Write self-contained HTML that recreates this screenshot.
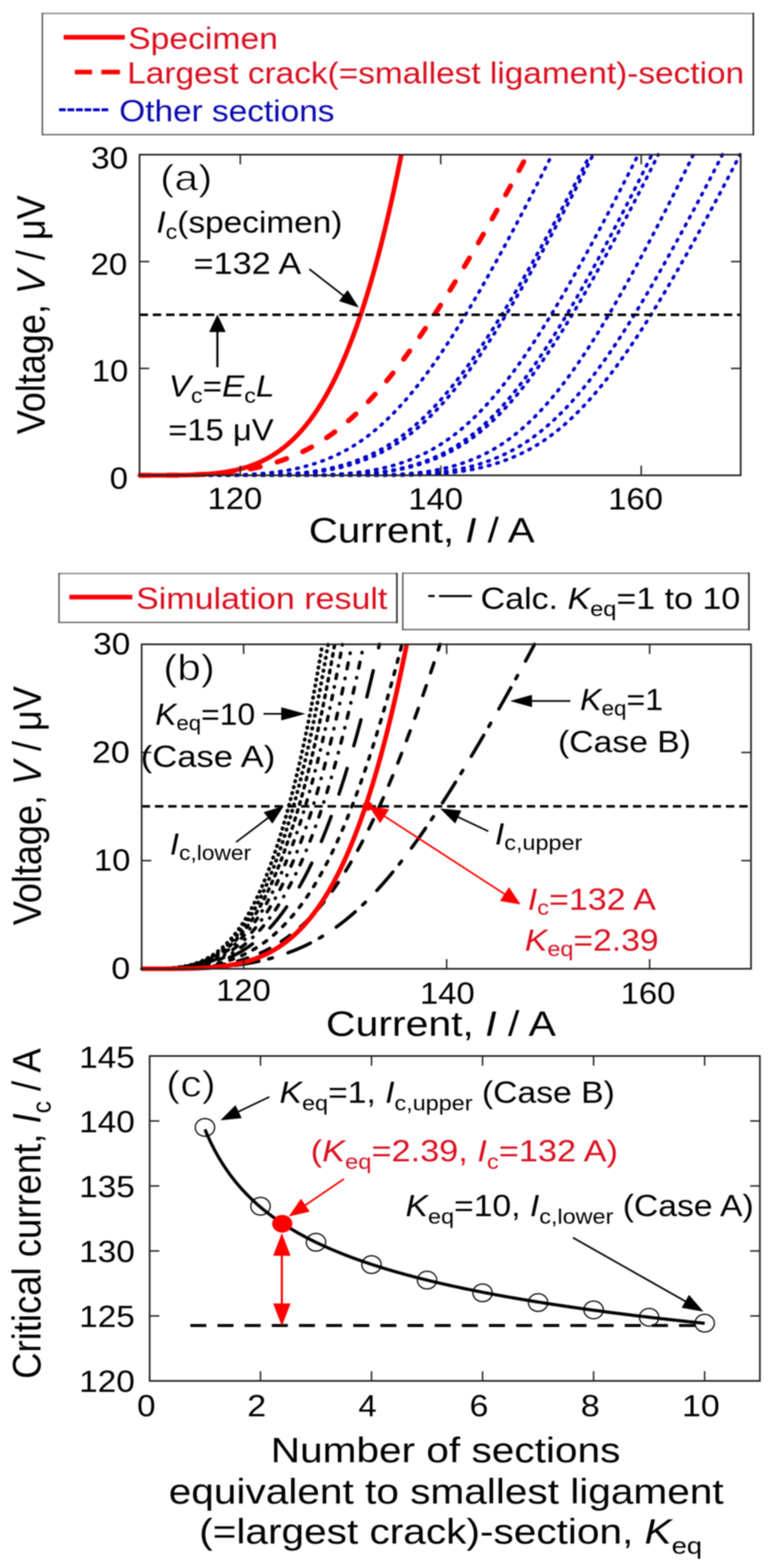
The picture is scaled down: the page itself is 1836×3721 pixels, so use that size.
<!DOCTYPE html>
<html><head><meta charset="utf-8"><title>Figure</title>
<style>html,body{margin:0;padding:0;background:#fff;}svg{display:block;filter:blur(1.5px);}</style>
</head><body>
<svg width="1836" height="3721" viewBox="0 0 1836 3721" font-family='"Liberation Sans", Arial, Helvetica, sans-serif'>
<rect width="1836" height="3721" fill="#fff"/>
<line x1="100.5" y1="32" x2="1787" y2="32" stroke="#7c7c7c" stroke-width="3.2" stroke-linecap="square"/>
<line x1="100.5" y1="319.5" x2="1787" y2="319.5" stroke="#5a5a5a" stroke-width="3.2" stroke-linecap="square"/>
<line x1="100.5" y1="32" x2="100.5" y2="319.5" stroke="#4a4a4a" stroke-width="3.2" stroke-linecap="square"/>
<line x1="1787" y1="32" x2="1787" y2="319.5" stroke="#262626" stroke-width="3.8" stroke-linecap="square"/>
<line x1="151" y1="88.5" x2="296" y2="88.5" stroke="#ff0000" stroke-width="11" stroke-linecap="butt"/>
<text transform="matrix(1.11 0 0 1 303.97 115.5)" font-size="72" fill="#da1020"><tspan>Specimen</tspan></text>
<line x1="177.5" y1="171" x2="218.5" y2="171" stroke="#ff0000" stroke-width="11" stroke-linecap="butt"/>
<line x1="240.5" y1="171" x2="284.5" y2="171" stroke="#ff0000" stroke-width="11" stroke-linecap="butt"/>
<text transform="matrix(1.1 0 0 1 301.79 197.5)" font-size="72" fill="#da1020"><tspan>Largest crack(=smallest ligament)-section</tspan></text>
<line x1="140" y1="260.5" x2="261" y2="260.5" stroke="#0000c8" stroke-width="7" stroke-linecap="butt" stroke-dasharray="15.8 4.4"/>
<text transform="matrix(1.1 0 0 1 282.83 288)" font-size="72" fill="#0a0ab0"><tspan>Other sections</tspan></text>
<path d="M332.25 1128 L333.84 1128 L335.42 1128 L337.01 1128 L338.6 1128 L340.18 1128 L341.77 1128 L343.36 1128 L344.94 1128 L346.53 1128 L348.12 1128 L349.7 1128 L351.29 1128 L352.88 1128 L354.46 1128 L356.05 1128 L357.64 1128 L359.22 1128 L360.81 1128 L362.4 1128 L363.99 1128 L365.57 1128 L367.16 1128 L368.75 1128 L370.33 1128 L371.92 1128 L373.51 1128 L375.09 1128 L376.68 1128 L378.27 1128 L379.85 1128 L381.44 1128 L383.03 1128 L384.61 1128 L386.2 1128 L387.79 1128 L389.37 1128 L390.96 1128 L392.55 1128 L394.13 1128 L395.72 1128 L397.31 1128 L398.89 1128 L400.48 1128 L402.07 1128 L403.65 1128 L405.24 1128 L406.83 1128 L408.41 1128 L410 1128 L411.59 1128 L413.17 1128 L414.76 1128 L416.35 1128 L417.94 1128 L419.52 1128 L421.11 1128 L422.7 1128 L424.28 1128 L425.87 1128 L427.46 1128 L429.04 1128 L430.63 1128 L432.22 1128 L433.8 1128 L435.39 1128 L436.98 1128 L438.56 1128 L440.15 1128 L441.74 1128 L443.32 1128 L444.91 1128 L446.5 1128 L448.08 1128 L449.67 1128 L451.26 1128 L452.84 1128 L454.43 1128 L456.02 1128 L457.6 1128 L459.19 1128 L460.78 1128 L462.36 1128 L463.95 1128 L465.54 1128 L467.12 1128 L468.71 1128 L470.3 1128 L471.89 1128 L473.47 1128 L475.06 1128 L476.65 1128 L478.23 1128 L479.82 1127.99 L481.41 1127.99 L482.99 1127.99 L484.58 1127.99 L486.17 1127.99 L487.75 1127.98 L489.34 1127.98 L490.93 1127.98 L492.51 1127.98 L494.1 1127.97 L495.69 1127.97 L497.27 1127.96 L498.86 1127.96 L500.45 1127.95 L502.03 1127.95 L503.62 1127.94 L505.21 1127.93 L506.79 1127.92 L508.38 1127.92 L509.97 1127.91 L511.55 1127.9 L513.14 1127.89 L514.73 1127.88 L516.31 1127.86 L517.9 1127.85 L519.49 1127.84 L521.07 1127.82 L522.66 1127.81 L524.25 1127.79 L525.84 1127.78 L527.42 1127.76 L529.01 1127.74 L530.6 1127.72 L532.18 1127.7 L533.77 1127.68 L535.36 1127.66 L536.94 1127.63 L538.53 1127.61 L540.12 1127.58 L541.7 1127.55 L543.29 1127.53 L544.88 1127.5 L546.46 1127.46 L548.05 1127.43 L549.64 1127.4 L551.22 1127.36 L552.81 1127.33 L554.4 1127.29 L555.98 1127.25 L557.57 1127.21 L559.16 1127.16 L560.74 1127.12 L562.33 1127.07 L563.92 1127.03 L565.5 1126.98 L567.09 1126.93 L568.68 1126.87 L570.26 1126.82 L571.85 1126.76 L573.44 1126.7 L575.02 1126.64 L576.61 1126.58 L578.2 1126.52 L579.79 1126.45 L581.37 1126.38 L582.96 1126.31 L584.55 1126.24 L586.13 1126.16 L587.72 1126.09 L589.31 1126.01 L590.89 1125.93 L592.48 1125.84 L594.07 1125.76 L595.65 1125.67 L597.24 1125.58 L598.83 1125.48 L600.41 1125.39 L602 1125.29 L603.59 1125.19 L605.17 1125.09 L606.76 1124.98 L608.35 1124.87 L609.93 1124.76 L611.52 1124.64 L613.11 1124.53 L614.69 1124.41 L616.28 1124.28 L617.87 1124.16 L619.45 1124.03 L621.04 1123.9 L622.63 1123.76 L624.21 1123.62 L625.8 1123.48 L627.39 1123.34 L628.97 1123.19 L630.56 1123.04 L632.15 1122.88 L633.73 1122.73 L635.32 1122.56 L636.91 1122.4 L638.5 1122.23 L640.08 1122.06 L641.67 1121.89 L643.26 1121.71 L644.84 1121.52 L646.43 1121.34 L648.02 1121.15 L649.6 1120.96 L651.19 1120.76 L652.78 1120.56 L654.36 1120.35 L655.95 1120.14 L657.54 1119.93 L659.12 1119.71 L660.71 1119.49 L662.3 1119.27 L663.88 1119.04 L665.47 1118.8 L667.06 1118.57 L668.64 1118.32 L670.23 1118.08 L671.82 1117.83 L673.4 1117.57 L674.99 1117.31 L676.58 1117.05 L678.16 1116.78 L679.75 1116.5 L681.34 1116.23 L682.92 1115.94 L684.51 1115.66 L686.1 1115.36 L687.68 1115.07 L689.27 1114.76 L690.86 1114.46 L692.45 1114.14 L694.03 1113.83 L695.62 1113.5 L697.21 1113.18 L698.79 1112.84 L700.38 1112.51 L701.97 1112.16 L703.55 1111.82 L705.14 1111.46 L706.73 1111.1 L708.31 1110.74 L709.9 1110.37 L711.49 1109.99 L713.07 1109.61 L714.66 1109.23 L716.25 1108.83 L717.83 1108.43 L719.42 1108.03 L721.01 1107.62 L722.59 1107.2 L724.18 1106.78 L725.77 1106.36 L727.35 1105.92 L728.94 1105.48 L730.53 1105.04 L732.11 1104.58 L733.7 1104.13 L735.29 1103.66 L736.87 1103.19 L738.46 1102.71 L740.05 1102.23 L741.63 1101.74 L743.22 1101.24 L744.81 1100.74 L746.4 1100.23 L747.98 1099.71 L749.57 1099.19 L751.16 1098.66 L752.74 1098.12 L754.33 1097.58 L755.92 1097.03 L757.5 1096.47 L759.09 1095.9 L760.68 1095.33 L762.26 1094.75 L763.85 1094.17 L765.44 1093.57 L767.02 1092.97 L768.61 1092.36 L770.2 1091.75 L771.78 1091.12 L773.37 1090.49 L774.96 1089.86 L776.54 1089.23 L778.13 1088.59 L779.72 1087.95 L781.3 1087.3 L782.89 1086.64 L784.48 1085.97 L786.06 1085.3 L787.65 1084.62 L789.24 1083.92 L790.82 1083.22 L792.41 1082.52 L794 1081.8 L795.58 1081.07 L797.17 1080.34 L798.76 1079.6 L800.35 1078.85 L801.93 1078.09 L803.52 1077.32 L805.11 1076.54 L806.69 1075.75 L808.28 1074.96 L809.87 1074.15 L811.45 1073.34 L813.04 1072.52 L814.63 1071.68 L816.21 1070.84 L817.8 1069.99 L819.39 1069.13 L820.97 1068.26 L822.56 1067.39 L824.15 1066.5 L825.73 1065.6 L827.32 1064.69 L828.91 1063.78 L830.49 1062.85 L832.08 1061.91 L833.67 1060.97 L835.25 1060.01 L836.84 1059.05 L838.43 1058.07 L840.01 1057.09 L841.6 1056.09 L843.19 1055.09 L844.77 1054.07 L846.36 1053.05 L847.95 1052.01 L849.53 1050.96 L851.12 1049.91 L852.71 1048.84 L854.3 1047.77 L855.88 1046.68 L857.47 1045.58 L859.06 1044.48 L860.64 1043.36 L862.23 1042.23 L863.82 1041.09 L865.4 1039.94 L866.99 1038.78 L868.58 1037.61 L870.16 1036.43 L871.75 1035.24 L873.34 1034.04 L874.92 1032.82 L876.51 1031.6 L878.1 1030.37 L879.68 1029.12 L881.27 1027.87 L882.86 1026.6 L884.44 1025.32 L886.03 1024.03 L887.62 1022.74 L889.2 1021.43 L890.79 1020.1 L892.38 1018.77 L893.96 1017.43 L895.55 1016.08 L897.14 1014.71 L898.72 1013.34 L900.31 1011.95 L901.9 1010.55 L903.48 1009.14 L905.07 1007.72 L906.66 1006.29 L908.24 1004.85 L909.83 1003.4 L911.42 1001.93 L913.01 1000.46 L914.59 998.97 L916.18 997.48 L917.77 995.97 L919.35 994.45 L920.94 992.92 L922.53 991.38 L924.11 989.82 L925.7 988.26 L927.29 986.69 L928.87 985.1 L930.46 983.5 L932.05 981.89 L933.63 980.27 L935.22 978.64 L936.81 977 L938.39 975.35 L939.98 973.69 L941.57 972.01 L943.15 970.33 L944.74 968.63 L946.33 966.92 L947.91 965.2 L949.5 963.47 L951.09 961.73 L952.67 959.98 L954.26 958.22 L955.85 956.45 L957.43 954.66 L959.02 952.87 L960.61 951.06 L962.19 949.24 L963.78 947.41 L965.37 945.58 L966.96 943.73 L968.54 941.87 L970.13 939.99 L971.72 938.11 L973.3 936.22 L974.89 934.32 L976.48 932.4 L978.06 930.48 L979.65 928.54 L981.24 926.6 L982.82 924.64 L984.41 922.68 L986 920.7 L987.58 918.71 L989.17 916.71 L990.76 914.71 L992.34 912.69 L993.93 910.66 L995.52 908.62 L997.1 906.57 L998.69 904.51 L1000.28 902.44 L1001.86 900.36 L1003.45 898.27 L1005.04 896.17 L1006.62 894.06 L1008.21 891.94 L1009.8 889.81 L1011.38 887.67 L1012.97 885.52 L1014.56 883.36 L1016.14 881.2 L1017.73 879.02 L1019.32 876.83 L1020.91 874.63 L1022.49 872.42 L1024.08 870.21 L1025.67 867.98 L1027.25 865.75 L1028.84 863.5 L1030.43 861.25 L1032.01 858.98 L1033.6 856.71 L1035.19 854.43 L1036.77 852.14 L1038.36 849.84 L1039.95 847.53 L1041.53 845.21 L1043.12 842.89 L1044.71 840.55 L1046.29 838.21 L1047.88 835.85 L1049.47 833.49 L1051.05 831.12 L1052.64 828.74 L1054.23 826.36 L1055.81 823.96 L1057.4 821.56 L1058.99 819.14 L1060.57 816.72 L1062.16 814.29 L1063.75 811.86 L1065.33 809.41 L1066.92 806.96 L1068.51 804.5 L1070.09 802.03 L1071.68 799.55 L1073.27 797.06 L1074.86 794.57 L1076.44 792.07 L1078.03 789.56 L1079.62 787.05 L1081.2 784.52 L1082.79 781.99 L1084.38 779.46 L1085.96 776.91 L1087.55 774.36 L1089.14 771.8 L1090.72 769.23 L1092.31 766.66 L1093.9 764.08 L1095.48 761.49 L1097.07 758.89 L1098.66 756.29 L1100.24 753.68 L1101.83 751.07 L1103.42 748.44 L1105 745.81 L1106.59 743.18 L1108.18 740.54 L1109.76 737.89 L1111.35 735.23 L1112.94 732.57 L1114.52 729.9 L1116.11 727.23 L1117.7 724.55 L1119.28 721.86 L1120.87 719.17 L1122.46 716.47 L1124.04 713.77 L1125.63 711.06 L1127.22 708.34 L1128.81 705.62 L1130.39 702.89 L1131.98 700.16 L1133.57 697.42 L1135.15 694.67 L1136.74 691.92 L1138.33 689.17 L1139.91 686.41 L1141.5 683.64 L1143.09 680.87 L1144.67 678.09 L1146.26 675.31 L1147.85 672.52 L1149.43 669.73 L1151.02 666.93 L1152.61 664.13 L1154.19 661.32 L1155.78 658.51 L1157.37 655.69 L1158.95 652.87 L1160.54 650.04 L1162.13 647.21 L1163.71 644.37 L1165.3 641.53 L1166.89 638.68 L1168.47 635.83 L1170.06 632.98 L1171.65 630.12 L1173.23 627.25 L1174.82 624.39 L1176.41 621.51 L1177.99 618.64 L1179.58 615.75 L1181.17 612.87 L1182.76 609.98 L1184.34 607.08 L1185.93 604.18 L1187.52 601.28 L1189.1 598.37 L1190.69 595.46 L1192.28 592.55 L1193.86 589.63 L1195.45 586.71 L1197.04 583.78 L1198.62 580.85 L1200.21 577.91 L1201.8 574.98 L1203.38 572.03 L1204.97 569.09 L1206.56 566.14 L1208.14 563.18 L1209.73 560.22 L1211.32 557.26 L1212.9 554.3 L1214.49 551.33 L1216.08 548.36 L1217.66 545.38 L1219.25 542.4 L1220.84 539.41 L1222.42 536.43 L1224.01 533.44 L1225.6 530.44 L1227.18 527.44 L1228.77 524.44 L1230.36 521.44 L1231.94 518.43 L1233.53 515.41 L1235.12 512.4 L1236.7 509.38 L1238.29 506.36 L1239.88 503.33 L1241.47 500.3 L1243.05 497.26 L1244.64 494.23 L1246.23 491.18 L1247.81 488.14 L1249.4 485.09 L1250.99 482.04 L1252.57 478.98 L1254.16 475.92 L1255.75 472.86 L1257.33 469.8 L1258.92 466.72 L1260.51 463.65 L1262.09 460.57 L1263.68 457.49 L1265.27 454.41 L1266.85 451.32 L1268.44 448.23 L1270.03 445.13 L1271.61 442.03 L1273.2 438.93 L1274.79 435.82 L1276.37 432.71 L1277.96 429.59 L1279.55 426.47 L1281.13 423.35 L1282.72 420.22 L1284.31 417.09 L1285.89 413.96 L1287.48 410.82 L1289.07 407.67 L1290.65 404.52 L1292.24 401.37 L1293.83 398.22 L1295.42 395.05 L1297 391.89 L1298.59 388.72 L1300.18 385.55 L1301.76 382.37 L1303.35 379.19 L1304.94 376 L1306.52 372.81 L1308.11 369.61 L1309.4 367" fill="none" stroke="#0000c8" stroke-width="8" stroke-linecap="round" stroke-linejoin="round" stroke-dasharray="4 16.7"/>
<path d="M332.25 1128 L333.84 1128 L335.42 1128 L337.01 1128 L338.6 1128 L340.18 1128 L341.77 1128 L343.36 1128 L344.94 1128 L346.53 1128 L348.12 1128 L349.7 1128 L351.29 1128 L352.88 1128 L354.46 1128 L356.05 1128 L357.64 1128 L359.22 1128 L360.81 1128 L362.4 1128 L363.99 1128 L365.57 1128 L367.16 1128 L368.75 1128 L370.33 1128 L371.92 1128 L373.51 1128 L375.09 1128 L376.68 1128 L378.27 1128 L379.85 1128 L381.44 1128 L383.03 1128 L384.61 1128 L386.2 1128 L387.79 1128 L389.37 1128 L390.96 1128 L392.55 1128 L394.13 1128 L395.72 1128 L397.31 1128 L398.89 1128 L400.48 1128 L402.07 1128 L403.65 1128 L405.24 1128 L406.83 1128 L408.41 1128 L410 1128 L411.59 1128 L413.17 1128 L414.76 1128 L416.35 1128 L417.94 1128 L419.52 1128 L421.11 1128 L422.7 1128 L424.28 1128 L425.87 1128 L427.46 1128 L429.04 1128 L430.63 1128 L432.22 1128 L433.8 1128 L435.39 1128 L436.98 1128 L438.56 1128 L440.15 1128 L441.74 1128 L443.32 1128 L444.91 1128 L446.5 1128 L448.08 1128 L449.67 1128 L451.26 1128 L452.84 1128 L454.43 1128 L456.02 1128 L457.6 1128 L459.19 1128 L460.78 1128 L462.36 1128 L463.95 1128 L465.54 1128 L467.12 1128 L468.71 1128 L470.3 1128 L471.89 1128 L473.47 1128 L475.06 1128 L476.65 1128 L478.23 1128 L479.82 1128 L481.41 1128 L482.99 1128 L484.58 1128 L486.17 1128 L487.75 1128 L489.34 1128 L490.93 1128 L492.51 1128 L494.1 1128 L495.69 1128 L497.27 1128 L498.86 1128 L500.45 1128 L502.03 1128 L503.62 1128 L505.21 1128 L506.79 1128 L508.38 1128 L509.97 1128 L511.55 1128 L513.14 1128 L514.73 1128 L516.31 1128 L517.9 1128 L519.49 1128 L521.07 1128 L522.66 1128 L524.25 1128 L525.84 1128 L527.42 1128 L529.01 1128 L530.6 1128 L532.18 1128 L533.77 1128 L535.36 1128 L536.94 1128 L538.53 1128 L540.12 1128 L541.7 1128 L543.29 1128 L544.88 1128 L546.46 1128 L548.05 1128 L549.64 1128 L551.22 1127.99 L552.81 1127.99 L554.4 1127.99 L555.98 1127.99 L557.57 1127.99 L559.16 1127.99 L560.74 1127.98 L562.33 1127.98 L563.92 1127.98 L565.5 1127.97 L567.09 1127.97 L568.68 1127.97 L570.26 1127.96 L571.85 1127.96 L573.44 1127.95 L575.02 1127.94 L576.61 1127.94 L578.2 1127.93 L579.79 1127.92 L581.37 1127.91 L582.96 1127.91 L584.55 1127.9 L586.13 1127.89 L587.72 1127.88 L589.31 1127.86 L590.89 1127.85 L592.48 1127.84 L594.07 1127.82 L595.65 1127.81 L597.24 1127.79 L598.83 1127.78 L600.41 1127.76 L602 1127.74 L603.59 1127.72 L605.17 1127.7 L606.76 1127.68 L608.35 1127.66 L609.93 1127.64 L611.52 1127.61 L613.11 1127.59 L614.69 1127.56 L616.28 1127.53 L617.87 1127.51 L619.45 1127.48 L621.04 1127.44 L622.63 1127.41 L624.21 1127.38 L625.8 1127.34 L627.39 1127.31 L628.97 1127.27 L630.56 1127.23 L632.15 1127.19 L633.73 1127.14 L635.32 1127.1 L636.91 1127.05 L638.5 1127.01 L640.08 1126.96 L641.67 1126.91 L643.26 1126.86 L644.84 1126.8 L646.43 1126.75 L648.02 1126.69 L649.6 1126.63 L651.19 1126.57 L652.78 1126.5 L654.36 1126.44 L655.95 1126.37 L657.54 1126.3 L659.12 1126.23 L660.71 1126.16 L662.3 1126.08 L663.88 1126 L665.47 1125.93 L667.06 1125.84 L668.64 1125.76 L670.23 1125.67 L671.82 1125.58 L673.4 1125.49 L674.99 1125.4 L676.58 1125.3 L678.16 1125.2 L679.75 1125.1 L681.34 1125 L682.92 1124.89 L684.51 1124.78 L686.1 1124.67 L687.68 1124.56 L689.27 1124.44 L690.86 1124.32 L692.45 1124.2 L694.03 1124.08 L695.62 1123.95 L697.21 1123.82 L698.79 1123.68 L700.38 1123.55 L701.97 1123.41 L703.55 1123.26 L705.14 1123.12 L706.73 1122.97 L708.31 1122.81 L709.9 1122.66 L711.49 1122.5 L713.07 1122.34 L714.66 1122.17 L716.25 1122 L717.83 1121.83 L719.42 1121.65 L721.01 1121.48 L722.59 1121.29 L724.18 1121.11 L725.77 1120.92 L727.35 1120.72 L728.94 1120.52 L730.53 1120.32 L732.11 1120.12 L733.7 1119.91 L735.29 1119.7 L736.87 1119.48 L738.46 1119.26 L740.05 1119.03 L741.63 1118.81 L743.22 1118.57 L744.81 1118.34 L746.4 1118.1 L747.98 1117.85 L749.57 1117.6 L751.16 1117.35 L752.74 1117.09 L754.33 1116.83 L755.92 1116.56 L757.5 1116.29 L759.09 1116.01 L760.68 1115.73 L762.26 1115.45 L763.85 1115.16 L765.44 1114.87 L767.02 1114.57 L768.61 1114.26 L770.2 1113.95 L771.78 1113.64 L773.37 1113.32 L774.96 1113 L776.54 1112.67 L778.13 1112.34 L779.72 1112 L781.3 1111.66 L782.89 1111.31 L784.48 1110.96 L786.06 1110.6 L787.65 1110.23 L789.24 1109.86 L790.82 1109.49 L792.41 1109.11 L794 1108.72 L795.58 1108.33 L797.17 1107.93 L798.76 1107.53 L800.35 1107.12 L801.93 1106.71 L803.52 1106.29 L805.11 1105.87 L806.69 1105.43 L808.28 1105 L809.87 1104.55 L811.45 1104.11 L813.04 1103.65 L814.63 1103.19 L816.21 1102.72 L817.8 1102.25 L819.39 1101.77 L820.97 1101.29 L822.56 1100.79 L824.15 1100.3 L825.73 1099.79 L827.32 1099.28 L828.91 1098.76 L830.49 1098.24 L832.08 1097.71 L833.67 1097.17 L835.25 1096.63 L836.84 1096.07 L838.43 1095.52 L840.01 1094.95 L841.6 1094.38 L843.19 1093.8 L844.77 1093.22 L846.36 1092.63 L847.95 1092.03 L849.53 1091.42 L851.12 1090.81 L852.71 1090.19 L854.3 1089.57 L855.88 1088.95 L857.47 1088.33 L859.06 1087.69 L860.64 1087.05 L862.23 1086.41 L863.82 1085.75 L865.4 1085.09 L866.99 1084.42 L868.58 1083.74 L870.16 1083.05 L871.75 1082.36 L873.34 1081.65 L874.92 1080.94 L876.51 1080.22 L878.1 1079.49 L879.68 1078.76 L881.27 1078.01 L882.86 1077.26 L884.44 1076.5 L886.03 1075.73 L887.62 1074.95 L889.2 1074.16 L890.79 1073.37 L892.38 1072.56 L893.96 1071.75 L895.55 1070.93 L897.14 1070.1 L898.72 1069.26 L900.31 1068.41 L901.9 1067.55 L903.48 1066.68 L905.07 1065.81 L906.66 1064.92 L908.24 1064.03 L909.83 1063.12 L911.42 1062.21 L913.01 1061.29 L914.59 1060.36 L916.18 1059.41 L917.77 1058.46 L919.35 1057.5 L920.94 1056.53 L922.53 1055.55 L924.11 1054.57 L925.7 1053.57 L927.29 1052.56 L928.87 1051.54 L930.46 1050.51 L932.05 1049.48 L933.63 1048.43 L935.22 1047.37 L936.81 1046.31 L938.39 1045.23 L939.98 1044.14 L941.57 1043.05 L943.15 1041.94 L944.74 1040.82 L946.33 1039.7 L947.91 1038.56 L949.5 1037.41 L951.09 1036.26 L952.67 1035.09 L954.26 1033.91 L955.85 1032.72 L957.43 1031.53 L959.02 1030.32 L960.61 1029.1 L962.19 1027.87 L963.78 1026.63 L965.37 1025.38 L966.96 1024.12 L968.54 1022.85 L970.13 1021.57 L971.72 1020.28 L973.3 1018.98 L974.89 1017.67 L976.48 1016.34 L978.06 1015.01 L979.65 1013.67 L981.24 1012.31 L982.82 1010.95 L984.41 1009.57 L986 1008.19 L987.58 1006.79 L989.17 1005.38 L990.76 1003.97 L992.34 1002.54 L993.93 1001.1 L995.52 999.65 L997.1 998.19 L998.69 996.72 L1000.28 995.24 L1001.86 993.75 L1003.45 992.25 L1005.04 990.73 L1006.62 989.21 L1008.21 987.67 L1009.8 986.13 L1011.38 984.57 L1012.97 983.01 L1014.56 981.43 L1016.14 979.84 L1017.73 978.25 L1019.32 976.64 L1020.91 975.02 L1022.49 973.39 L1024.08 971.75 L1025.67 970.1 L1027.25 968.43 L1028.84 966.76 L1030.43 965.08 L1032.01 963.39 L1033.6 961.68 L1035.19 959.97 L1036.77 958.24 L1038.36 956.51 L1039.95 954.76 L1041.53 953.01 L1043.12 951.24 L1044.71 949.46 L1046.29 947.68 L1047.88 945.88 L1049.47 944.07 L1051.05 942.25 L1052.64 940.43 L1054.23 938.59 L1055.81 936.74 L1057.4 934.88 L1058.99 933.01 L1060.57 931.13 L1062.16 929.24 L1063.75 927.34 L1065.33 925.43 L1066.92 923.51 L1068.51 921.58 L1070.09 919.64 L1071.68 917.69 L1073.27 915.73 L1074.86 913.76 L1076.44 911.78 L1078.03 909.79 L1079.62 907.79 L1081.2 905.78 L1082.79 903.76 L1084.38 901.73 L1085.96 899.7 L1087.55 897.65 L1089.14 895.59 L1090.72 893.52 L1092.31 891.45 L1093.9 889.36 L1095.48 887.27 L1097.07 885.16 L1098.66 883.05 L1100.24 880.92 L1101.83 878.79 L1103.42 876.65 L1105 874.5 L1106.59 872.34 L1108.18 870.17 L1109.76 867.99 L1111.35 865.8 L1112.94 863.61 L1114.52 861.4 L1116.11 859.19 L1117.7 856.97 L1119.28 854.73 L1120.87 852.49 L1122.46 850.25 L1124.04 847.99 L1125.63 845.72 L1127.22 843.45 L1128.81 841.16 L1130.39 838.87 L1131.98 836.57 L1133.57 834.26 L1135.15 831.95 L1136.74 829.62 L1138.33 827.29 L1139.91 824.95 L1141.5 822.6 L1143.09 820.24 L1144.67 817.88 L1146.26 815.51 L1147.85 813.13 L1149.43 810.74 L1151.02 808.34 L1152.61 805.94 L1154.19 803.53 L1155.78 801.11 L1157.37 798.68 L1158.95 796.25 L1160.54 793.8 L1162.13 791.36 L1163.71 788.9 L1165.3 786.44 L1166.89 783.97 L1168.47 781.49 L1170.06 779 L1171.65 776.51 L1173.23 774.01 L1174.82 771.51 L1176.41 768.99 L1177.99 766.48 L1179.58 763.95 L1181.17 761.42 L1182.76 758.88 L1184.34 756.33 L1185.93 753.78 L1187.52 751.22 L1189.1 748.65 L1190.69 746.08 L1192.28 743.5 L1193.86 740.92 L1195.45 738.33 L1197.04 735.73 L1198.62 733.13 L1200.21 730.52 L1201.8 727.9 L1203.38 725.28 L1204.97 722.66 L1206.56 720.02 L1208.14 717.39 L1209.73 714.74 L1211.32 712.09 L1212.9 709.44 L1214.49 706.78 L1216.08 704.11 L1217.66 701.44 L1219.25 698.76 L1220.84 696.08 L1222.42 693.39 L1224.01 690.69 L1225.6 688 L1227.18 685.29 L1228.77 682.58 L1230.36 679.87 L1231.94 677.15 L1233.53 674.43 L1235.12 671.7 L1236.7 668.96 L1238.29 666.22 L1239.88 663.48 L1241.47 660.73 L1243.05 657.98 L1244.64 655.22 L1246.23 652.46 L1247.81 649.69 L1249.4 646.92 L1250.99 644.14 L1252.57 641.36 L1254.16 638.58 L1255.75 635.79 L1257.33 632.99 L1258.92 630.2 L1260.51 627.39 L1262.09 624.59 L1263.68 621.78 L1265.27 618.96 L1266.85 616.14 L1268.44 613.32 L1270.03 610.49 L1271.61 607.66 L1273.2 604.82 L1274.79 601.99 L1276.37 599.14 L1277.96 596.29 L1279.55 593.44 L1281.13 590.59 L1282.72 587.73 L1284.31 584.87 L1285.89 582 L1287.48 579.13 L1289.07 576.26 L1290.65 573.38 L1292.24 570.5 L1293.83 567.61 L1295.42 564.72 L1297 561.83 L1298.59 558.94 L1300.18 556.04 L1301.76 553.13 L1303.35 550.23 L1304.94 547.32 L1306.52 544.4 L1308.11 541.49 L1309.7 538.57 L1311.28 535.64 L1312.87 532.71 L1314.46 529.78 L1316.04 526.85 L1317.63 523.91 L1319.22 520.97 L1320.8 518.02 L1322.39 515.08 L1323.98 512.12 L1325.56 509.17 L1327.15 506.21 L1328.74 503.25 L1330.32 500.28 L1331.91 497.31 L1333.5 494.34 L1335.08 491.37 L1336.67 488.39 L1338.26 485.4 L1339.84 482.42 L1341.43 479.43 L1343.02 476.44 L1344.6 473.44 L1346.19 470.44 L1347.78 467.44 L1349.37 464.43 L1350.95 461.42 L1352.54 458.41 L1354.13 455.39 L1355.71 452.37 L1357.3 449.34 L1358.89 446.32 L1360.47 443.28 L1362.06 440.25 L1363.65 437.21 L1365.23 434.17 L1366.82 431.12 L1368.41 428.07 L1369.99 425.02 L1371.58 421.96 L1373.17 418.9 L1374.75 415.83 L1376.34 412.76 L1377.93 409.69 L1379.51 406.61 L1381.1 403.53 L1382.69 400.44 L1384.27 397.35 L1385.86 394.26 L1387.45 391.16 L1389.03 388.06 L1390.62 384.95 L1392.21 381.84 L1393.79 378.73 L1395.38 375.61 L1396.97 372.48 L1398.55 369.35 L1399.75 367" fill="none" stroke="#0000c8" stroke-width="8" stroke-linecap="round" stroke-linejoin="round" stroke-dasharray="4 16.7"/>
<path d="M332.25 1128 L333.84 1128 L335.42 1128 L337.01 1128 L338.6 1128 L340.18 1128 L341.77 1128 L343.36 1128 L344.94 1128 L346.53 1128 L348.12 1128 L349.7 1128 L351.29 1128 L352.88 1128 L354.46 1128 L356.05 1128 L357.64 1128 L359.22 1128 L360.81 1128 L362.4 1128 L363.99 1128 L365.57 1128 L367.16 1128 L368.75 1128 L370.33 1128 L371.92 1128 L373.51 1128 L375.09 1128 L376.68 1128 L378.27 1128 L379.85 1128 L381.44 1128 L383.03 1128 L384.61 1128 L386.2 1128 L387.79 1128 L389.37 1128 L390.96 1128 L392.55 1128 L394.13 1128 L395.72 1128 L397.31 1128 L398.89 1128 L400.48 1128 L402.07 1128 L403.65 1128 L405.24 1128 L406.83 1128 L408.41 1128 L410 1128 L411.59 1128 L413.17 1128 L414.76 1128 L416.35 1128 L417.94 1128 L419.52 1128 L421.11 1128 L422.7 1128 L424.28 1128 L425.87 1128 L427.46 1128 L429.04 1128 L430.63 1128 L432.22 1128 L433.8 1128 L435.39 1128 L436.98 1128 L438.56 1128 L440.15 1128 L441.74 1128 L443.32 1128 L444.91 1128 L446.5 1128 L448.08 1128 L449.67 1128 L451.26 1128 L452.84 1128 L454.43 1128 L456.02 1128 L457.6 1128 L459.19 1128 L460.78 1128 L462.36 1128 L463.95 1128 L465.54 1128 L467.12 1128 L468.71 1128 L470.3 1128 L471.89 1128 L473.47 1128 L475.06 1128 L476.65 1128 L478.23 1128 L479.82 1128 L481.41 1128 L482.99 1128 L484.58 1128 L486.17 1128 L487.75 1128 L489.34 1128 L490.93 1128 L492.51 1128 L494.1 1128 L495.69 1128 L497.27 1128 L498.86 1128 L500.45 1128 L502.03 1128 L503.62 1128 L505.21 1128 L506.79 1128 L508.38 1128 L509.97 1128 L511.55 1128 L513.14 1128 L514.73 1128 L516.31 1128 L517.9 1128 L519.49 1128 L521.07 1128 L522.66 1128 L524.25 1128 L525.84 1128 L527.42 1128 L529.01 1128 L530.6 1128 L532.18 1128 L533.77 1128 L535.36 1128 L536.94 1128 L538.53 1128 L540.12 1128 L541.7 1128 L543.29 1128 L544.88 1128 L546.46 1128 L548.05 1128 L549.64 1128 L551.22 1128 L552.81 1128 L554.4 1128 L555.98 1128 L557.57 1128 L559.16 1128 L560.74 1128 L562.33 1128 L563.92 1128 L565.5 1128 L567.09 1128 L568.68 1128 L570.26 1128 L571.85 1127.99 L573.44 1127.99 L575.02 1127.99 L576.61 1127.99 L578.2 1127.99 L579.79 1127.98 L581.37 1127.98 L582.96 1127.98 L584.55 1127.97 L586.13 1127.97 L587.72 1127.97 L589.31 1127.96 L590.89 1127.96 L592.48 1127.95 L594.07 1127.95 L595.65 1127.94 L597.24 1127.93 L598.83 1127.92 L600.41 1127.92 L602 1127.91 L603.59 1127.9 L605.17 1127.89 L606.76 1127.88 L608.35 1127.86 L609.93 1127.85 L611.52 1127.84 L613.11 1127.82 L614.69 1127.81 L616.28 1127.79 L617.87 1127.78 L619.45 1127.76 L621.04 1127.74 L622.63 1127.72 L624.21 1127.7 L625.8 1127.68 L627.39 1127.66 L628.97 1127.63 L630.56 1127.61 L632.15 1127.58 L633.73 1127.56 L635.32 1127.53 L636.91 1127.5 L638.5 1127.47 L640.08 1127.44 L641.67 1127.4 L643.26 1127.37 L644.84 1127.33 L646.43 1127.29 L648.02 1127.25 L649.6 1127.21 L651.19 1127.17 L652.78 1127.13 L654.36 1127.08 L655.95 1127.03 L657.54 1126.99 L659.12 1126.94 L660.71 1126.88 L662.3 1126.83 L663.88 1126.77 L665.47 1126.72 L667.06 1126.66 L668.64 1126.59 L670.23 1126.53 L671.82 1126.47 L673.4 1126.4 L674.99 1126.33 L676.58 1126.26 L678.16 1126.18 L679.75 1126.11 L681.34 1126.03 L682.92 1125.95 L684.51 1125.87 L686.1 1125.78 L687.68 1125.7 L689.27 1125.61 L690.86 1125.51 L692.45 1125.42 L694.03 1125.32 L695.62 1125.22 L697.21 1125.12 L698.79 1125.02 L700.38 1124.91 L701.97 1124.8 L703.55 1124.69 L705.14 1124.57 L706.73 1124.45 L708.31 1124.33 L709.9 1124.21 L711.49 1124.08 L713.07 1123.95 L714.66 1123.82 L716.25 1123.68 L717.83 1123.54 L719.42 1123.4 L721.01 1123.26 L722.59 1123.11 L724.18 1122.96 L725.77 1122.8 L727.35 1122.64 L728.94 1122.48 L730.53 1122.32 L732.11 1122.15 L733.7 1121.97 L735.29 1121.8 L736.87 1121.62 L738.46 1121.44 L740.05 1121.25 L741.63 1121.06 L743.22 1120.87 L744.81 1120.67 L746.4 1120.47 L747.98 1120.26 L749.57 1120.05 L751.16 1119.84 L752.74 1119.62 L754.33 1119.4 L755.92 1119.18 L757.5 1118.95 L759.09 1118.71 L760.68 1118.47 L762.26 1118.23 L763.85 1117.99 L765.44 1117.74 L767.02 1117.48 L768.61 1117.22 L770.2 1116.96 L771.78 1116.69 L773.37 1116.42 L774.96 1116.14 L776.54 1115.85 L778.13 1115.57 L779.72 1115.28 L781.3 1114.98 L782.89 1114.68 L784.48 1114.37 L786.06 1114.06 L787.65 1113.74 L789.24 1113.42 L790.82 1113.1 L792.41 1112.76 L794 1112.43 L795.58 1112.09 L797.17 1111.74 L798.76 1111.39 L800.35 1111.03 L801.93 1110.67 L803.52 1110.3 L805.11 1109.92 L806.69 1109.54 L808.28 1109.16 L809.87 1108.77 L811.45 1108.37 L813.04 1107.97 L814.63 1107.56 L816.21 1107.15 L817.8 1106.73 L819.39 1106.3 L820.97 1105.87 L822.56 1105.43 L824.15 1104.99 L825.73 1104.54 L827.32 1104.08 L828.91 1103.62 L830.49 1103.15 L832.08 1102.68 L833.67 1102.2 L835.25 1101.71 L836.84 1101.22 L838.43 1100.72 L840.01 1100.21 L841.6 1099.7 L843.19 1099.18 L844.77 1098.65 L846.36 1098.12 L847.95 1097.58 L849.53 1097.03 L851.12 1096.48 L852.71 1095.92 L854.3 1095.35 L855.88 1094.77 L857.47 1094.19 L859.06 1093.6 L860.64 1093.01 L862.23 1092.4 L863.82 1091.79 L865.4 1091.17 L866.99 1090.55 L868.58 1089.91 L870.16 1089.29 L871.75 1088.66 L873.34 1088.02 L874.92 1087.38 L876.51 1086.72 L878.1 1086.06 L879.68 1085.39 L881.27 1084.72 L882.86 1084.03 L884.44 1083.34 L886.03 1082.64 L887.62 1081.93 L889.2 1081.21 L890.79 1080.48 L892.38 1079.74 L893.96 1079 L895.55 1078.25 L897.14 1077.48 L898.72 1076.71 L900.31 1075.93 L901.9 1075.15 L903.48 1074.35 L905.07 1073.54 L906.66 1072.73 L908.24 1071.91 L909.83 1071.07 L911.42 1070.23 L913.01 1069.38 L914.59 1068.52 L916.18 1067.65 L917.77 1066.77 L919.35 1065.88 L920.94 1064.98 L922.53 1064.08 L924.11 1063.16 L925.7 1062.23 L927.29 1061.3 L928.87 1060.35 L930.46 1059.4 L932.05 1058.43 L933.63 1057.46 L935.22 1056.47 L936.81 1055.48 L938.39 1054.47 L939.98 1053.46 L941.57 1052.43 L943.15 1051.4 L944.74 1050.36 L946.33 1049.3 L947.91 1048.24 L949.5 1047.16 L951.09 1046.08 L952.67 1044.98 L954.26 1043.88 L955.85 1042.76 L957.43 1041.64 L959.02 1040.5 L960.61 1039.35 L962.19 1038.2 L963.78 1037.03 L965.37 1035.85 L966.96 1034.66 L968.54 1033.46 L970.13 1032.26 L971.72 1031.04 L973.3 1029.8 L974.89 1028.56 L976.48 1027.31 L978.06 1026.05 L979.65 1024.78 L981.24 1023.49 L982.82 1022.2 L984.41 1020.89 L986 1019.58 L987.58 1018.25 L989.17 1016.91 L990.76 1015.56 L992.34 1014.2 L993.93 1012.83 L995.52 1011.45 L997.1 1010.06 L998.69 1008.66 L1000.28 1007.24 L1001.86 1005.82 L1003.45 1004.39 L1005.04 1002.94 L1006.62 1001.48 L1008.21 1000.01 L1009.8 998.53 L1011.38 997.04 L1012.97 995.54 L1014.56 994.03 L1016.14 992.51 L1017.73 990.97 L1019.32 989.43 L1020.91 987.87 L1022.49 986.31 L1024.08 984.73 L1025.67 983.14 L1027.25 981.54 L1028.84 979.93 L1030.43 978.31 L1032.01 976.68 L1033.6 975.03 L1035.19 973.38 L1036.77 971.71 L1038.36 970.04 L1039.95 968.35 L1041.53 966.65 L1043.12 964.95 L1044.71 963.23 L1046.29 961.5 L1047.88 959.76 L1049.47 958 L1051.05 956.24 L1052.64 954.47 L1054.23 952.68 L1055.81 950.89 L1057.4 949.08 L1058.99 947.27 L1060.57 945.44 L1062.16 943.6 L1063.75 941.75 L1065.33 939.9 L1066.92 938.03 L1068.51 936.15 L1070.09 934.26 L1071.68 932.36 L1073.27 930.44 L1074.86 928.52 L1076.44 926.59 L1078.03 924.65 L1079.62 922.69 L1081.2 920.73 L1082.79 918.76 L1084.38 916.77 L1085.96 914.78 L1087.55 912.78 L1089.14 910.76 L1090.72 908.74 L1092.31 906.7 L1093.9 904.66 L1095.48 902.6 L1097.07 900.54 L1098.66 898.46 L1100.24 896.38 L1101.83 894.29 L1103.42 892.18 L1105 890.07 L1106.59 887.94 L1108.18 885.81 L1109.76 883.67 L1111.35 881.52 L1112.94 879.35 L1114.52 877.18 L1116.11 875 L1117.7 872.81 L1119.28 870.61 L1120.87 868.4 L1122.46 866.18 L1124.04 863.96 L1125.63 861.72 L1127.22 859.47 L1128.81 857.22 L1130.39 854.96 L1131.98 852.68 L1133.57 850.4 L1135.15 848.11 L1136.74 845.81 L1138.33 843.5 L1139.91 841.19 L1141.5 838.86 L1143.09 836.52 L1144.67 834.18 L1146.26 831.83 L1147.85 829.47 L1149.43 827.1 L1151.02 824.73 L1152.61 822.34 L1154.19 819.95 L1155.78 817.55 L1157.37 815.14 L1158.95 812.72 L1160.54 810.29 L1162.13 807.86 L1163.71 805.42 L1165.3 802.97 L1166.89 800.51 L1168.47 798.05 L1170.06 795.58 L1171.65 793.1 L1173.23 790.61 L1174.82 788.11 L1176.41 785.61 L1177.99 783.1 L1179.58 780.58 L1181.17 778.06 L1182.76 775.53 L1184.34 772.99 L1185.93 770.44 L1187.52 767.89 L1189.1 765.33 L1190.69 762.76 L1192.28 760.19 L1193.86 757.61 L1195.45 755.02 L1197.04 752.43 L1198.62 749.82 L1200.21 747.22 L1201.8 744.6 L1203.38 741.98 L1204.97 739.36 L1206.56 736.72 L1208.14 734.08 L1209.73 731.44 L1211.32 728.79 L1212.9 726.13 L1214.49 723.46 L1216.08 720.79 L1217.66 718.12 L1219.25 715.43 L1220.84 712.75 L1222.42 710.05 L1224.01 707.35 L1225.6 704.65 L1227.18 701.94 L1228.77 699.22 L1230.36 696.5 L1231.94 693.77 L1233.53 691.04 L1235.12 688.3 L1236.7 685.56 L1238.29 682.81 L1239.88 680.05 L1241.47 677.29 L1243.05 674.53 L1244.64 671.76 L1246.23 668.98 L1247.81 666.2 L1249.4 663.42 L1250.99 660.63 L1252.57 657.84 L1254.16 655.04 L1255.75 652.23 L1257.33 649.42 L1258.92 646.61 L1260.51 643.79 L1262.09 640.97 L1263.68 638.14 L1265.27 635.31 L1266.85 632.47 L1268.44 629.63 L1270.03 626.79 L1271.61 623.94 L1273.2 621.08 L1274.79 618.23 L1276.37 615.36 L1277.96 612.5 L1279.55 609.63 L1281.13 606.75 L1282.72 603.87 L1284.31 600.99 L1285.89 598.1 L1287.48 595.21 L1289.07 592.31 L1290.65 589.42 L1292.24 586.51 L1293.83 583.6 L1295.42 580.69 L1297 577.78 L1298.59 574.86 L1300.18 571.94 L1301.76 569.01 L1303.35 566.08 L1304.94 563.15 L1306.52 560.21 L1308.11 557.27 L1309.7 554.32 L1311.28 551.38 L1312.87 548.42 L1314.46 545.47 L1316.04 542.51 L1317.63 539.55 L1319.22 536.58 L1320.8 533.61 L1322.39 530.63 L1323.98 527.66 L1325.56 524.68 L1327.15 521.69 L1328.74 518.7 L1330.32 515.71 L1331.91 512.72 L1333.5 509.72 L1335.08 506.72 L1336.67 503.71 L1338.26 500.7 L1339.84 497.69 L1341.43 494.67 L1343.02 491.65 L1344.6 488.63 L1346.19 485.6 L1347.78 482.57 L1349.37 479.54 L1350.95 476.5 L1352.54 473.46 L1354.13 470.42 L1355.71 467.37 L1357.3 464.32 L1358.89 461.26 L1360.47 458.2 L1362.06 455.14 L1363.65 452.07 L1365.23 449 L1366.82 445.93 L1368.41 442.85 L1369.99 439.77 L1371.58 436.68 L1373.17 433.59 L1374.75 430.5 L1376.34 427.41 L1377.93 424.3 L1379.51 421.2 L1381.1 418.09 L1382.69 414.98 L1384.27 411.86 L1385.86 408.74 L1387.45 405.62 L1389.03 402.49 L1390.62 399.36 L1392.21 396.22 L1393.79 393.08 L1395.38 389.93 L1396.97 386.78 L1398.55 383.63 L1400.14 380.47 L1401.73 377.3 L1403.32 374.13 L1404.9 370.96 L1406.49 367.78 L1406.88 367" fill="none" stroke="#0000c8" stroke-width="8" stroke-linecap="round" stroke-linejoin="round" stroke-dasharray="4 16.7"/>
<path d="M332.25 1128 L333.84 1128 L335.42 1128 L337.01 1128 L338.6 1128 L340.18 1128 L341.77 1128 L343.36 1128 L344.94 1128 L346.53 1128 L348.12 1128 L349.7 1128 L351.29 1128 L352.88 1128 L354.46 1128 L356.05 1128 L357.64 1128 L359.22 1128 L360.81 1128 L362.4 1128 L363.99 1128 L365.57 1128 L367.16 1128 L368.75 1128 L370.33 1128 L371.92 1128 L373.51 1128 L375.09 1128 L376.68 1128 L378.27 1128 L379.85 1128 L381.44 1128 L383.03 1128 L384.61 1128 L386.2 1128 L387.79 1128 L389.37 1128 L390.96 1128 L392.55 1128 L394.13 1128 L395.72 1128 L397.31 1128 L398.89 1128 L400.48 1128 L402.07 1128 L403.65 1128 L405.24 1128 L406.83 1128 L408.41 1128 L410 1128 L411.59 1128 L413.17 1128 L414.76 1128 L416.35 1128 L417.94 1128 L419.52 1128 L421.11 1128 L422.7 1128 L424.28 1128 L425.87 1128 L427.46 1128 L429.04 1128 L430.63 1128 L432.22 1128 L433.8 1128 L435.39 1128 L436.98 1128 L438.56 1128 L440.15 1128 L441.74 1128 L443.32 1128 L444.91 1128 L446.5 1128 L448.08 1128 L449.67 1128 L451.26 1128 L452.84 1128 L454.43 1128 L456.02 1128 L457.6 1128 L459.19 1128 L460.78 1128 L462.36 1128 L463.95 1128 L465.54 1128 L467.12 1128 L468.71 1128 L470.3 1128 L471.89 1128 L473.47 1128 L475.06 1128 L476.65 1128 L478.23 1128 L479.82 1128 L481.41 1128 L482.99 1128 L484.58 1128 L486.17 1128 L487.75 1128 L489.34 1128 L490.93 1128 L492.51 1128 L494.1 1128 L495.69 1128 L497.27 1128 L498.86 1128 L500.45 1128 L502.03 1128 L503.62 1128 L505.21 1128 L506.79 1128 L508.38 1128 L509.97 1128 L511.55 1128 L513.14 1128 L514.73 1128 L516.31 1128 L517.9 1128 L519.49 1128 L521.07 1128 L522.66 1128 L524.25 1128 L525.84 1128 L527.42 1128 L529.01 1128 L530.6 1128 L532.18 1128 L533.77 1128 L535.36 1128 L536.94 1128 L538.53 1128 L540.12 1128 L541.7 1128 L543.29 1128 L544.88 1128 L546.46 1128 L548.05 1128 L549.64 1128 L551.22 1128 L552.81 1128 L554.4 1128 L555.98 1128 L557.57 1128 L559.16 1128 L560.74 1128 L562.33 1128 L563.92 1128 L565.5 1128 L567.09 1128 L568.68 1128 L570.26 1128 L571.85 1128 L573.44 1128 L575.02 1128 L576.61 1128 L578.2 1128 L579.79 1128 L581.37 1128 L582.96 1128 L584.55 1128 L586.13 1128 L587.72 1128 L589.31 1128 L590.89 1128 L592.48 1128 L594.07 1128 L595.65 1128 L597.24 1128 L598.83 1128 L600.41 1128 L602 1128 L603.59 1128 L605.17 1128 L606.76 1128 L608.35 1128 L609.93 1128 L611.52 1128 L613.11 1128 L614.69 1128 L616.28 1128 L617.87 1128 L619.45 1128 L621.04 1128 L622.63 1128 L624.21 1128 L625.8 1128 L627.39 1128 L628.97 1128 L630.56 1128 L632.15 1128 L633.73 1128 L635.32 1128 L636.91 1128 L638.5 1128 L640.08 1128 L641.67 1128 L643.26 1128 L644.84 1128 L646.43 1128 L648.02 1128 L649.6 1128 L651.19 1128 L652.78 1128 L654.36 1128 L655.95 1128 L657.54 1128 L659.12 1128 L660.71 1128 L662.3 1128 L663.88 1128 L665.47 1128 L667.06 1128 L668.64 1128 L670.23 1128 L671.82 1128 L673.4 1128 L674.99 1128 L676.58 1128 L678.16 1127.99 L679.75 1127.99 L681.34 1127.99 L682.92 1127.99 L684.51 1127.99 L686.1 1127.99 L687.68 1127.98 L689.27 1127.98 L690.86 1127.98 L692.45 1127.97 L694.03 1127.97 L695.62 1127.96 L697.21 1127.96 L698.79 1127.95 L700.38 1127.95 L701.97 1127.94 L703.55 1127.93 L705.14 1127.93 L706.73 1127.92 L708.31 1127.91 L709.9 1127.9 L711.49 1127.89 L713.07 1127.88 L714.66 1127.87 L716.25 1127.86 L717.83 1127.84 L719.42 1127.83 L721.01 1127.82 L722.59 1127.8 L724.18 1127.78 L725.77 1127.77 L727.35 1127.75 L728.94 1127.73 L730.53 1127.71 L732.11 1127.69 L733.7 1127.67 L735.29 1127.64 L736.87 1127.62 L738.46 1127.59 L740.05 1127.57 L741.63 1127.54 L743.22 1127.51 L744.81 1127.48 L746.4 1127.45 L747.98 1127.42 L749.57 1127.38 L751.16 1127.35 L752.74 1127.31 L754.33 1127.27 L755.92 1127.23 L757.5 1127.19 L759.09 1127.15 L760.68 1127.1 L762.26 1127.05 L763.85 1127.01 L765.44 1126.96 L767.02 1126.91 L768.61 1126.85 L770.2 1126.8 L771.78 1126.74 L773.37 1126.68 L774.96 1126.62 L776.54 1126.56 L778.13 1126.49 L779.72 1126.43 L781.3 1126.36 L782.89 1126.29 L784.48 1126.22 L786.06 1126.14 L787.65 1126.06 L789.24 1125.98 L790.82 1125.9 L792.41 1125.82 L794 1125.73 L795.58 1125.64 L797.17 1125.55 L798.76 1125.46 L800.35 1125.36 L801.93 1125.27 L803.52 1125.17 L805.11 1125.06 L806.69 1124.96 L808.28 1124.85 L809.87 1124.74 L811.45 1124.62 L813.04 1124.5 L814.63 1124.38 L816.21 1124.26 L817.8 1124.14 L819.39 1124.01 L820.97 1123.88 L822.56 1123.74 L824.15 1123.6 L825.73 1123.46 L827.32 1123.32 L828.91 1123.17 L830.49 1123.02 L832.08 1122.87 L833.67 1122.71 L835.25 1122.55 L836.84 1122.39 L838.43 1122.22 L840.01 1122.05 L841.6 1121.87 L843.19 1121.7 L844.77 1121.52 L846.36 1121.33 L847.95 1121.14 L849.53 1120.95 L851.12 1120.75 L852.71 1120.55 L854.3 1120.35 L855.88 1120.14 L857.47 1119.93 L859.06 1119.72 L860.64 1119.5 L862.23 1119.27 L863.82 1119.04 L865.4 1118.81 L866.99 1118.58 L868.58 1118.34 L870.16 1118.09 L871.75 1117.84 L873.34 1117.59 L874.92 1117.33 L876.51 1117.07 L878.1 1116.8 L879.68 1116.53 L881.27 1116.26 L882.86 1115.98 L884.44 1115.69 L886.03 1115.4 L887.62 1115.11 L889.2 1114.81 L890.79 1114.5 L892.38 1114.19 L893.96 1113.88 L895.55 1113.56 L897.14 1113.24 L898.72 1112.91 L900.31 1112.57 L901.9 1112.23 L903.48 1111.89 L905.07 1111.54 L906.66 1111.18 L908.24 1110.82 L909.83 1110.45 L911.42 1110.08 L913.01 1109.71 L914.59 1109.32 L916.18 1108.93 L917.77 1108.54 L919.35 1108.14 L920.94 1107.74 L922.53 1107.32 L924.11 1106.91 L925.7 1106.48 L927.29 1106.06 L928.87 1105.62 L930.46 1105.18 L932.05 1104.73 L933.63 1104.28 L935.22 1103.82 L936.81 1103.35 L938.39 1102.88 L939.98 1102.4 L941.57 1101.92 L943.15 1101.43 L944.74 1100.93 L946.33 1100.43 L947.91 1099.92 L949.5 1099.4 L951.09 1098.88 L952.67 1098.35 L954.26 1097.81 L955.85 1097.26 L957.43 1096.71 L959.02 1096.16 L960.61 1095.59 L962.19 1095.02 L963.78 1094.44 L965.37 1093.85 L966.96 1093.26 L968.54 1092.66 L970.13 1092.05 L971.72 1091.44 L973.3 1090.81 L974.89 1090.18 L976.48 1089.55 L978.06 1088.93 L979.65 1088.29 L981.24 1087.65 L982.82 1087 L984.41 1086.35 L986 1085.68 L987.58 1085.01 L989.17 1084.32 L990.76 1083.63 L992.34 1082.94 L993.93 1082.23 L995.52 1081.51 L997.1 1080.79 L998.69 1080.06 L1000.28 1079.32 L1001.86 1078.57 L1003.45 1077.81 L1005.04 1077.04 L1006.62 1076.27 L1008.21 1075.48 L1009.8 1074.69 L1011.38 1073.89 L1012.97 1073.08 L1014.56 1072.26 L1016.14 1071.43 L1017.73 1070.59 L1019.32 1069.74 L1020.91 1068.89 L1022.49 1068.02 L1024.08 1067.14 L1025.67 1066.26 L1027.25 1065.37 L1028.84 1064.46 L1030.43 1063.55 L1032.01 1062.63 L1033.6 1061.7 L1035.19 1060.75 L1036.77 1059.8 L1038.36 1058.84 L1039.95 1057.87 L1041.53 1056.89 L1043.12 1055.9 L1044.71 1054.9 L1046.29 1053.89 L1047.88 1052.87 L1049.47 1051.84 L1051.05 1050.8 L1052.64 1049.75 L1054.23 1048.69 L1055.81 1047.62 L1057.4 1046.54 L1058.99 1045.45 L1060.57 1044.35 L1062.16 1043.24 L1063.75 1042.12 L1065.33 1040.98 L1066.92 1039.84 L1068.51 1038.69 L1070.09 1037.53 L1071.68 1036.35 L1073.27 1035.17 L1074.86 1033.98 L1076.44 1032.77 L1078.03 1031.56 L1079.62 1030.33 L1081.2 1029.09 L1082.79 1027.85 L1084.38 1026.59 L1085.96 1025.32 L1087.55 1024.04 L1089.14 1022.75 L1090.72 1021.45 L1092.31 1020.14 L1093.9 1018.81 L1095.48 1017.48 L1097.07 1016.14 L1098.66 1014.78 L1100.24 1013.42 L1101.83 1012.04 L1103.42 1010.65 L1105 1009.26 L1106.59 1007.85 L1108.18 1006.43 L1109.76 1005 L1111.35 1003.55 L1112.94 1002.1 L1114.52 1000.64 L1116.11 999.16 L1117.7 997.68 L1119.28 996.18 L1120.87 994.68 L1122.46 993.16 L1124.04 991.63 L1125.63 990.09 L1127.22 988.54 L1128.81 986.97 L1130.39 985.4 L1131.98 983.82 L1133.57 982.22 L1135.15 980.62 L1136.74 979 L1138.33 977.37 L1139.91 975.73 L1141.5 974.08 L1143.09 972.42 L1144.67 970.75 L1146.26 969.07 L1147.85 967.38 L1149.43 965.67 L1151.02 963.96 L1152.61 962.23 L1154.19 960.5 L1155.78 958.75 L1157.37 956.99 L1158.95 955.22 L1160.54 953.44 L1162.13 951.65 L1163.71 949.85 L1165.3 948.04 L1166.89 946.22 L1168.47 944.38 L1170.06 942.54 L1171.65 940.69 L1173.23 938.82 L1174.82 936.95 L1176.41 935.06 L1177.99 933.16 L1179.58 931.26 L1181.17 929.34 L1182.76 927.41 L1184.34 925.47 L1185.93 923.53 L1187.52 921.57 L1189.1 919.6 L1190.69 917.62 L1192.28 915.63 L1193.86 913.63 L1195.45 911.62 L1197.04 909.6 L1198.62 907.57 L1200.21 905.53 L1201.8 903.48 L1203.38 901.42 L1204.97 899.35 L1206.56 897.27 L1208.14 895.18 L1209.73 893.08 L1211.32 890.97 L1212.9 888.85 L1214.49 886.72 L1216.08 884.58 L1217.66 882.43 L1219.25 880.27 L1220.84 878.11 L1222.42 875.93 L1224.01 873.74 L1225.6 871.55 L1227.18 869.34 L1228.77 867.13 L1230.36 864.9 L1231.94 862.67 L1233.53 860.43 L1235.12 858.18 L1236.7 855.92 L1238.29 853.65 L1239.88 851.37 L1241.47 849.08 L1243.05 846.79 L1244.64 844.48 L1246.23 842.17 L1247.81 839.85 L1249.4 837.52 L1250.99 835.18 L1252.57 832.83 L1254.16 830.47 L1255.75 828.11 L1257.33 825.74 L1258.92 823.36 L1260.51 820.97 L1262.09 818.57 L1263.68 816.16 L1265.27 813.75 L1266.85 811.33 L1268.44 808.9 L1270.03 806.46 L1271.61 804.01 L1273.2 801.56 L1274.79 799.1 L1276.37 796.63 L1277.96 794.15 L1279.55 791.67 L1281.13 789.17 L1282.72 786.68 L1284.31 784.17 L1285.89 781.65 L1287.48 779.13 L1289.07 776.6 L1290.65 774.07 L1292.24 771.52 L1293.83 768.97 L1295.42 766.42 L1297 763.85 L1298.59 761.28 L1300.18 758.7 L1301.76 756.12 L1303.35 753.53 L1304.94 750.93 L1306.52 748.33 L1308.11 745.71 L1309.7 743.1 L1311.28 740.47 L1312.87 737.84 L1314.46 735.21 L1316.04 732.56 L1317.63 729.91 L1319.22 727.26 L1320.8 724.6 L1322.39 721.93 L1323.98 719.25 L1325.56 716.58 L1327.15 713.89 L1328.74 711.2 L1330.32 708.5 L1331.91 705.8 L1333.5 703.09 L1335.08 700.38 L1336.67 697.66 L1338.26 694.93 L1339.84 692.2 L1341.43 689.46 L1343.02 686.72 L1344.6 683.98 L1346.19 681.22 L1347.78 678.47 L1349.37 675.7 L1350.95 672.94 L1352.54 670.16 L1354.13 667.39 L1355.71 664.6 L1357.3 661.82 L1358.89 659.02 L1360.47 656.23 L1362.06 653.42 L1363.65 650.62 L1365.23 647.81 L1366.82 644.99 L1368.41 642.17 L1369.99 639.34 L1371.58 636.51 L1373.17 633.68 L1374.75 630.84 L1376.34 628 L1377.93 625.15 L1379.51 622.3 L1381.1 619.44 L1382.69 616.58 L1384.27 613.72 L1385.86 610.85 L1387.45 607.97 L1389.03 605.1 L1390.62 602.21 L1392.21 599.33 L1393.79 596.44 L1395.38 593.55 L1396.97 590.65 L1398.55 587.75 L1400.14 584.84 L1401.73 581.93 L1403.32 579.02 L1404.9 576.1 L1406.49 573.18 L1408.08 570.26 L1409.66 567.33 L1411.25 564.4 L1412.84 561.46 L1414.42 558.52 L1416.01 555.58 L1417.6 552.63 L1419.18 549.68 L1420.77 546.72 L1422.36 543.77 L1423.94 540.81 L1425.53 537.84 L1427.12 534.87 L1428.7 531.9 L1430.29 528.92 L1431.88 525.94 L1433.46 522.96 L1435.05 519.97 L1436.64 516.98 L1438.22 513.99 L1439.81 510.99 L1441.4 507.99 L1442.98 504.99 L1444.57 501.98 L1446.16 498.97 L1447.74 495.96 L1449.33 492.94 L1450.92 489.92 L1452.5 486.89 L1454.09 483.86 L1455.68 480.83 L1457.27 477.79 L1458.85 474.75 L1460.44 471.71 L1462.03 468.66 L1463.61 465.61 L1465.2 462.56 L1466.79 459.5 L1468.37 456.44 L1469.96 453.38 L1471.55 450.31 L1473.13 447.23 L1474.72 444.16 L1476.31 441.08 L1477.89 438 L1479.48 434.91 L1481.07 431.82 L1482.65 428.72 L1484.24 425.62 L1485.83 422.52 L1487.41 419.41 L1489 416.3 L1490.59 413.19 L1492.17 410.07 L1493.76 406.95 L1495.35 403.82 L1496.93 400.69 L1498.52 397.55 L1500.11 394.41 L1501.69 391.27 L1503.28 388.12 L1504.87 384.97 L1506.45 381.81 L1508.04 378.65 L1509.63 375.48 L1511.21 372.31 L1512.8 369.14 L1513.87 367" fill="none" stroke="#0000c8" stroke-width="8" stroke-linecap="round" stroke-linejoin="round" stroke-dasharray="4 16.7"/>
<path d="M332.25 1128 L333.84 1128 L335.42 1128 L337.01 1128 L338.6 1128 L340.18 1128 L341.77 1128 L343.36 1128 L344.94 1128 L346.53 1128 L348.12 1128 L349.7 1128 L351.29 1128 L352.88 1128 L354.46 1128 L356.05 1128 L357.64 1128 L359.22 1128 L360.81 1128 L362.4 1128 L363.99 1128 L365.57 1128 L367.16 1128 L368.75 1128 L370.33 1128 L371.92 1128 L373.51 1128 L375.09 1128 L376.68 1128 L378.27 1128 L379.85 1128 L381.44 1128 L383.03 1128 L384.61 1128 L386.2 1128 L387.79 1128 L389.37 1128 L390.96 1128 L392.55 1128 L394.13 1128 L395.72 1128 L397.31 1128 L398.89 1128 L400.48 1128 L402.07 1128 L403.65 1128 L405.24 1128 L406.83 1128 L408.41 1128 L410 1128 L411.59 1128 L413.17 1128 L414.76 1128 L416.35 1128 L417.94 1128 L419.52 1128 L421.11 1128 L422.7 1128 L424.28 1128 L425.87 1128 L427.46 1128 L429.04 1128 L430.63 1128 L432.22 1128 L433.8 1128 L435.39 1128 L436.98 1128 L438.56 1128 L440.15 1128 L441.74 1128 L443.32 1128 L444.91 1128 L446.5 1128 L448.08 1128 L449.67 1128 L451.26 1128 L452.84 1128 L454.43 1128 L456.02 1128 L457.6 1128 L459.19 1128 L460.78 1128 L462.36 1128 L463.95 1128 L465.54 1128 L467.12 1128 L468.71 1128 L470.3 1128 L471.89 1128 L473.47 1128 L475.06 1128 L476.65 1128 L478.23 1128 L479.82 1128 L481.41 1128 L482.99 1128 L484.58 1128 L486.17 1128 L487.75 1128 L489.34 1128 L490.93 1128 L492.51 1128 L494.1 1128 L495.69 1128 L497.27 1128 L498.86 1128 L500.45 1128 L502.03 1128 L503.62 1128 L505.21 1128 L506.79 1128 L508.38 1128 L509.97 1128 L511.55 1128 L513.14 1128 L514.73 1128 L516.31 1128 L517.9 1128 L519.49 1128 L521.07 1128 L522.66 1128 L524.25 1128 L525.84 1128 L527.42 1128 L529.01 1128 L530.6 1128 L532.18 1128 L533.77 1128 L535.36 1128 L536.94 1128 L538.53 1128 L540.12 1128 L541.7 1128 L543.29 1128 L544.88 1128 L546.46 1128 L548.05 1128 L549.64 1128 L551.22 1128 L552.81 1128 L554.4 1128 L555.98 1128 L557.57 1128 L559.16 1128 L560.74 1128 L562.33 1128 L563.92 1128 L565.5 1128 L567.09 1128 L568.68 1128 L570.26 1128 L571.85 1128 L573.44 1128 L575.02 1128 L576.61 1128 L578.2 1128 L579.79 1128 L581.37 1128 L582.96 1128 L584.55 1128 L586.13 1128 L587.72 1128 L589.31 1128 L590.89 1128 L592.48 1128 L594.07 1128 L595.65 1128 L597.24 1128 L598.83 1128 L600.41 1128 L602 1128 L603.59 1128 L605.17 1128 L606.76 1128 L608.35 1128 L609.93 1128 L611.52 1128 L613.11 1128 L614.69 1128 L616.28 1128 L617.87 1128 L619.45 1128 L621.04 1128 L622.63 1128 L624.21 1128 L625.8 1128 L627.39 1128 L628.97 1128 L630.56 1128 L632.15 1128 L633.73 1128 L635.32 1128 L636.91 1128 L638.5 1128 L640.08 1128 L641.67 1128 L643.26 1128 L644.84 1128 L646.43 1128 L648.02 1128 L649.6 1128 L651.19 1128 L652.78 1128 L654.36 1128 L655.95 1128 L657.54 1128 L659.12 1128 L660.71 1128 L662.3 1128 L663.88 1128 L665.47 1128 L667.06 1128 L668.64 1128 L670.23 1128 L671.82 1128 L673.4 1128 L674.99 1128 L676.58 1128 L678.16 1128 L679.75 1128 L681.34 1128 L682.92 1128 L684.51 1128 L686.1 1128 L687.68 1128 L689.27 1128 L690.86 1128 L692.45 1128 L694.03 1128 L695.62 1128 L697.21 1128 L698.79 1128 L700.38 1128 L701.97 1128 L703.55 1128 L705.14 1128 L706.73 1128 L708.31 1128 L709.9 1128 L711.49 1128 L713.07 1128 L714.66 1128 L716.25 1128 L717.83 1128 L719.42 1128 L721.01 1128 L722.59 1128 L724.18 1128 L725.77 1128 L727.35 1128 L728.94 1127.99 L730.53 1127.99 L732.11 1127.99 L733.7 1127.99 L735.29 1127.99 L736.87 1127.98 L738.46 1127.98 L740.05 1127.98 L741.63 1127.98 L743.22 1127.97 L744.81 1127.97 L746.4 1127.96 L747.98 1127.96 L749.57 1127.95 L751.16 1127.95 L752.74 1127.94 L754.33 1127.93 L755.92 1127.92 L757.5 1127.91 L759.09 1127.91 L760.68 1127.9 L762.26 1127.88 L763.85 1127.87 L765.44 1127.86 L767.02 1127.85 L768.61 1127.83 L770.2 1127.82 L771.78 1127.8 L773.37 1127.79 L774.96 1127.77 L776.54 1127.75 L778.13 1127.73 L779.72 1127.71 L781.3 1127.69 L782.89 1127.67 L784.48 1127.65 L786.06 1127.62 L787.65 1127.6 L789.24 1127.57 L790.82 1127.54 L792.41 1127.51 L794 1127.48 L795.58 1127.45 L797.17 1127.41 L798.76 1127.38 L800.35 1127.34 L801.93 1127.3 L803.52 1127.26 L805.11 1127.22 L806.69 1127.18 L808.28 1127.14 L809.87 1127.09 L811.45 1127.04 L813.04 1126.99 L814.63 1126.94 L816.21 1126.89 L817.8 1126.83 L819.39 1126.77 L820.97 1126.72 L822.56 1126.66 L824.15 1126.59 L825.73 1126.53 L827.32 1126.46 L828.91 1126.39 L830.49 1126.32 L832.08 1126.25 L833.67 1126.17 L835.25 1126.09 L836.84 1126.01 L838.43 1125.93 L840.01 1125.85 L841.6 1125.76 L843.19 1125.67 L844.77 1125.58 L846.36 1125.48 L847.95 1125.38 L849.53 1125.28 L851.12 1125.18 L852.71 1125.08 L854.3 1124.97 L855.88 1124.86 L857.47 1124.74 L859.06 1124.63 L860.64 1124.51 L862.23 1124.38 L863.82 1124.26 L865.4 1124.13 L866.99 1124 L868.58 1123.86 L870.16 1123.73 L871.75 1123.58 L873.34 1123.44 L874.92 1123.29 L876.51 1123.14 L878.1 1122.99 L879.68 1122.83 L881.27 1122.67 L882.86 1122.5 L884.44 1122.33 L886.03 1122.16 L887.62 1121.99 L889.2 1121.81 L890.79 1121.62 L892.38 1121.44 L893.96 1121.25 L895.55 1121.05 L897.14 1120.85 L898.72 1120.65 L900.31 1120.45 L901.9 1120.23 L903.48 1120.02 L905.07 1119.8 L906.66 1119.58 L908.24 1119.35 L909.83 1119.12 L911.42 1118.88 L913.01 1118.64 L914.59 1118.4 L916.18 1118.15 L917.77 1117.9 L919.35 1117.64 L920.94 1117.38 L922.53 1117.11 L924.11 1116.84 L925.7 1116.56 L927.29 1116.28 L928.87 1115.99 L930.46 1115.7 L932.05 1115.41 L933.63 1115.1 L935.22 1114.8 L936.81 1114.49 L938.39 1114.17 L939.98 1113.85 L941.57 1113.52 L943.15 1113.19 L944.74 1112.85 L946.33 1112.51 L947.91 1112.16 L949.5 1111.81 L951.09 1111.45 L952.67 1111.08 L954.26 1110.71 L955.85 1110.34 L957.43 1109.96 L959.02 1109.57 L960.61 1109.17 L962.19 1108.78 L963.78 1108.37 L965.37 1107.96 L966.96 1107.54 L968.54 1107.12 L970.13 1106.69 L971.72 1106.25 L973.3 1105.81 L974.89 1105.36 L976.48 1104.91 L978.06 1104.45 L979.65 1103.98 L981.24 1103.51 L982.82 1103.03 L984.41 1102.54 L986 1102.05 L987.58 1101.55 L989.17 1101.04 L990.76 1100.53 L992.34 1100 L993.93 1099.48 L995.52 1098.94 L997.1 1098.4 L998.69 1097.85 L1000.28 1097.3 L1001.86 1096.73 L1003.45 1096.16 L1005.04 1095.59 L1006.62 1095 L1008.21 1094.41 L1009.8 1093.81 L1011.38 1093.2 L1012.97 1092.59 L1014.56 1091.96 L1016.14 1091.34 L1017.73 1090.7 L1019.32 1090.05 L1020.91 1089.41 L1022.49 1088.77 L1024.08 1088.12 L1025.67 1087.46 L1027.25 1086.79 L1028.84 1086.12 L1030.43 1085.43 L1032.01 1084.74 L1033.6 1084.04 L1035.19 1083.33 L1036.77 1082.61 L1038.36 1081.89 L1039.95 1081.15 L1041.53 1080.41 L1043.12 1079.66 L1044.71 1078.89 L1046.29 1078.12 L1047.88 1077.34 L1049.47 1076.55 L1051.05 1075.75 L1052.64 1074.95 L1054.23 1074.13 L1055.81 1073.3 L1057.4 1072.47 L1058.99 1071.62 L1060.57 1070.77 L1062.16 1069.9 L1063.75 1069.03 L1065.33 1068.14 L1066.92 1067.25 L1068.51 1066.35 L1070.09 1065.44 L1071.68 1064.51 L1073.27 1063.58 L1074.86 1062.64 L1076.44 1061.68 L1078.03 1060.72 L1079.62 1059.75 L1081.2 1058.77 L1082.79 1057.77 L1084.38 1056.77 L1085.96 1055.76 L1087.55 1054.73 L1089.14 1053.7 L1090.72 1052.65 L1092.31 1051.6 L1093.9 1050.53 L1095.48 1049.45 L1097.07 1048.37 L1098.66 1047.27 L1100.24 1046.16 L1101.83 1045.04 L1103.42 1043.91 L1105 1042.77 L1106.59 1041.62 L1108.18 1040.46 L1109.76 1039.29 L1111.35 1038.11 L1112.94 1036.91 L1114.52 1035.71 L1116.11 1034.49 L1117.7 1033.26 L1119.28 1032.02 L1120.87 1030.77 L1122.46 1029.51 L1124.04 1028.24 L1125.63 1026.96 L1127.22 1025.67 L1128.81 1024.36 L1130.39 1023.04 L1131.98 1021.72 L1133.57 1020.38 L1135.15 1019.03 L1136.74 1017.67 L1138.33 1016.29 L1139.91 1014.91 L1141.5 1013.52 L1143.09 1012.11 L1144.67 1010.69 L1146.26 1009.26 L1147.85 1007.82 L1149.43 1006.37 L1151.02 1004.91 L1152.61 1003.43 L1154.19 1001.95 L1155.78 1000.45 L1157.37 998.94 L1158.95 997.42 L1160.54 995.89 L1162.13 994.34 L1163.71 992.79 L1165.3 991.22 L1166.89 989.65 L1168.47 988.06 L1170.06 986.46 L1171.65 984.84 L1173.23 983.22 L1174.82 981.59 L1176.41 979.94 L1177.99 978.28 L1179.58 976.61 L1181.17 974.93 L1182.76 973.24 L1184.34 971.54 L1185.93 969.82 L1187.52 968.1 L1189.1 966.36 L1190.69 964.61 L1192.28 962.85 L1193.86 961.08 L1195.45 959.3 L1197.04 957.5 L1198.62 955.7 L1200.21 953.88 L1201.8 952.05 L1203.38 950.21 L1204.97 948.36 L1206.56 946.5 L1208.14 944.63 L1209.73 942.75 L1211.32 940.85 L1212.9 938.95 L1214.49 937.03 L1216.08 935.1 L1217.66 933.16 L1219.25 931.21 L1220.84 929.25 L1222.42 927.28 L1224.01 925.3 L1225.6 923.31 L1227.18 921.3 L1228.77 919.29 L1230.36 917.26 L1231.94 915.23 L1233.53 913.18 L1235.12 911.12 L1236.7 909.06 L1238.29 906.98 L1239.88 904.89 L1241.47 902.79 L1243.05 900.68 L1244.64 898.56 L1246.23 896.43 L1247.81 894.29 L1249.4 892.14 L1250.99 889.97 L1252.57 887.8 L1254.16 885.62 L1255.75 883.43 L1257.33 881.23 L1258.92 879.02 L1260.51 876.8 L1262.09 874.56 L1263.68 872.32 L1265.27 870.07 L1266.85 867.81 L1268.44 865.54 L1270.03 863.26 L1271.61 860.97 L1273.2 858.67 L1274.79 856.36 L1276.37 854.04 L1277.96 851.72 L1279.55 849.38 L1281.13 847.03 L1282.72 844.68 L1284.31 842.32 L1285.89 839.94 L1287.48 837.56 L1289.07 835.17 L1290.65 832.77 L1292.24 830.36 L1293.83 827.94 L1295.42 825.51 L1297 823.08 L1298.59 820.63 L1300.18 818.18 L1301.76 815.72 L1303.35 813.25 L1304.94 810.77 L1306.52 808.29 L1308.11 805.79 L1309.7 803.29 L1311.28 800.78 L1312.87 798.26 L1314.46 795.73 L1316.04 793.2 L1317.63 790.65 L1319.22 788.1 L1320.8 785.54 L1322.39 782.98 L1323.98 780.4 L1325.56 777.82 L1327.15 775.23 L1328.74 772.64 L1330.32 770.03 L1331.91 767.42 L1333.5 764.8 L1335.08 762.18 L1336.67 759.54 L1338.26 756.9 L1339.84 754.26 L1341.43 751.6 L1343.02 748.94 L1344.6 746.27 L1346.19 743.6 L1347.78 740.92 L1349.37 738.23 L1350.95 735.53 L1352.54 732.83 L1354.13 730.13 L1355.71 727.41 L1357.3 724.69 L1358.89 721.96 L1360.47 719.23 L1362.06 716.49 L1363.65 713.74 L1365.23 710.99 L1366.82 708.24 L1368.41 705.47 L1369.99 702.7 L1371.58 699.93 L1373.17 697.14 L1374.75 694.36 L1376.34 691.56 L1377.93 688.77 L1379.51 685.96 L1381.1 683.15 L1382.69 680.34 L1384.27 677.52 L1385.86 674.69 L1387.45 671.86 L1389.03 669.02 L1390.62 666.18 L1392.21 663.33 L1393.79 660.48 L1395.38 657.62 L1396.97 654.76 L1398.55 651.89 L1400.14 649.02 L1401.73 646.15 L1403.32 643.26 L1404.9 640.38 L1406.49 637.49 L1408.08 634.59 L1409.66 631.69 L1411.25 628.78 L1412.84 625.87 L1414.42 622.96 L1416.01 620.04 L1417.6 617.11 L1419.18 614.19 L1420.77 611.25 L1422.36 608.32 L1423.94 605.38 L1425.53 602.43 L1427.12 599.48 L1428.7 596.53 L1430.29 593.57 L1431.88 590.61 L1433.46 587.64 L1435.05 584.67 L1436.64 581.7 L1438.22 578.72 L1439.81 575.73 L1441.4 572.75 L1442.98 569.76 L1444.57 566.76 L1446.16 563.76 L1447.74 560.76 L1449.33 557.76 L1450.92 554.75 L1452.5 551.73 L1454.09 548.71 L1455.68 545.69 L1457.27 542.67 L1458.85 539.64 L1460.44 536.61 L1462.03 533.57 L1463.61 530.53 L1465.2 527.48 L1466.79 524.44 L1468.37 521.39 L1469.96 518.33 L1471.55 515.27 L1473.13 512.21 L1474.72 509.14 L1476.31 506.07 L1477.89 503 L1479.48 499.92 L1481.07 496.84 L1482.65 493.76 L1484.24 490.67 L1485.83 487.58 L1487.41 484.48 L1489 481.38 L1490.59 478.28 L1492.17 475.17 L1493.76 472.06 L1495.35 468.95 L1496.93 465.83 L1498.52 462.71 L1500.11 459.58 L1501.69 456.45 L1503.28 453.32 L1504.87 450.18 L1506.45 447.04 L1508.04 443.9 L1509.63 440.75 L1511.21 437.59 L1512.8 434.44 L1514.39 431.28 L1515.98 428.11 L1517.56 424.94 L1519.15 421.77 L1520.74 418.59 L1522.32 415.41 L1523.91 412.22 L1525.5 409.03 L1527.08 405.84 L1528.67 402.64 L1530.26 399.44 L1531.84 396.23 L1533.43 393.02 L1535.02 389.8 L1536.6 386.58 L1538.19 383.36 L1539.78 380.13 L1541.36 376.89 L1542.95 373.65 L1544.54 370.41 L1546.12 367.16 L1546.2 367" fill="none" stroke="#0000c8" stroke-width="8" stroke-linecap="round" stroke-linejoin="round" stroke-dasharray="4 16.7"/>
<path d="M332.25 1128 L333.84 1128 L335.42 1128 L337.01 1128 L338.6 1128 L340.18 1128 L341.77 1128 L343.36 1128 L344.94 1128 L346.53 1128 L348.12 1128 L349.7 1128 L351.29 1128 L352.88 1128 L354.46 1128 L356.05 1128 L357.64 1128 L359.22 1128 L360.81 1128 L362.4 1128 L363.99 1128 L365.57 1128 L367.16 1128 L368.75 1128 L370.33 1128 L371.92 1128 L373.51 1128 L375.09 1128 L376.68 1128 L378.27 1128 L379.85 1128 L381.44 1128 L383.03 1128 L384.61 1128 L386.2 1128 L387.79 1128 L389.37 1128 L390.96 1128 L392.55 1128 L394.13 1128 L395.72 1128 L397.31 1128 L398.89 1128 L400.48 1128 L402.07 1128 L403.65 1128 L405.24 1128 L406.83 1128 L408.41 1128 L410 1128 L411.59 1128 L413.17 1128 L414.76 1128 L416.35 1128 L417.94 1128 L419.52 1128 L421.11 1128 L422.7 1128 L424.28 1128 L425.87 1128 L427.46 1128 L429.04 1128 L430.63 1128 L432.22 1128 L433.8 1128 L435.39 1128 L436.98 1128 L438.56 1128 L440.15 1128 L441.74 1128 L443.32 1128 L444.91 1128 L446.5 1128 L448.08 1128 L449.67 1128 L451.26 1128 L452.84 1128 L454.43 1128 L456.02 1128 L457.6 1128 L459.19 1128 L460.78 1128 L462.36 1128 L463.95 1128 L465.54 1128 L467.12 1128 L468.71 1128 L470.3 1128 L471.89 1128 L473.47 1128 L475.06 1128 L476.65 1128 L478.23 1128 L479.82 1128 L481.41 1128 L482.99 1128 L484.58 1128 L486.17 1128 L487.75 1128 L489.34 1128 L490.93 1128 L492.51 1128 L494.1 1128 L495.69 1128 L497.27 1128 L498.86 1128 L500.45 1128 L502.03 1128 L503.62 1128 L505.21 1128 L506.79 1128 L508.38 1128 L509.97 1128 L511.55 1128 L513.14 1128 L514.73 1128 L516.31 1128 L517.9 1128 L519.49 1128 L521.07 1128 L522.66 1128 L524.25 1128 L525.84 1128 L527.42 1128 L529.01 1128 L530.6 1128 L532.18 1128 L533.77 1128 L535.36 1128 L536.94 1128 L538.53 1128 L540.12 1128 L541.7 1128 L543.29 1128 L544.88 1128 L546.46 1128 L548.05 1128 L549.64 1128 L551.22 1128 L552.81 1128 L554.4 1128 L555.98 1128 L557.57 1128 L559.16 1128 L560.74 1128 L562.33 1128 L563.92 1128 L565.5 1128 L567.09 1128 L568.68 1128 L570.26 1128 L571.85 1128 L573.44 1128 L575.02 1128 L576.61 1128 L578.2 1128 L579.79 1128 L581.37 1128 L582.96 1128 L584.55 1128 L586.13 1128 L587.72 1128 L589.31 1128 L590.89 1128 L592.48 1128 L594.07 1128 L595.65 1128 L597.24 1128 L598.83 1128 L600.41 1128 L602 1128 L603.59 1128 L605.17 1128 L606.76 1128 L608.35 1128 L609.93 1128 L611.52 1128 L613.11 1128 L614.69 1128 L616.28 1128 L617.87 1128 L619.45 1128 L621.04 1128 L622.63 1128 L624.21 1128 L625.8 1128 L627.39 1128 L628.97 1128 L630.56 1128 L632.15 1128 L633.73 1128 L635.32 1128 L636.91 1128 L638.5 1128 L640.08 1128 L641.67 1128 L643.26 1128 L644.84 1128 L646.43 1128 L648.02 1128 L649.6 1128 L651.19 1128 L652.78 1128 L654.36 1128 L655.95 1128 L657.54 1128 L659.12 1128 L660.71 1128 L662.3 1128 L663.88 1128 L665.47 1128 L667.06 1128 L668.64 1128 L670.23 1128 L671.82 1128 L673.4 1128 L674.99 1128 L676.58 1128 L678.16 1128 L679.75 1128 L681.34 1128 L682.92 1128 L684.51 1128 L686.1 1128 L687.68 1128 L689.27 1128 L690.86 1128 L692.45 1128 L694.03 1128 L695.62 1128 L697.21 1128 L698.79 1128 L700.38 1128 L701.97 1128 L703.55 1128 L705.14 1128 L706.73 1128 L708.31 1128 L709.9 1128 L711.49 1128 L713.07 1128 L714.66 1128 L716.25 1128 L717.83 1128 L719.42 1128 L721.01 1128 L722.59 1128 L724.18 1128 L725.77 1128 L727.35 1128 L728.94 1128 L730.53 1128 L732.11 1128 L733.7 1128 L735.29 1127.99 L736.87 1127.99 L738.46 1127.99 L740.05 1127.99 L741.63 1127.99 L743.22 1127.99 L744.81 1127.98 L746.4 1127.98 L747.98 1127.98 L749.57 1127.97 L751.16 1127.97 L752.74 1127.96 L754.33 1127.96 L755.92 1127.95 L757.5 1127.95 L759.09 1127.94 L760.68 1127.93 L762.26 1127.93 L763.85 1127.92 L765.44 1127.91 L767.02 1127.9 L768.61 1127.89 L770.2 1127.88 L771.78 1127.87 L773.37 1127.85 L774.96 1127.84 L776.54 1127.83 L778.13 1127.81 L779.72 1127.8 L781.3 1127.78 L782.89 1127.76 L784.48 1127.74 L786.06 1127.72 L787.65 1127.7 L789.24 1127.68 L790.82 1127.66 L792.41 1127.63 L794 1127.61 L795.58 1127.58 L797.17 1127.56 L798.76 1127.53 L800.35 1127.5 L801.93 1127.47 L803.52 1127.43 L805.11 1127.4 L806.69 1127.36 L808.28 1127.33 L809.87 1127.29 L811.45 1127.25 L813.04 1127.21 L814.63 1127.16 L816.21 1127.12 L817.8 1127.07 L819.39 1127.03 L820.97 1126.98 L822.56 1126.93 L824.15 1126.87 L825.73 1126.82 L827.32 1126.76 L828.91 1126.7 L830.49 1126.64 L832.08 1126.58 L833.67 1126.51 L835.25 1126.45 L836.84 1126.38 L838.43 1126.31 L840.01 1126.23 L841.6 1126.16 L843.19 1126.08 L844.77 1126 L846.36 1125.92 L847.95 1125.84 L849.53 1125.75 L851.12 1125.66 L852.71 1125.57 L854.3 1125.47 L855.88 1125.38 L857.47 1125.28 L859.06 1125.18 L860.64 1125.07 L862.23 1124.97 L863.82 1124.86 L865.4 1124.74 L866.99 1124.63 L868.58 1124.51 L870.16 1124.39 L871.75 1124.26 L873.34 1124.14 L874.92 1124.01 L876.51 1123.87 L878.1 1123.74 L879.68 1123.6 L881.27 1123.45 L882.86 1123.31 L884.44 1123.16 L886.03 1123.01 L887.62 1122.85 L889.2 1122.69 L890.79 1122.53 L892.38 1122.36 L893.96 1122.19 L895.55 1122.02 L897.14 1121.85 L898.72 1121.66 L900.31 1121.48 L901.9 1121.29 L903.48 1121.1 L905.07 1120.91 L906.66 1120.71 L908.24 1120.5 L909.83 1120.3 L911.42 1120.09 L913.01 1119.87 L914.59 1119.65 L916.18 1119.43 L917.77 1119.2 L919.35 1118.97 L920.94 1118.73 L922.53 1118.49 L924.11 1118.25 L925.7 1118 L927.29 1117.75 L928.87 1117.49 L930.46 1117.22 L932.05 1116.96 L933.63 1116.69 L935.22 1116.41 L936.81 1116.13 L938.39 1115.84 L939.98 1115.55 L941.57 1115.26 L943.15 1114.96 L944.74 1114.65 L946.33 1114.34 L947.91 1114.02 L949.5 1113.7 L951.09 1113.38 L952.67 1113.05 L954.26 1112.71 L955.85 1112.37 L957.43 1112.02 L959.02 1111.67 L960.61 1111.31 L962.19 1110.95 L963.78 1110.58 L965.37 1110.21 L966.96 1109.83 L968.54 1109.44 L970.13 1109.05 L971.72 1108.65 L973.3 1108.25 L974.89 1107.84 L976.48 1107.43 L978.06 1107.01 L979.65 1106.58 L981.24 1106.15 L982.82 1105.71 L984.41 1105.27 L986 1104.81 L987.58 1104.36 L989.17 1103.89 L990.76 1103.42 L992.34 1102.95 L993.93 1102.46 L995.52 1101.98 L997.1 1101.48 L998.69 1100.98 L1000.28 1100.47 L1001.86 1099.95 L1003.45 1099.43 L1005.04 1098.9 L1006.62 1098.36 L1008.21 1097.82 L1009.8 1097.27 L1011.38 1096.71 L1012.97 1096.15 L1014.56 1095.58 L1016.14 1095 L1017.73 1094.41 L1019.32 1093.82 L1020.91 1093.22 L1022.49 1092.61 L1024.08 1091.99 L1025.67 1091.37 L1027.25 1090.74 L1028.84 1090.1 L1030.43 1089.47 L1032.01 1088.83 L1033.6 1088.19 L1035.19 1087.54 L1036.77 1086.88 L1038.36 1086.21 L1039.95 1085.54 L1041.53 1084.85 L1043.12 1084.16 L1044.71 1083.46 L1046.29 1082.75 L1047.88 1082.04 L1049.47 1081.31 L1051.05 1080.58 L1052.64 1079.83 L1054.23 1079.08 L1055.81 1078.32 L1057.4 1077.55 L1058.99 1076.77 L1060.57 1075.98 L1062.16 1075.19 L1063.75 1074.38 L1065.33 1073.57 L1066.92 1072.74 L1068.51 1071.91 L1070.09 1071.07 L1071.68 1070.21 L1073.27 1069.35 L1074.86 1068.48 L1076.44 1067.6 L1078.03 1066.71 L1079.62 1065.81 L1081.2 1064.9 L1082.79 1063.98 L1084.38 1063.06 L1085.96 1062.12 L1087.55 1061.17 L1089.14 1060.21 L1090.72 1059.24 L1092.31 1058.27 L1093.9 1057.28 L1095.48 1056.28 L1097.07 1055.27 L1098.66 1054.25 L1100.24 1053.23 L1101.83 1052.19 L1103.42 1051.14 L1105 1050.08 L1106.59 1049.01 L1108.18 1047.93 L1109.76 1046.84 L1111.35 1045.74 L1112.94 1044.63 L1114.52 1043.51 L1116.11 1042.38 L1117.7 1041.23 L1119.28 1040.08 L1120.87 1038.92 L1122.46 1037.74 L1124.04 1036.56 L1125.63 1035.36 L1127.22 1034.15 L1128.81 1032.94 L1130.39 1031.71 L1131.98 1030.47 L1133.57 1029.22 L1135.15 1027.96 L1136.74 1026.69 L1138.33 1025.4 L1139.91 1024.11 L1141.5 1022.81 L1143.09 1021.49 L1144.67 1020.16 L1146.26 1018.83 L1147.85 1017.48 L1149.43 1016.12 L1151.02 1014.75 L1152.61 1013.37 L1154.19 1011.97 L1155.78 1010.57 L1157.37 1009.15 L1158.95 1007.73 L1160.54 1006.29 L1162.13 1004.84 L1163.71 1003.38 L1165.3 1001.91 L1166.89 1000.43 L1168.47 998.94 L1170.06 997.43 L1171.65 995.92 L1173.23 994.39 L1174.82 992.85 L1176.41 991.3 L1177.99 989.74 L1179.58 988.17 L1181.17 986.59 L1182.76 984.99 L1184.34 983.39 L1185.93 981.77 L1187.52 980.14 L1189.1 978.5 L1190.69 976.85 L1192.28 975.19 L1193.86 973.52 L1195.45 971.84 L1197.04 970.14 L1198.62 968.44 L1200.21 966.72 L1201.8 964.99 L1203.38 963.25 L1204.97 961.5 L1206.56 959.74 L1208.14 957.97 L1209.73 956.19 L1211.32 954.39 L1212.9 952.59 L1214.49 950.77 L1216.08 948.94 L1217.66 947.1 L1219.25 945.26 L1220.84 943.39 L1222.42 941.52 L1224.01 939.64 L1225.6 937.75 L1227.18 935.85 L1228.77 933.93 L1230.36 932.01 L1231.94 930.07 L1233.53 928.13 L1235.12 926.17 L1236.7 924.2 L1238.29 922.22 L1239.88 920.23 L1241.47 918.24 L1243.05 916.23 L1244.64 914.21 L1246.23 912.18 L1247.81 910.13 L1249.4 908.08 L1250.99 906.02 L1252.57 903.95 L1254.16 901.87 L1255.75 899.78 L1257.33 897.67 L1258.92 895.56 L1260.51 893.44 L1262.09 891.31 L1263.68 889.16 L1265.27 887.01 L1266.85 884.85 L1268.44 882.68 L1270.03 880.49 L1271.61 878.3 L1273.2 876.1 L1274.79 873.89 L1276.37 871.67 L1277.96 869.44 L1279.55 867.2 L1281.13 864.95 L1282.72 862.69 L1284.31 860.42 L1285.89 858.15 L1287.48 855.86 L1289.07 853.56 L1290.65 851.26 L1292.24 848.95 L1293.83 846.62 L1295.42 844.29 L1297 841.95 L1298.59 839.6 L1300.18 837.24 L1301.76 834.87 L1303.35 832.5 L1304.94 830.11 L1306.52 827.72 L1308.11 825.32 L1309.7 822.91 L1311.28 820.49 L1312.87 818.06 L1314.46 815.62 L1316.04 813.18 L1317.63 810.73 L1319.22 808.27 L1320.8 805.8 L1322.39 803.32 L1323.98 800.84 L1325.56 798.34 L1327.15 795.84 L1328.74 793.34 L1330.32 790.82 L1331.91 788.3 L1333.5 785.77 L1335.08 783.23 L1336.67 780.68 L1338.26 778.13 L1339.84 775.57 L1341.43 773 L1343.02 770.42 L1344.6 767.84 L1346.19 765.25 L1347.78 762.65 L1349.37 760.05 L1350.95 757.44 L1352.54 754.82 L1354.13 752.19 L1355.71 749.56 L1357.3 746.92 L1358.89 744.28 L1360.47 741.63 L1362.06 738.97 L1363.65 736.3 L1365.23 733.63 L1366.82 730.95 L1368.41 728.27 L1369.99 725.58 L1371.58 722.88 L1373.17 720.18 L1374.75 717.47 L1376.34 714.76 L1377.93 712.04 L1379.51 709.31 L1381.1 706.58 L1382.69 703.84 L1384.27 701.1 L1385.86 698.35 L1387.45 695.59 L1389.03 692.83 L1390.62 690.06 L1392.21 687.29 L1393.79 684.51 L1395.38 681.73 L1396.97 678.94 L1398.55 676.15 L1400.14 673.35 L1401.73 670.54 L1403.32 667.73 L1404.9 664.92 L1406.49 662.1 L1408.08 659.28 L1409.66 656.45 L1411.25 653.61 L1412.84 650.77 L1414.42 647.93 L1416.01 645.08 L1417.6 642.23 L1419.18 639.37 L1420.77 636.51 L1422.36 633.64 L1423.94 630.77 L1425.53 627.89 L1427.12 625.01 L1428.7 622.12 L1430.29 619.23 L1431.88 616.34 L1433.46 613.44 L1435.05 610.54 L1436.64 607.63 L1438.22 604.72 L1439.81 601.8 L1441.4 598.88 L1442.98 595.96 L1444.57 593.03 L1446.16 590.1 L1447.74 587.16 L1449.33 584.22 L1450.92 581.28 L1452.5 578.33 L1454.09 575.38 L1455.68 572.42 L1457.27 569.47 L1458.85 566.5 L1460.44 563.53 L1462.03 560.56 L1463.61 557.59 L1465.2 554.61 L1466.79 551.63 L1468.37 548.64 L1469.96 545.65 L1471.55 542.66 L1473.13 539.66 L1474.72 536.66 L1476.31 533.65 L1477.89 530.65 L1479.48 527.63 L1481.07 524.62 L1482.65 521.6 L1484.24 518.58 L1485.83 515.55 L1487.41 512.52 L1489 509.49 L1490.59 506.45 L1492.17 503.41 L1493.76 500.36 L1495.35 497.32 L1496.93 494.26 L1498.52 491.21 L1500.11 488.15 L1501.69 485.09 L1503.28 482.02 L1504.87 478.95 L1506.45 475.88 L1508.04 472.8 L1509.63 469.72 L1511.21 466.63 L1512.8 463.55 L1514.39 460.45 L1515.98 457.36 L1517.56 454.26 L1519.15 451.16 L1520.74 448.05 L1522.32 444.94 L1523.91 441.82 L1525.5 438.7 L1527.08 435.58 L1528.67 432.46 L1530.26 429.33 L1531.84 426.19 L1533.43 423.05 L1535.02 419.91 L1536.6 416.76 L1538.19 413.61 L1539.78 410.46 L1541.36 407.3 L1542.95 404.14 L1544.54 400.97 L1546.12 397.8 L1547.71 394.62 L1549.3 391.44 L1550.88 388.26 L1552.47 385.07 L1554.06 381.87 L1555.64 378.68 L1557.23 375.47 L1558.82 372.27 L1560.4 369.05 L1561.42 367" fill="none" stroke="#0000c8" stroke-width="8" stroke-linecap="round" stroke-linejoin="round" stroke-dasharray="4 16.7"/>
<path d="M332.25 1128 L333.84 1128 L335.42 1128 L337.01 1128 L338.6 1128 L340.18 1128 L341.77 1128 L343.36 1128 L344.94 1128 L346.53 1128 L348.12 1128 L349.7 1128 L351.29 1128 L352.88 1128 L354.46 1128 L356.05 1128 L357.64 1128 L359.22 1128 L360.81 1128 L362.4 1128 L363.99 1128 L365.57 1128 L367.16 1128 L368.75 1128 L370.33 1128 L371.92 1128 L373.51 1128 L375.09 1128 L376.68 1128 L378.27 1128 L379.85 1128 L381.44 1128 L383.03 1128 L384.61 1128 L386.2 1128 L387.79 1128 L389.37 1128 L390.96 1128 L392.55 1128 L394.13 1128 L395.72 1128 L397.31 1128 L398.89 1128 L400.48 1128 L402.07 1128 L403.65 1128 L405.24 1128 L406.83 1128 L408.41 1128 L410 1128 L411.59 1128 L413.17 1128 L414.76 1128 L416.35 1128 L417.94 1128 L419.52 1128 L421.11 1128 L422.7 1128 L424.28 1128 L425.87 1128 L427.46 1128 L429.04 1128 L430.63 1128 L432.22 1128 L433.8 1128 L435.39 1128 L436.98 1128 L438.56 1128 L440.15 1128 L441.74 1128 L443.32 1128 L444.91 1128 L446.5 1128 L448.08 1128 L449.67 1128 L451.26 1128 L452.84 1128 L454.43 1128 L456.02 1128 L457.6 1128 L459.19 1128 L460.78 1128 L462.36 1128 L463.95 1128 L465.54 1128 L467.12 1128 L468.71 1128 L470.3 1128 L471.89 1128 L473.47 1128 L475.06 1128 L476.65 1128 L478.23 1128 L479.82 1128 L481.41 1128 L482.99 1128 L484.58 1128 L486.17 1128 L487.75 1128 L489.34 1128 L490.93 1128 L492.51 1128 L494.1 1128 L495.69 1128 L497.27 1128 L498.86 1128 L500.45 1128 L502.03 1128 L503.62 1128 L505.21 1128 L506.79 1128 L508.38 1128 L509.97 1128 L511.55 1128 L513.14 1128 L514.73 1128 L516.31 1128 L517.9 1128 L519.49 1128 L521.07 1128 L522.66 1128 L524.25 1128 L525.84 1128 L527.42 1128 L529.01 1128 L530.6 1128 L532.18 1128 L533.77 1128 L535.36 1128 L536.94 1128 L538.53 1128 L540.12 1128 L541.7 1128 L543.29 1128 L544.88 1128 L546.46 1128 L548.05 1128 L549.64 1128 L551.22 1128 L552.81 1128 L554.4 1128 L555.98 1128 L557.57 1128 L559.16 1128 L560.74 1128 L562.33 1128 L563.92 1128 L565.5 1128 L567.09 1128 L568.68 1128 L570.26 1128 L571.85 1128 L573.44 1128 L575.02 1128 L576.61 1128 L578.2 1128 L579.79 1128 L581.37 1128 L582.96 1128 L584.55 1128 L586.13 1128 L587.72 1128 L589.31 1128 L590.89 1128 L592.48 1128 L594.07 1128 L595.65 1128 L597.24 1128 L598.83 1128 L600.41 1128 L602 1128 L603.59 1128 L605.17 1128 L606.76 1128 L608.35 1128 L609.93 1128 L611.52 1128 L613.11 1128 L614.69 1128 L616.28 1128 L617.87 1128 L619.45 1128 L621.04 1128 L622.63 1128 L624.21 1128 L625.8 1128 L627.39 1128 L628.97 1128 L630.56 1128 L632.15 1128 L633.73 1128 L635.32 1128 L636.91 1128 L638.5 1128 L640.08 1128 L641.67 1128 L643.26 1128 L644.84 1128 L646.43 1128 L648.02 1128 L649.6 1128 L651.19 1128 L652.78 1128 L654.36 1128 L655.95 1128 L657.54 1128 L659.12 1128 L660.71 1128 L662.3 1128 L663.88 1128 L665.47 1128 L667.06 1128 L668.64 1128 L670.23 1128 L671.82 1128 L673.4 1128 L674.99 1128 L676.58 1128 L678.16 1128 L679.75 1128 L681.34 1128 L682.92 1128 L684.51 1128 L686.1 1128 L687.68 1128 L689.27 1128 L690.86 1128 L692.45 1128 L694.03 1128 L695.62 1128 L697.21 1128 L698.79 1128 L700.38 1128 L701.97 1128 L703.55 1128 L705.14 1128 L706.73 1128 L708.31 1128 L709.9 1128 L711.49 1128 L713.07 1128 L714.66 1128 L716.25 1128 L717.83 1128 L719.42 1128 L721.01 1128 L722.59 1128 L724.18 1128 L725.77 1128 L727.35 1128 L728.94 1128 L730.53 1128 L732.11 1128 L733.7 1128 L735.29 1128 L736.87 1128 L738.46 1128 L740.05 1128 L741.63 1128 L743.22 1128 L744.81 1128 L746.4 1128 L747.98 1128 L749.57 1128 L751.16 1128 L752.74 1128 L754.33 1128 L755.92 1128 L757.5 1128 L759.09 1128 L760.68 1128 L762.26 1128 L763.85 1128 L765.44 1128 L767.02 1128 L768.61 1128 L770.2 1128 L771.78 1128 L773.37 1128 L774.96 1128 L776.54 1128 L778.13 1128 L779.72 1128 L781.3 1128 L782.89 1128 L784.48 1128 L786.06 1128 L787.65 1128 L789.24 1128 L790.82 1128 L792.41 1128 L794 1128 L795.58 1128 L797.17 1128 L798.76 1128 L800.35 1128 L801.93 1128 L803.52 1128 L805.11 1128 L806.69 1128 L808.28 1128 L809.87 1128 L811.45 1128 L813.04 1128 L814.63 1128 L816.21 1128 L817.8 1128 L819.39 1128 L820.97 1128 L822.56 1128 L824.15 1128 L825.73 1128 L827.32 1128 L828.91 1128 L830.49 1128 L832.08 1128 L833.67 1127.99 L835.25 1127.99 L836.84 1127.99 L838.43 1127.99 L840.01 1127.99 L841.6 1127.98 L843.19 1127.98 L844.77 1127.98 L846.36 1127.97 L847.95 1127.97 L849.53 1127.97 L851.12 1127.96 L852.71 1127.95 L854.3 1127.95 L855.88 1127.94 L857.47 1127.94 L859.06 1127.93 L860.64 1127.92 L862.23 1127.91 L863.82 1127.9 L865.4 1127.89 L866.99 1127.88 L868.58 1127.87 L870.16 1127.86 L871.75 1127.84 L873.34 1127.83 L874.92 1127.81 L876.51 1127.8 L878.1 1127.78 L879.68 1127.76 L881.27 1127.74 L882.86 1127.72 L884.44 1127.7 L886.03 1127.68 L887.62 1127.66 L889.2 1127.63 L890.79 1127.61 L892.38 1127.58 L893.96 1127.55 L895.55 1127.52 L897.14 1127.49 L898.72 1127.46 L900.31 1127.43 L901.9 1127.39 L903.48 1127.35 L905.07 1127.32 L906.66 1127.28 L908.24 1127.24 L909.83 1127.19 L911.42 1127.15 L913.01 1127.1 L914.59 1127.06 L916.18 1127.01 L917.77 1126.95 L919.35 1126.9 L920.94 1126.85 L922.53 1126.79 L924.11 1126.73 L925.7 1126.67 L927.29 1126.61 L928.87 1126.54 L930.46 1126.48 L932.05 1126.41 L933.63 1126.34 L935.22 1126.26 L936.81 1126.19 L938.39 1126.11 L939.98 1126.03 L941.57 1125.95 L943.15 1125.86 L944.74 1125.77 L946.33 1125.68 L947.91 1125.59 L949.5 1125.5 L951.09 1125.4 L952.67 1125.3 L954.26 1125.19 L955.85 1125.09 L957.43 1124.98 L959.02 1124.87 L960.61 1124.75 L962.19 1124.64 L963.78 1124.52 L965.37 1124.39 L966.96 1124.27 L968.54 1124.14 L970.13 1124 L971.72 1123.87 L973.3 1123.73 L974.89 1123.59 L976.48 1123.44 L978.06 1123.29 L979.65 1123.14 L981.24 1122.99 L982.82 1122.83 L984.41 1122.67 L986 1122.5 L987.58 1122.33 L989.17 1122.16 L990.76 1121.98 L992.34 1121.8 L993.93 1121.61 L995.52 1121.43 L997.1 1121.23 L998.69 1121.04 L1000.28 1120.84 L1001.86 1120.63 L1003.45 1120.42 L1005.04 1120.21 L1006.62 1120 L1008.21 1119.77 L1009.8 1119.55 L1011.38 1119.32 L1012.97 1119.09 L1014.56 1118.85 L1016.14 1118.61 L1017.73 1118.36 L1019.32 1118.11 L1020.91 1117.85 L1022.49 1117.59 L1024.08 1117.33 L1025.67 1117.06 L1027.25 1116.78 L1028.84 1116.5 L1030.43 1116.22 L1032.01 1115.93 L1033.6 1115.63 L1035.19 1115.33 L1036.77 1115.03 L1038.36 1114.72 L1039.95 1114.4 L1041.53 1114.08 L1043.12 1113.76 L1044.71 1113.43 L1046.29 1113.09 L1047.88 1112.75 L1049.47 1112.4 L1051.05 1112.05 L1052.64 1111.69 L1054.23 1111.33 L1055.81 1110.96 L1057.4 1110.59 L1058.99 1110.21 L1060.57 1109.82 L1062.16 1109.43 L1063.75 1109.03 L1065.33 1108.62 L1066.92 1108.21 L1068.51 1107.8 L1070.09 1107.37 L1071.68 1106.95 L1073.27 1106.51 L1074.86 1106.07 L1076.44 1105.62 L1078.03 1105.17 L1079.62 1104.71 L1081.2 1104.24 L1082.79 1103.77 L1084.38 1103.29 L1085.96 1102.8 L1087.55 1102.31 L1089.14 1101.81 L1090.72 1101.3 L1092.31 1100.78 L1093.9 1100.26 L1095.48 1099.74 L1097.07 1099.2 L1098.66 1098.66 L1100.24 1098.11 L1101.83 1097.55 L1103.42 1096.99 L1105 1096.42 L1106.59 1095.84 L1108.18 1095.25 L1109.76 1094.66 L1111.35 1094.06 L1112.94 1093.45 L1114.52 1092.84 L1116.11 1092.21 L1117.7 1091.58 L1119.28 1090.94 L1120.87 1090.29 L1122.46 1089.64 L1124.04 1089 L1125.63 1088.35 L1127.22 1087.69 L1128.81 1087.02 L1130.39 1086.34 L1131.98 1085.66 L1133.57 1084.96 L1135.15 1084.26 L1136.74 1083.55 L1138.33 1082.83 L1139.91 1082.1 L1141.5 1081.36 L1143.09 1080.61 L1144.67 1079.86 L1146.26 1079.09 L1147.85 1078.32 L1149.43 1077.54 L1151.02 1076.74 L1152.61 1075.94 L1154.19 1075.13 L1155.78 1074.31 L1157.37 1073.48 L1158.95 1072.64 L1160.54 1071.79 L1162.13 1070.93 L1163.71 1070.06 L1165.3 1069.18 L1166.89 1068.29 L1168.47 1067.4 L1170.06 1066.49 L1171.65 1065.57 L1173.23 1064.64 L1174.82 1063.7 L1176.41 1062.76 L1177.99 1061.8 L1179.58 1060.83 L1181.17 1059.85 L1182.76 1058.86 L1184.34 1057.86 L1185.93 1056.85 L1187.52 1055.83 L1189.1 1054.8 L1190.69 1053.76 L1192.28 1052.71 L1193.86 1051.65 L1195.45 1050.58 L1197.04 1049.49 L1198.62 1048.4 L1200.21 1047.29 L1201.8 1046.18 L1203.38 1045.05 L1204.97 1043.91 L1206.56 1042.76 L1208.14 1041.6 L1209.73 1040.43 L1211.32 1039.25 L1212.9 1038.06 L1214.49 1036.86 L1216.08 1035.64 L1217.66 1034.42 L1219.25 1033.18 L1220.84 1031.93 L1222.42 1030.67 L1224.01 1029.4 L1225.6 1028.12 L1227.18 1026.83 L1228.77 1025.53 L1230.36 1024.21 L1231.94 1022.88 L1233.53 1021.54 L1235.12 1020.19 L1236.7 1018.83 L1238.29 1017.46 L1239.88 1016.08 L1241.47 1014.68 L1243.05 1013.27 L1244.64 1011.86 L1246.23 1010.43 L1247.81 1008.99 L1249.4 1007.53 L1250.99 1006.07 L1252.57 1004.59 L1254.16 1003.1 L1255.75 1001.6 L1257.33 1000.09 L1258.92 998.57 L1260.51 997.04 L1262.09 995.49 L1263.68 993.93 L1265.27 992.37 L1266.85 990.79 L1268.44 989.19 L1270.03 987.59 L1271.61 985.97 L1273.2 984.35 L1274.79 982.71 L1276.37 981.06 L1277.96 979.4 L1279.55 977.72 L1281.13 976.04 L1282.72 974.34 L1284.31 972.63 L1285.89 970.92 L1287.48 969.18 L1289.07 967.44 L1290.65 965.69 L1292.24 963.92 L1293.83 962.15 L1295.42 960.36 L1297 958.56 L1298.59 956.75 L1300.18 954.92 L1301.76 953.09 L1303.35 951.24 L1304.94 949.39 L1306.52 947.52 L1308.11 945.64 L1309.7 943.75 L1311.28 941.84 L1312.87 939.93 L1314.46 938.01 L1316.04 936.07 L1317.63 934.12 L1319.22 932.17 L1320.8 930.2 L1322.39 928.22 L1323.98 926.23 L1325.56 924.22 L1327.15 922.21 L1328.74 920.19 L1330.32 918.15 L1331.91 916.11 L1333.5 914.05 L1335.08 911.98 L1336.67 909.9 L1338.26 907.81 L1339.84 905.71 L1341.43 903.6 L1343.02 901.48 L1344.6 899.35 L1346.19 897.21 L1347.78 895.06 L1349.37 892.9 L1350.95 890.72 L1352.54 888.54 L1354.13 886.35 L1355.71 884.14 L1357.3 881.93 L1358.89 879.7 L1360.47 877.47 L1362.06 875.22 L1363.65 872.97 L1365.23 870.71 L1366.82 868.43 L1368.41 866.15 L1369.99 863.85 L1371.58 861.55 L1373.17 859.24 L1374.75 856.91 L1376.34 854.58 L1377.93 852.24 L1379.51 849.89 L1381.1 847.53 L1382.69 845.16 L1384.27 842.78 L1385.86 840.39 L1387.45 837.99 L1389.03 835.59 L1390.62 833.17 L1392.21 830.75 L1393.79 828.31 L1395.38 825.87 L1396.97 823.42 L1398.55 820.96 L1400.14 818.49 L1401.73 816.01 L1403.32 813.53 L1404.9 811.03 L1406.49 808.53 L1408.08 806.02 L1409.66 803.5 L1411.25 800.97 L1412.84 798.43 L1414.42 795.89 L1416.01 793.33 L1417.6 790.77 L1419.18 788.21 L1420.77 785.63 L1422.36 783.04 L1423.94 780.45 L1425.53 777.85 L1427.12 775.25 L1428.7 772.63 L1430.29 770.01 L1431.88 767.38 L1433.46 764.74 L1435.05 762.1 L1436.64 759.44 L1438.22 756.78 L1439.81 754.12 L1441.4 751.44 L1442.98 748.76 L1444.57 746.08 L1446.16 743.38 L1447.74 740.68 L1449.33 737.97 L1450.92 735.26 L1452.5 732.54 L1454.09 729.81 L1455.68 727.08 L1457.27 724.33 L1458.85 721.59 L1460.44 718.83 L1462.03 716.07 L1463.61 713.31 L1465.2 710.54 L1466.79 707.76 L1468.37 704.97 L1469.96 702.18 L1471.55 699.39 L1473.13 696.58 L1474.72 693.77 L1476.31 690.96 L1477.89 688.14 L1479.48 685.32 L1481.07 682.49 L1482.65 679.65 L1484.24 676.81 L1485.83 673.96 L1487.41 671.11 L1489 668.25 L1490.59 665.38 L1492.17 662.52 L1493.76 659.64 L1495.35 656.76 L1496.93 653.88 L1498.52 650.99 L1500.11 648.1 L1501.69 645.2 L1503.28 642.29 L1504.87 639.38 L1506.45 636.47 L1508.04 633.55 L1509.63 630.63 L1511.21 627.7 L1512.8 624.77 L1514.39 621.83 L1515.98 618.89 L1517.56 615.94 L1519.15 612.99 L1520.74 610.04 L1522.32 607.08 L1523.91 604.11 L1525.5 601.15 L1527.08 598.17 L1528.67 595.2 L1530.26 592.22 L1531.84 589.23 L1533.43 586.24 L1535.02 583.25 L1536.6 580.25 L1538.19 577.25 L1539.78 574.24 L1541.36 571.23 L1542.95 568.22 L1544.54 565.2 L1546.12 562.18 L1547.71 559.15 L1549.3 556.12 L1550.88 553.09 L1552.47 550.05 L1554.06 547.01 L1555.64 543.97 L1557.23 540.92 L1558.82 537.86 L1560.4 534.81 L1561.99 531.75 L1563.58 528.68 L1565.16 525.62 L1566.75 522.54 L1568.34 519.47 L1569.93 516.39 L1571.51 513.31 L1573.1 510.22 L1574.69 507.13 L1576.27 504.04 L1577.86 500.94 L1579.45 497.84 L1581.03 494.73 L1582.62 491.62 L1584.21 488.51 L1585.79 485.39 L1587.38 482.27 L1588.97 479.15 L1590.55 476.02 L1592.14 472.89 L1593.73 469.75 L1595.31 466.61 L1596.9 463.47 L1598.49 460.32 L1600.07 457.17 L1601.66 454.02 L1603.25 450.86 L1604.83 447.7 L1606.42 444.53 L1608.01 441.36 L1609.59 438.19 L1611.18 435.01 L1612.77 431.82 L1614.35 428.64 L1615.94 425.45 L1617.53 422.25 L1619.11 419.05 L1620.7 415.85 L1622.29 412.64 L1623.88 409.43 L1625.46 406.21 L1627.05 402.99 L1628.64 399.77 L1630.22 396.54 L1631.81 393.3 L1633.4 390.07 L1634.98 386.82 L1636.57 383.57 L1638.16 380.32 L1639.74 377.06 L1641.33 373.8 L1642.92 370.53 L1644.5 367.26 L1644.63 367" fill="none" stroke="#0000c8" stroke-width="8" stroke-linecap="round" stroke-linejoin="round" stroke-dasharray="4 16.7"/>
<path d="M332.25 1128 L333.84 1128 L335.42 1128 L337.01 1128 L338.6 1128 L340.18 1128 L341.77 1128 L343.36 1128 L344.94 1128 L346.53 1128 L348.12 1128 L349.7 1128 L351.29 1128 L352.88 1128 L354.46 1128 L356.05 1128 L357.64 1128 L359.22 1128 L360.81 1128 L362.4 1128 L363.99 1128 L365.57 1128 L367.16 1128 L368.75 1128 L370.33 1128 L371.92 1128 L373.51 1128 L375.09 1128 L376.68 1128 L378.27 1128 L379.85 1128 L381.44 1128 L383.03 1128 L384.61 1128 L386.2 1128 L387.79 1128 L389.37 1128 L390.96 1128 L392.55 1128 L394.13 1128 L395.72 1128 L397.31 1128 L398.89 1128 L400.48 1128 L402.07 1128 L403.65 1128 L405.24 1128 L406.83 1128 L408.41 1128 L410 1128 L411.59 1128 L413.17 1128 L414.76 1128 L416.35 1128 L417.94 1128 L419.52 1128 L421.11 1128 L422.7 1128 L424.28 1128 L425.87 1128 L427.46 1128 L429.04 1128 L430.63 1128 L432.22 1128 L433.8 1128 L435.39 1128 L436.98 1128 L438.56 1128 L440.15 1128 L441.74 1128 L443.32 1128 L444.91 1128 L446.5 1128 L448.08 1128 L449.67 1128 L451.26 1128 L452.84 1128 L454.43 1128 L456.02 1128 L457.6 1128 L459.19 1128 L460.78 1128 L462.36 1128 L463.95 1128 L465.54 1128 L467.12 1128 L468.71 1128 L470.3 1128 L471.89 1128 L473.47 1128 L475.06 1128 L476.65 1128 L478.23 1128 L479.82 1128 L481.41 1128 L482.99 1128 L484.58 1128 L486.17 1128 L487.75 1128 L489.34 1128 L490.93 1128 L492.51 1128 L494.1 1128 L495.69 1128 L497.27 1128 L498.86 1128 L500.45 1128 L502.03 1128 L503.62 1128 L505.21 1128 L506.79 1128 L508.38 1128 L509.97 1128 L511.55 1128 L513.14 1128 L514.73 1128 L516.31 1128 L517.9 1128 L519.49 1128 L521.07 1128 L522.66 1128 L524.25 1128 L525.84 1128 L527.42 1128 L529.01 1128 L530.6 1128 L532.18 1128 L533.77 1128 L535.36 1128 L536.94 1128 L538.53 1128 L540.12 1128 L541.7 1128 L543.29 1128 L544.88 1128 L546.46 1128 L548.05 1128 L549.64 1128 L551.22 1128 L552.81 1128 L554.4 1128 L555.98 1128 L557.57 1128 L559.16 1128 L560.74 1128 L562.33 1128 L563.92 1128 L565.5 1128 L567.09 1128 L568.68 1128 L570.26 1128 L571.85 1128 L573.44 1128 L575.02 1128 L576.61 1128 L578.2 1128 L579.79 1128 L581.37 1128 L582.96 1128 L584.55 1128 L586.13 1128 L587.72 1128 L589.31 1128 L590.89 1128 L592.48 1128 L594.07 1128 L595.65 1128 L597.24 1128 L598.83 1128 L600.41 1128 L602 1128 L603.59 1128 L605.17 1128 L606.76 1128 L608.35 1128 L609.93 1128 L611.52 1128 L613.11 1128 L614.69 1128 L616.28 1128 L617.87 1128 L619.45 1128 L621.04 1128 L622.63 1128 L624.21 1128 L625.8 1128 L627.39 1128 L628.97 1128 L630.56 1128 L632.15 1128 L633.73 1128 L635.32 1128 L636.91 1128 L638.5 1128 L640.08 1128 L641.67 1128 L643.26 1128 L644.84 1128 L646.43 1128 L648.02 1128 L649.6 1128 L651.19 1128 L652.78 1128 L654.36 1128 L655.95 1128 L657.54 1128 L659.12 1128 L660.71 1128 L662.3 1128 L663.88 1128 L665.47 1128 L667.06 1128 L668.64 1128 L670.23 1128 L671.82 1128 L673.4 1128 L674.99 1128 L676.58 1128 L678.16 1128 L679.75 1128 L681.34 1128 L682.92 1128 L684.51 1128 L686.1 1128 L687.68 1128 L689.27 1128 L690.86 1128 L692.45 1128 L694.03 1128 L695.62 1128 L697.21 1128 L698.79 1128 L700.38 1128 L701.97 1128 L703.55 1128 L705.14 1128 L706.73 1128 L708.31 1128 L709.9 1128 L711.49 1128 L713.07 1128 L714.66 1128 L716.25 1128 L717.83 1128 L719.42 1128 L721.01 1128 L722.59 1128 L724.18 1128 L725.77 1128 L727.35 1128 L728.94 1128 L730.53 1128 L732.11 1128 L733.7 1128 L735.29 1128 L736.87 1128 L738.46 1128 L740.05 1128 L741.63 1128 L743.22 1128 L744.81 1128 L746.4 1128 L747.98 1128 L749.57 1128 L751.16 1128 L752.74 1128 L754.33 1128 L755.92 1128 L757.5 1128 L759.09 1128 L760.68 1128 L762.26 1128 L763.85 1128 L765.44 1128 L767.02 1128 L768.61 1128 L770.2 1128 L771.78 1128 L773.37 1128 L774.96 1128 L776.54 1128 L778.13 1128 L779.72 1128 L781.3 1128 L782.89 1128 L784.48 1128 L786.06 1128 L787.65 1128 L789.24 1128 L790.82 1128 L792.41 1128 L794 1128 L795.58 1128 L797.17 1128 L798.76 1128 L800.35 1128 L801.93 1128 L803.52 1128 L805.11 1128 L806.69 1128 L808.28 1128 L809.87 1128 L811.45 1128 L813.04 1128 L814.63 1128 L816.21 1128 L817.8 1128 L819.39 1128 L820.97 1128 L822.56 1128 L824.15 1128 L825.73 1128 L827.32 1128 L828.91 1128 L830.49 1128 L832.08 1128 L833.67 1128 L835.25 1128 L836.84 1128 L838.43 1128 L840.01 1128 L841.6 1128 L843.19 1128 L844.77 1128 L846.36 1128 L847.95 1128 L849.53 1128 L851.12 1128 L852.71 1128 L854.3 1128 L855.88 1128 L857.47 1128 L859.06 1128 L860.64 1128 L862.23 1128 L863.82 1128 L865.4 1128 L866.99 1128 L868.58 1127.99 L870.16 1127.99 L871.75 1127.99 L873.34 1127.99 L874.92 1127.99 L876.51 1127.99 L878.1 1127.98 L879.68 1127.98 L881.27 1127.98 L882.86 1127.97 L884.44 1127.97 L886.03 1127.96 L887.62 1127.96 L889.2 1127.95 L890.79 1127.95 L892.38 1127.94 L893.96 1127.93 L895.55 1127.93 L897.14 1127.92 L898.72 1127.91 L900.31 1127.9 L901.9 1127.89 L903.48 1127.88 L905.07 1127.87 L906.66 1127.86 L908.24 1127.85 L909.83 1127.83 L911.42 1127.82 L913.01 1127.8 L914.59 1127.79 L916.18 1127.77 L917.77 1127.75 L919.35 1127.73 L920.94 1127.71 L922.53 1127.69 L924.11 1127.67 L925.7 1127.65 L927.29 1127.63 L928.87 1127.6 L930.46 1127.57 L932.05 1127.55 L933.63 1127.52 L935.22 1127.49 L936.81 1127.46 L938.39 1127.43 L939.98 1127.39 L941.57 1127.36 L943.15 1127.32 L944.74 1127.28 L946.33 1127.25 L947.91 1127.2 L949.5 1127.16 L951.09 1127.12 L952.67 1127.07 L954.26 1127.03 L955.85 1126.98 L957.43 1126.93 L959.02 1126.88 L960.61 1126.82 L962.19 1126.77 L963.78 1126.71 L965.37 1126.65 L966.96 1126.59 L968.54 1126.53 L970.13 1126.46 L971.72 1126.4 L973.3 1126.33 L974.89 1126.26 L976.48 1126.18 L978.06 1126.11 L979.65 1126.03 L981.24 1125.95 L982.82 1125.87 L984.41 1125.79 L986 1125.7 L987.58 1125.61 L989.17 1125.52 L990.76 1125.43 L992.34 1125.33 L993.93 1125.24 L995.52 1125.14 L997.1 1125.03 L998.69 1124.93 L1000.28 1124.82 L1001.86 1124.71 L1003.45 1124.59 L1005.04 1124.48 L1006.62 1124.36 L1008.21 1124.24 L1009.8 1124.11 L1011.38 1123.98 L1012.97 1123.85 L1014.56 1123.72 L1016.14 1123.58 L1017.73 1123.44 L1019.32 1123.3 L1020.91 1123.16 L1022.49 1123.01 L1024.08 1122.85 L1025.67 1122.7 L1027.25 1122.54 L1028.84 1122.38 L1030.43 1122.21 L1032.01 1122.04 L1033.6 1121.87 L1035.19 1121.7 L1036.77 1121.52 L1038.36 1121.33 L1039.95 1121.15 L1041.53 1120.96 L1043.12 1120.77 L1044.71 1120.57 L1046.29 1120.37 L1047.88 1120.16 L1049.47 1119.95 L1051.05 1119.74 L1052.64 1119.52 L1054.23 1119.3 L1055.81 1119.08 L1057.4 1118.85 L1058.99 1118.62 L1060.57 1118.38 L1062.16 1118.14 L1063.75 1117.89 L1065.33 1117.64 L1066.92 1117.39 L1068.51 1117.13 L1070.09 1116.87 L1071.68 1116.6 L1073.27 1116.33 L1074.86 1116.06 L1076.44 1115.78 L1078.03 1115.49 L1079.62 1115.2 L1081.2 1114.91 L1082.79 1114.61 L1084.38 1114.3 L1085.96 1113.99 L1087.55 1113.68 L1089.14 1113.36 L1090.72 1113.04 L1092.31 1112.71 L1093.9 1112.38 L1095.48 1112.04 L1097.07 1111.69 L1098.66 1111.34 L1100.24 1110.99 L1101.83 1110.63 L1103.42 1110.27 L1105 1109.9 L1106.59 1109.52 L1108.18 1109.14 L1109.76 1108.75 L1111.35 1108.36 L1112.94 1107.96 L1114.52 1107.56 L1116.11 1107.15 L1117.7 1106.74 L1119.28 1106.32 L1120.87 1105.89 L1122.46 1105.46 L1124.04 1105.02 L1125.63 1104.57 L1127.22 1104.12 L1128.81 1103.67 L1130.39 1103.21 L1131.98 1102.74 L1133.57 1102.26 L1135.15 1101.78 L1136.74 1101.29 L1138.33 1100.8 L1139.91 1100.3 L1141.5 1099.8 L1143.09 1099.28 L1144.67 1098.76 L1146.26 1098.24 L1147.85 1097.7 L1149.43 1097.17 L1151.02 1096.62 L1152.61 1096.07 L1154.19 1095.51 L1155.78 1094.94 L1157.37 1094.37 L1158.95 1093.79 L1160.54 1093.2 L1162.13 1092.61 L1163.71 1092 L1165.3 1091.4 L1166.89 1090.78 L1168.47 1090.16 L1170.06 1089.53 L1171.65 1088.91 L1173.23 1088.29 L1174.82 1087.65 L1176.41 1087.01 L1177.99 1086.36 L1179.58 1085.7 L1181.17 1085.04 L1182.76 1084.36 L1184.34 1083.68 L1185.93 1082.99 L1187.52 1082.29 L1189.1 1081.59 L1190.69 1080.87 L1192.28 1080.15 L1193.86 1079.42 L1195.45 1078.68 L1197.04 1077.93 L1198.62 1077.18 L1200.21 1076.41 L1201.8 1075.64 L1203.38 1074.85 L1204.97 1074.06 L1206.56 1073.26 L1208.14 1072.45 L1209.73 1071.64 L1211.32 1070.81 L1212.9 1069.98 L1214.49 1069.13 L1216.08 1068.28 L1217.66 1067.42 L1219.25 1066.54 L1220.84 1065.66 L1222.42 1064.77 L1224.01 1063.87 L1225.6 1062.97 L1227.18 1062.05 L1228.77 1061.12 L1230.36 1060.18 L1231.94 1059.24 L1233.53 1058.28 L1235.12 1057.32 L1236.7 1056.34 L1238.29 1055.36 L1239.88 1054.36 L1241.47 1053.36 L1243.05 1052.35 L1244.64 1051.32 L1246.23 1050.29 L1247.81 1049.25 L1249.4 1048.2 L1250.99 1047.13 L1252.57 1046.06 L1254.16 1044.98 L1255.75 1043.89 L1257.33 1042.78 L1258.92 1041.67 L1260.51 1040.55 L1262.09 1039.41 L1263.68 1038.27 L1265.27 1037.12 L1266.85 1035.95 L1268.44 1034.78 L1270.03 1033.6 L1271.61 1032.4 L1273.2 1031.2 L1274.79 1029.98 L1276.37 1028.76 L1277.96 1027.52 L1279.55 1026.27 L1281.13 1025.02 L1282.72 1023.75 L1284.31 1022.47 L1285.89 1021.18 L1287.48 1019.88 L1289.07 1018.58 L1290.65 1017.26 L1292.24 1015.93 L1293.83 1014.58 L1295.42 1013.23 L1297 1011.87 L1298.59 1010.5 L1300.18 1009.11 L1301.76 1007.72 L1303.35 1006.32 L1304.94 1004.9 L1306.52 1003.47 L1308.11 1002.04 L1309.7 1000.59 L1311.28 999.13 L1312.87 997.66 L1314.46 996.18 L1316.04 994.69 L1317.63 993.19 L1319.22 991.68 L1320.8 990.16 L1322.39 988.63 L1323.98 987.08 L1325.56 985.53 L1327.15 983.96 L1328.74 982.39 L1330.32 980.8 L1331.91 979.21 L1333.5 977.6 L1335.08 975.98 L1336.67 974.35 L1338.26 972.71 L1339.84 971.06 L1341.43 969.4 L1343.02 967.73 L1344.6 966.05 L1346.19 964.35 L1347.78 962.65 L1349.37 960.93 L1350.95 959.21 L1352.54 957.47 L1354.13 955.73 L1355.71 953.97 L1357.3 952.21 L1358.89 950.43 L1360.47 948.64 L1362.06 946.84 L1363.65 945.03 L1365.23 943.22 L1366.82 941.39 L1368.41 939.55 L1369.99 937.7 L1371.58 935.84 L1373.17 933.97 L1374.75 932.09 L1376.34 930.19 L1377.93 928.29 L1379.51 926.38 L1381.1 924.46 L1382.69 922.53 L1384.27 920.59 L1385.86 918.63 L1387.45 916.67 L1389.03 914.7 L1390.62 912.72 L1392.21 910.73 L1393.79 908.73 L1395.38 906.71 L1396.97 904.69 L1398.55 902.66 L1400.14 900.62 L1401.73 898.57 L1403.32 896.51 L1404.9 894.44 L1406.49 892.36 L1408.08 890.27 L1409.66 888.18 L1411.25 886.07 L1412.84 883.95 L1414.42 881.82 L1416.01 879.69 L1417.6 877.54 L1419.18 875.39 L1420.77 873.22 L1422.36 871.05 L1423.94 868.87 L1425.53 866.68 L1427.12 864.48 L1428.7 862.27 L1430.29 860.05 L1431.88 857.82 L1433.46 855.59 L1435.05 853.34 L1436.64 851.09 L1438.22 848.83 L1439.81 846.56 L1441.4 844.28 L1442.98 841.99 L1444.57 839.69 L1446.16 837.39 L1447.74 835.08 L1449.33 832.75 L1450.92 830.43 L1452.5 828.09 L1454.09 825.74 L1455.68 823.39 L1457.27 821.02 L1458.85 818.65 L1460.44 816.28 L1462.03 813.89 L1463.61 811.5 L1465.2 809.09 L1466.79 806.68 L1468.37 804.27 L1469.96 801.84 L1471.55 799.41 L1473.13 796.97 L1474.72 794.52 L1476.31 792.07 L1477.89 789.6 L1479.48 787.13 L1481.07 784.66 L1482.65 782.17 L1484.24 779.68 L1485.83 777.18 L1487.41 774.68 L1489 772.17 L1490.59 769.65 L1492.17 767.12 L1493.76 764.59 L1495.35 762.05 L1496.93 759.5 L1498.52 756.95 L1500.11 754.39 L1501.69 751.82 L1503.28 749.25 L1504.87 746.67 L1506.45 744.08 L1508.04 741.49 L1509.63 738.89 L1511.21 736.29 L1512.8 733.68 L1514.39 731.06 L1515.98 728.44 L1517.56 725.81 L1519.15 723.18 L1520.74 720.54 L1522.32 717.89 L1523.91 715.24 L1525.5 712.58 L1527.08 709.92 L1528.67 707.25 L1530.26 704.57 L1531.84 701.89 L1533.43 699.21 L1535.02 696.52 L1536.6 693.82 L1538.19 691.12 L1539.78 688.41 L1541.36 685.7 L1542.95 682.98 L1544.54 680.26 L1546.12 677.53 L1547.71 674.8 L1549.3 672.06 L1550.88 669.32 L1552.47 666.57 L1554.06 663.82 L1555.64 661.06 L1557.23 658.3 L1558.82 655.53 L1560.4 652.76 L1561.99 649.98 L1563.58 647.2 L1565.16 644.42 L1566.75 641.63 L1568.34 638.83 L1569.93 636.04 L1571.51 633.23 L1573.1 630.43 L1574.69 627.61 L1576.27 624.8 L1577.86 621.98 L1579.45 619.15 L1581.03 616.32 L1582.62 613.49 L1584.21 610.66 L1585.79 607.81 L1587.38 604.97 L1588.97 602.12 L1590.55 599.27 L1592.14 596.41 L1593.73 593.55 L1595.31 590.69 L1596.9 587.82 L1598.49 584.94 L1600.07 582.07 L1601.66 579.19 L1603.25 576.31 L1604.83 573.42 L1606.42 570.53 L1608.01 567.63 L1609.59 564.73 L1611.18 561.83 L1612.77 558.93 L1614.35 556.02 L1615.94 553.1 L1617.53 550.19 L1619.11 547.27 L1620.7 544.34 L1622.29 541.42 L1623.88 538.49 L1625.46 535.55 L1627.05 532.61 L1628.64 529.67 L1630.22 526.73 L1631.81 523.78 L1633.4 520.83 L1634.98 517.87 L1636.57 514.91 L1638.16 511.95 L1639.74 508.99 L1641.33 506.02 L1642.92 503.05 L1644.5 500.07 L1646.09 497.09 L1647.68 494.11 L1649.26 491.12 L1650.85 488.13 L1652.44 485.14 L1654.02 482.14 L1655.61 479.14 L1657.2 476.14 L1658.78 473.13 L1660.37 470.12 L1661.96 467.11 L1663.54 464.09 L1665.13 461.07 L1666.72 458.05 L1668.3 455.02 L1669.89 451.99 L1671.48 448.95 L1673.06 445.91 L1674.65 442.87 L1676.24 439.82 L1677.83 436.77 L1679.41 433.72 L1681 430.66 L1682.59 427.6 L1684.17 424.54 L1685.76 421.47 L1687.35 418.39 L1688.93 415.32 L1690.52 412.24 L1692.11 409.15 L1693.69 406.06 L1695.28 402.97 L1696.87 399.87 L1698.45 396.77 L1700.04 393.67 L1701.63 390.56 L1703.21 387.44 L1704.8 384.33 L1706.39 381.2 L1707.97 378.08 L1709.56 374.95 L1711.15 371.81 L1712.73 368.67 L1713.58 367" fill="none" stroke="#0000c8" stroke-width="8" stroke-linecap="round" stroke-linejoin="round" stroke-dasharray="4 16.7"/>
<path d="M332.25 1128 L333.84 1128 L335.42 1128 L337.01 1128 L338.6 1128 L340.18 1128 L341.77 1128 L343.36 1128 L344.94 1128 L346.53 1128 L348.12 1128 L349.7 1128 L351.29 1128 L352.88 1128 L354.46 1128 L356.05 1128 L357.64 1128 L359.22 1128 L360.81 1128 L362.4 1128 L363.99 1128 L365.57 1128 L367.16 1128 L368.75 1128 L370.33 1128 L371.92 1128 L373.51 1128 L375.09 1128 L376.68 1128 L378.27 1128 L379.85 1128 L381.44 1128 L383.03 1128 L384.61 1128 L386.2 1128 L387.79 1128 L389.37 1128 L390.96 1128 L392.55 1128 L394.13 1128 L395.72 1128 L397.31 1128 L398.89 1128 L400.48 1128 L402.07 1128 L403.65 1128 L405.24 1128 L406.83 1128 L408.41 1128 L410 1128 L411.59 1128 L413.17 1128 L414.76 1128 L416.35 1128 L417.94 1128 L419.52 1128 L421.11 1128 L422.7 1128 L424.28 1128 L425.87 1128 L427.46 1128 L429.04 1128 L430.63 1128 L432.22 1128 L433.8 1128 L435.39 1128 L436.98 1128 L438.56 1128 L440.15 1128 L441.74 1128 L443.32 1128 L444.91 1128 L446.5 1128 L448.08 1128 L449.67 1128 L451.26 1128 L452.84 1128 L454.43 1128 L456.02 1128 L457.6 1128 L459.19 1128 L460.78 1128 L462.36 1128 L463.95 1128 L465.54 1128 L467.12 1128 L468.71 1128 L470.3 1128 L471.89 1128 L473.47 1128 L475.06 1128 L476.65 1128 L478.23 1128 L479.82 1128 L481.41 1128 L482.99 1128 L484.58 1128 L486.17 1128 L487.75 1128 L489.34 1128 L490.93 1128 L492.51 1128 L494.1 1128 L495.69 1128 L497.27 1128 L498.86 1128 L500.45 1128 L502.03 1128 L503.62 1128 L505.21 1128 L506.79 1128 L508.38 1128 L509.97 1128 L511.55 1128 L513.14 1128 L514.73 1128 L516.31 1128 L517.9 1128 L519.49 1128 L521.07 1128 L522.66 1128 L524.25 1128 L525.84 1128 L527.42 1128 L529.01 1128 L530.6 1128 L532.18 1128 L533.77 1128 L535.36 1128 L536.94 1128 L538.53 1128 L540.12 1128 L541.7 1128 L543.29 1128 L544.88 1128 L546.46 1128 L548.05 1128 L549.64 1128 L551.22 1128 L552.81 1128 L554.4 1128 L555.98 1128 L557.57 1128 L559.16 1128 L560.74 1128 L562.33 1128 L563.92 1128 L565.5 1128 L567.09 1128 L568.68 1128 L570.26 1128 L571.85 1128 L573.44 1128 L575.02 1128 L576.61 1128 L578.2 1128 L579.79 1128 L581.37 1128 L582.96 1128 L584.55 1128 L586.13 1128 L587.72 1128 L589.31 1128 L590.89 1128 L592.48 1128 L594.07 1128 L595.65 1128 L597.24 1128 L598.83 1128 L600.41 1128 L602 1128 L603.59 1128 L605.17 1128 L606.76 1128 L608.35 1128 L609.93 1128 L611.52 1128 L613.11 1128 L614.69 1128 L616.28 1128 L617.87 1128 L619.45 1128 L621.04 1128 L622.63 1128 L624.21 1128 L625.8 1128 L627.39 1128 L628.97 1128 L630.56 1128 L632.15 1128 L633.73 1128 L635.32 1128 L636.91 1128 L638.5 1128 L640.08 1128 L641.67 1128 L643.26 1128 L644.84 1128 L646.43 1128 L648.02 1128 L649.6 1128 L651.19 1128 L652.78 1128 L654.36 1128 L655.95 1128 L657.54 1128 L659.12 1128 L660.71 1128 L662.3 1128 L663.88 1128 L665.47 1128 L667.06 1128 L668.64 1128 L670.23 1128 L671.82 1128 L673.4 1128 L674.99 1128 L676.58 1128 L678.16 1128 L679.75 1128 L681.34 1128 L682.92 1128 L684.51 1128 L686.1 1128 L687.68 1128 L689.27 1128 L690.86 1128 L692.45 1128 L694.03 1128 L695.62 1128 L697.21 1128 L698.79 1128 L700.38 1128 L701.97 1128 L703.55 1128 L705.14 1128 L706.73 1128 L708.31 1128 L709.9 1128 L711.49 1128 L713.07 1128 L714.66 1128 L716.25 1128 L717.83 1128 L719.42 1128 L721.01 1128 L722.59 1128 L724.18 1128 L725.77 1128 L727.35 1128 L728.94 1128 L730.53 1128 L732.11 1128 L733.7 1128 L735.29 1128 L736.87 1128 L738.46 1128 L740.05 1128 L741.63 1128 L743.22 1128 L744.81 1128 L746.4 1128 L747.98 1128 L749.57 1128 L751.16 1128 L752.74 1128 L754.33 1128 L755.92 1128 L757.5 1128 L759.09 1128 L760.68 1128 L762.26 1128 L763.85 1128 L765.44 1128 L767.02 1128 L768.61 1128 L770.2 1128 L771.78 1128 L773.37 1128 L774.96 1128 L776.54 1128 L778.13 1128 L779.72 1128 L781.3 1128 L782.89 1128 L784.48 1128 L786.06 1128 L787.65 1128 L789.24 1128 L790.82 1128 L792.41 1128 L794 1128 L795.58 1128 L797.17 1128 L798.76 1128 L800.35 1128 L801.93 1128 L803.52 1128 L805.11 1128 L806.69 1128 L808.28 1128 L809.87 1128 L811.45 1128 L813.04 1128 L814.63 1128 L816.21 1128 L817.8 1128 L819.39 1128 L820.97 1128 L822.56 1128 L824.15 1128 L825.73 1128 L827.32 1128 L828.91 1128 L830.49 1128 L832.08 1128 L833.67 1128 L835.25 1128 L836.84 1128 L838.43 1128 L840.01 1128 L841.6 1128 L843.19 1128 L844.77 1128 L846.36 1128 L847.95 1128 L849.53 1128 L851.12 1128 L852.71 1128 L854.3 1128 L855.88 1128 L857.47 1128 L859.06 1128 L860.64 1128 L862.23 1128 L863.82 1128 L865.4 1128 L866.99 1128 L868.58 1128 L870.16 1128 L871.75 1128 L873.34 1128 L874.92 1128 L876.51 1128 L878.1 1128 L879.68 1128 L881.27 1128 L882.86 1128 L884.44 1128 L886.03 1128 L887.62 1128 L889.2 1128 L890.79 1128 L892.38 1128 L893.96 1128 L895.55 1128 L897.14 1128 L898.72 1128 L900.31 1127.99 L901.9 1127.99 L903.48 1127.99 L905.07 1127.99 L906.66 1127.99 L908.24 1127.99 L909.83 1127.98 L911.42 1127.98 L913.01 1127.98 L914.59 1127.97 L916.18 1127.97 L917.77 1127.97 L919.35 1127.96 L920.94 1127.96 L922.53 1127.95 L924.11 1127.94 L925.7 1127.94 L927.29 1127.93 L928.87 1127.92 L930.46 1127.92 L932.05 1127.91 L933.63 1127.9 L935.22 1127.89 L936.81 1127.88 L938.39 1127.87 L939.98 1127.85 L941.57 1127.84 L943.15 1127.83 L944.74 1127.81 L946.33 1127.8 L947.91 1127.78 L949.5 1127.76 L951.09 1127.75 L952.67 1127.73 L954.26 1127.71 L955.85 1127.69 L957.43 1127.67 L959.02 1127.64 L960.61 1127.62 L962.19 1127.59 L963.78 1127.57 L965.37 1127.54 L966.96 1127.51 L968.54 1127.48 L970.13 1127.45 L971.72 1127.42 L973.3 1127.39 L974.89 1127.35 L976.48 1127.32 L978.06 1127.28 L979.65 1127.24 L981.24 1127.2 L982.82 1127.16 L984.41 1127.11 L986 1127.07 L987.58 1127.02 L989.17 1126.98 L990.76 1126.93 L992.34 1126.87 L993.93 1126.82 L995.52 1126.77 L997.1 1126.71 L998.69 1126.65 L1000.28 1126.59 L1001.86 1126.53 L1003.45 1126.47 L1005.04 1126.4 L1006.62 1126.33 L1008.21 1126.26 L1009.8 1126.19 L1011.38 1126.12 L1012.97 1126.04 L1014.56 1125.96 L1016.14 1125.88 L1017.73 1125.8 L1019.32 1125.72 L1020.91 1125.63 L1022.49 1125.54 L1024.08 1125.45 L1025.67 1125.35 L1027.25 1125.26 L1028.84 1125.16 L1030.43 1125.06 L1032.01 1124.95 L1033.6 1124.85 L1035.19 1124.74 L1036.77 1124.63 L1038.36 1124.51 L1039.95 1124.4 L1041.53 1124.28 L1043.12 1124.15 L1044.71 1124.03 L1046.29 1123.9 L1047.88 1123.77 L1049.47 1123.64 L1051.05 1123.5 L1052.64 1123.36 L1054.23 1123.22 L1055.81 1123.07 L1057.4 1122.92 L1058.99 1122.77 L1060.57 1122.61 L1062.16 1122.45 L1063.75 1122.29 L1065.33 1122.13 L1066.92 1121.96 L1068.51 1121.79 L1070.09 1121.61 L1071.68 1121.43 L1073.27 1121.25 L1074.86 1121.06 L1076.44 1120.87 L1078.03 1120.68 L1079.62 1120.48 L1081.2 1120.28 L1082.79 1120.08 L1084.38 1119.87 L1085.96 1119.66 L1087.55 1119.45 L1089.14 1119.23 L1090.72 1119 L1092.31 1118.77 L1093.9 1118.54 L1095.48 1118.31 L1097.07 1118.07 L1098.66 1117.82 L1100.24 1117.58 L1101.83 1117.33 L1103.42 1117.07 L1105 1116.81 L1106.59 1116.54 L1108.18 1116.27 L1109.76 1116 L1111.35 1115.72 L1112.94 1115.44 L1114.52 1115.15 L1116.11 1114.86 L1117.7 1114.56 L1119.28 1114.26 L1120.87 1113.96 L1122.46 1113.65 L1124.04 1113.33 L1125.63 1113.01 L1127.22 1112.68 L1128.81 1112.35 L1130.39 1112.02 L1131.98 1111.68 L1133.57 1111.33 L1135.15 1110.98 L1136.74 1110.63 L1138.33 1110.27 L1139.91 1109.9 L1141.5 1109.53 L1143.09 1109.15 L1144.67 1108.77 L1146.26 1108.38 L1147.85 1107.99 L1149.43 1107.59 L1151.02 1107.19 L1152.61 1106.78 L1154.19 1106.36 L1155.78 1105.94 L1157.37 1105.52 L1158.95 1105.08 L1160.54 1104.64 L1162.13 1104.2 L1163.71 1103.75 L1165.3 1103.29 L1166.89 1102.83 L1168.47 1102.36 L1170.06 1101.89 L1171.65 1101.41 L1173.23 1100.92 L1174.82 1100.43 L1176.41 1099.93 L1177.99 1099.43 L1179.58 1098.92 L1181.17 1098.4 L1182.76 1097.87 L1184.34 1097.34 L1185.93 1096.8 L1187.52 1096.26 L1189.1 1095.71 L1190.69 1095.15 L1192.28 1094.59 L1193.86 1094.02 L1195.45 1093.44 L1197.04 1092.85 L1198.62 1092.26 L1200.21 1091.66 L1201.8 1091.06 L1203.38 1090.45 L1204.97 1089.83 L1206.56 1089.22 L1208.14 1088.6 L1209.73 1087.98 L1211.32 1087.35 L1212.9 1086.71 L1214.49 1086.06 L1216.08 1085.41 L1217.66 1084.74 L1219.25 1084.07 L1220.84 1083.4 L1222.42 1082.71 L1224.01 1082.02 L1225.6 1081.32 L1227.18 1080.61 L1228.77 1079.89 L1230.36 1079.16 L1231.94 1078.43 L1233.53 1077.69 L1235.12 1076.94 L1236.7 1076.18 L1238.29 1075.41 L1239.88 1074.63 L1241.47 1073.85 L1243.05 1073.06 L1244.64 1072.25 L1246.23 1071.44 L1247.81 1070.62 L1249.4 1069.8 L1250.99 1068.96 L1252.57 1068.11 L1254.16 1067.26 L1255.75 1066.4 L1257.33 1065.53 L1258.92 1064.64 L1260.51 1063.75 L1262.09 1062.85 L1263.68 1061.95 L1265.27 1061.03 L1266.85 1060.1 L1268.44 1059.16 L1270.03 1058.22 L1271.61 1057.26 L1273.2 1056.3 L1274.79 1055.33 L1276.37 1054.34 L1277.96 1053.35 L1279.55 1052.35 L1281.13 1051.34 L1282.72 1050.32 L1284.31 1049.28 L1285.89 1048.24 L1287.48 1047.19 L1289.07 1046.13 L1290.65 1045.06 L1292.24 1043.98 L1293.83 1042.9 L1295.42 1041.8 L1297 1040.69 L1298.59 1039.57 L1300.18 1038.44 L1301.76 1037.3 L1303.35 1036.15 L1304.94 1034.99 L1306.52 1033.82 L1308.11 1032.64 L1309.7 1031.46 L1311.28 1030.26 L1312.87 1029.05 L1314.46 1027.83 L1316.04 1026.6 L1317.63 1025.36 L1319.22 1024.11 L1320.8 1022.85 L1322.39 1021.58 L1323.98 1020.3 L1325.56 1019 L1327.15 1017.7 L1328.74 1016.39 L1330.32 1015.07 L1331.91 1013.74 L1333.5 1012.39 L1335.08 1011.04 L1336.67 1009.68 L1338.26 1008.3 L1339.84 1006.92 L1341.43 1005.52 L1343.02 1004.12 L1344.6 1002.7 L1346.19 1001.28 L1347.78 999.84 L1349.37 998.39 L1350.95 996.94 L1352.54 995.47 L1354.13 993.99 L1355.71 992.5 L1357.3 991 L1358.89 989.49 L1360.47 987.97 L1362.06 986.44 L1363.65 984.9 L1365.23 983.35 L1366.82 981.79 L1368.41 980.21 L1369.99 978.63 L1371.58 977.04 L1373.17 975.43 L1374.75 973.82 L1376.34 972.19 L1377.93 970.56 L1379.51 968.91 L1381.1 967.26 L1382.69 965.59 L1384.27 963.91 L1385.86 962.23 L1387.45 960.53 L1389.03 958.82 L1390.62 957.1 L1392.21 955.38 L1393.79 953.64 L1395.38 951.89 L1396.97 950.13 L1398.55 948.36 L1400.14 946.58 L1401.73 944.79 L1403.32 942.99 L1404.9 941.18 L1406.49 939.36 L1408.08 937.53 L1409.66 935.69 L1411.25 933.84 L1412.84 931.98 L1414.42 930.11 L1416.01 928.23 L1417.6 926.34 L1419.18 924.44 L1420.77 922.53 L1422.36 920.61 L1423.94 918.68 L1425.53 916.74 L1427.12 914.79 L1428.7 912.83 L1430.29 910.86 L1431.88 908.89 L1433.46 906.9 L1435.05 904.9 L1436.64 902.89 L1438.22 900.88 L1439.81 898.85 L1441.4 896.81 L1442.98 894.77 L1444.57 892.72 L1446.16 890.65 L1447.74 888.58 L1449.33 886.5 L1450.92 884.4 L1452.5 882.3 L1454.09 880.19 L1455.68 878.08 L1457.27 875.95 L1458.85 873.81 L1460.44 871.66 L1462.03 869.51 L1463.61 867.35 L1465.2 865.17 L1466.79 862.99 L1468.37 860.8 L1469.96 858.6 L1471.55 856.39 L1473.13 854.18 L1474.72 851.95 L1476.31 849.72 L1477.89 847.48 L1479.48 845.23 L1481.07 842.97 L1482.65 840.7 L1484.24 838.43 L1485.83 836.15 L1487.41 833.85 L1489 831.55 L1490.59 829.25 L1492.17 826.93 L1493.76 824.61 L1495.35 822.28 L1496.93 819.94 L1498.52 817.59 L1500.11 815.23 L1501.69 812.87 L1503.28 810.5 L1504.87 808.12 L1506.45 805.74 L1508.04 803.34 L1509.63 800.94 L1511.21 798.54 L1512.8 796.12 L1514.39 793.7 L1515.98 791.27 L1517.56 788.83 L1519.15 786.39 L1520.74 783.93 L1522.32 781.48 L1523.91 779.01 L1525.5 776.54 L1527.08 774.06 L1528.67 771.57 L1530.26 769.08 L1531.84 766.58 L1533.43 764.08 L1535.02 761.56 L1536.6 759.04 L1538.19 756.52 L1539.78 753.99 L1541.36 751.45 L1542.95 748.9 L1544.54 746.35 L1546.12 743.8 L1547.71 741.23 L1549.3 738.66 L1550.88 736.09 L1552.47 733.51 L1554.06 730.92 L1555.64 728.32 L1557.23 725.73 L1558.82 723.12 L1560.4 720.51 L1561.99 717.89 L1563.58 715.27 L1565.16 712.64 L1566.75 710.01 L1568.34 707.37 L1569.93 704.73 L1571.51 702.08 L1573.1 699.42 L1574.69 696.76 L1576.27 694.09 L1577.86 691.42 L1579.45 688.75 L1581.03 686.07 L1582.62 683.38 L1584.21 680.69 L1585.79 677.99 L1587.38 675.29 L1588.97 672.59 L1590.55 669.87 L1592.14 667.16 L1593.73 664.44 L1595.31 661.71 L1596.9 658.98 L1598.49 656.25 L1600.07 653.51 L1601.66 650.77 L1603.25 648.02 L1604.83 645.27 L1606.42 642.51 L1608.01 639.75 L1609.59 636.98 L1611.18 634.21 L1612.77 631.44 L1614.35 628.66 L1615.94 625.88 L1617.53 623.09 L1619.11 620.3 L1620.7 617.5 L1622.29 614.7 L1623.88 611.9 L1625.46 609.09 L1627.05 606.28 L1628.64 603.47 L1630.22 600.65 L1631.81 597.83 L1633.4 595 L1634.98 592.17 L1636.57 589.34 L1638.16 586.5 L1639.74 583.66 L1641.33 580.81 L1642.92 577.96 L1644.5 575.11 L1646.09 572.25 L1647.68 569.39 L1649.26 566.53 L1650.85 563.66 L1652.44 560.79 L1654.02 557.92 L1655.61 555.04 L1657.2 552.16 L1658.78 549.27 L1660.37 546.38 L1661.96 543.49 L1663.54 540.6 L1665.13 537.7 L1666.72 534.8 L1668.3 531.89 L1669.89 528.98 L1671.48 526.07 L1673.06 523.15 L1674.65 520.23 L1676.24 517.31 L1677.83 514.39 L1679.41 511.46 L1681 508.52 L1682.59 505.59 L1684.17 502.65 L1685.76 499.71 L1687.35 496.76 L1688.93 493.81 L1690.52 490.86 L1692.11 487.9 L1693.69 484.94 L1695.28 481.98 L1696.87 479.01 L1698.45 476.04 L1700.04 473.07 L1701.63 470.09 L1703.21 467.11 L1704.8 464.13 L1706.39 461.14 L1707.97 458.15 L1709.56 455.16 L1711.15 452.16 L1712.73 449.16 L1714.32 446.15 L1715.91 443.15 L1717.49 440.13 L1719.08 437.12 L1720.67 434.1 L1722.25 431.08 L1723.84 428.05 L1725.43 425.02 L1727.01 421.99 L1728.6 418.95 L1730.19 415.91 L1731.78 412.86 L1733.36 409.81 L1734.95 406.76 L1736.54 403.7 L1738.12 400.64 L1739.71 397.58 L1741.3 394.51 L1742.88 391.44 L1744.47 388.36 L1746.06 385.28 L1747.64 382.19 L1749.23 379.1 L1750.82 376.01 L1752.4 372.91 L1753.99 369.8 L1755.42 367" fill="none" stroke="#0000c8" stroke-width="8" stroke-linecap="round" stroke-linejoin="round" stroke-dasharray="4 16.7"/>
<path d="M332.25 1128 L333.84 1128 L335.42 1128 L337.01 1128 L338.6 1128 L340.18 1128 L341.77 1128 L343.36 1128 L344.94 1128 L346.53 1128 L348.12 1128 L349.7 1128 L351.29 1128 L352.88 1128 L354.46 1128 L356.05 1128 L357.64 1127.99 L359.22 1127.99 L360.81 1127.99 L362.4 1127.99 L363.99 1127.99 L365.57 1127.99 L367.16 1127.98 L368.75 1127.98 L370.33 1127.98 L371.92 1127.97 L373.51 1127.97 L375.09 1127.97 L376.68 1127.96 L378.27 1127.96 L379.85 1127.95 L381.44 1127.95 L383.03 1127.94 L384.61 1127.93 L386.2 1127.93 L387.79 1127.92 L389.37 1127.91 L390.96 1127.9 L392.55 1127.89 L394.13 1127.88 L395.72 1127.87 L397.31 1127.86 L398.89 1127.85 L400.48 1127.84 L402.07 1127.82 L403.65 1127.81 L405.24 1127.8 L406.83 1127.78 L408.41 1127.77 L410 1127.75 L411.59 1127.73 L413.17 1127.71 L414.76 1127.69 L416.35 1127.67 L417.94 1127.65 L419.52 1127.63 L421.11 1127.6 L422.7 1127.58 L424.28 1127.55 L425.87 1127.53 L427.46 1127.5 L429.04 1127.47 L430.63 1127.44 L432.22 1127.41 L433.8 1127.38 L435.39 1127.35 L436.98 1127.31 L438.56 1127.27 L440.15 1127.24 L441.74 1127.2 L443.32 1127.16 L444.91 1127.12 L446.5 1127.07 L448.08 1127.03 L449.67 1126.99 L451.26 1126.94 L452.84 1126.89 L454.43 1126.84 L456.02 1126.79 L457.6 1126.73 L459.19 1126.68 L460.78 1126.62 L462.36 1126.56 L463.95 1126.5 L465.54 1126.44 L467.12 1126.38 L468.71 1126.31 L470.3 1126.25 L471.89 1126.18 L473.47 1126.11 L475.06 1126.03 L476.65 1125.96 L478.23 1125.88 L479.82 1125.8 L481.41 1125.72 L482.99 1125.64 L484.58 1125.55 L486.17 1125.47 L487.75 1125.38 L489.34 1125.29 L490.93 1125.19 L492.51 1125.1 L494.1 1125 L495.69 1124.9 L497.27 1124.79 L498.86 1124.69 L500.45 1124.58 L502.03 1124.47 L503.62 1124.36 L505.21 1124.24 L506.79 1124.13 L508.38 1124 L509.97 1123.88 L511.55 1123.76 L513.14 1123.63 L514.73 1123.5 L516.31 1123.36 L517.9 1123.23 L519.49 1123.09 L521.07 1122.95 L522.66 1122.8 L524.25 1122.65 L525.84 1122.5 L527.42 1122.35 L529.01 1122.19 L530.6 1122.03 L532.18 1121.87 L533.77 1121.7 L535.36 1121.53 L536.94 1121.36 L538.53 1121.18 L540.12 1121.01 L541.7 1120.82 L543.29 1120.64 L544.88 1120.45 L546.46 1120.26 L548.05 1120.06 L549.64 1119.86 L551.22 1119.66 L552.81 1119.45 L554.4 1119.24 L555.98 1119.03 L557.57 1118.81 L559.16 1118.59 L560.74 1118.37 L562.33 1118.14 L563.92 1117.91 L565.5 1117.67 L567.09 1117.44 L568.68 1117.19 L570.26 1116.95 L571.85 1116.69 L573.44 1116.44 L575.02 1116.18 L576.61 1115.92 L578.2 1115.65 L579.79 1115.38 L581.37 1115.1 L582.96 1114.82 L584.55 1114.54 L586.13 1114.25 L587.72 1113.96 L589.31 1113.66 L590.89 1113.36 L592.48 1113.05 L594.07 1112.74 L595.65 1112.43 L597.24 1112.11 L598.83 1111.79 L600.41 1111.46 L602 1111.12 L603.59 1110.79 L605.17 1110.44 L606.76 1110.1 L608.35 1109.74 L609.93 1109.39 L611.52 1109.02 L613.11 1108.66 L614.69 1108.29 L616.28 1107.91 L617.87 1107.53 L619.45 1107.14 L621.04 1106.75 L622.63 1106.35 L624.21 1105.95 L625.8 1105.54 L627.39 1105.13 L628.97 1104.71 L630.56 1104.29 L632.15 1103.86 L633.73 1103.42 L635.32 1102.98 L636.91 1102.54 L638.5 1102.09 L640.08 1101.63 L641.67 1101.17 L643.26 1100.7 L644.84 1100.22 L646.43 1099.75 L648.02 1099.26 L649.6 1098.77 L651.19 1098.27 L652.78 1097.77 L654.36 1097.26 L655.95 1096.75 L657.54 1096.22 L659.12 1095.7 L660.71 1095.16 L662.3 1094.63 L663.88 1094.08 L665.47 1093.53 L667.06 1092.97 L668.64 1092.41 L670.23 1091.84 L671.82 1091.26 L673.4 1090.67 L674.99 1090.08 L676.58 1089.5 L678.16 1088.91 L679.75 1088.32 L681.34 1087.72 L682.92 1087.11 L684.51 1086.5 L686.1 1085.88 L687.68 1085.25 L689.27 1084.62 L690.86 1083.98 L692.45 1083.33 L694.03 1082.67 L695.62 1082.01 L697.21 1081.34 L698.79 1080.66 L700.38 1079.97 L701.97 1079.28 L703.55 1078.58 L705.14 1077.87 L706.73 1077.16 L708.31 1076.43 L709.9 1075.7 L711.49 1074.96 L713.07 1074.22 L714.66 1073.46 L716.25 1072.7 L717.83 1071.93 L719.42 1071.15 L721.01 1070.37 L722.59 1069.57 L724.18 1068.77 L725.77 1067.96 L727.35 1067.14 L728.94 1066.32 L730.53 1065.48 L732.11 1064.64 L733.7 1063.79 L735.29 1062.93 L736.87 1062.06 L738.46 1061.18 L740.05 1060.3 L741.63 1059.41 L743.22 1058.5 L744.81 1057.59 L746.4 1056.68 L747.98 1055.75 L749.57 1054.81 L751.16 1053.87 L752.74 1052.91 L754.33 1051.95 L755.92 1050.98 L757.5 1050 L759.09 1049.01 L760.68 1048.02 L762.26 1047.01 L763.85 1046 L765.44 1044.97 L767.02 1043.94 L768.61 1042.9 L770.2 1041.85 L771.78 1040.79 L773.37 1039.72 L774.96 1038.64 L776.54 1037.55 L778.13 1036.46 L779.72 1035.35 L781.3 1034.24 L782.89 1033.11 L784.48 1031.98 L786.06 1030.84 L787.65 1029.69 L789.24 1028.53 L790.82 1027.36 L792.41 1026.18 L794 1024.99 L795.58 1023.79 L797.17 1022.58 L798.76 1021.37 L800.35 1020.14 L801.93 1018.9 L803.52 1017.66 L805.11 1016.4 L806.69 1015.14 L808.28 1013.87 L809.87 1012.58 L811.45 1011.29 L813.04 1009.99 L814.63 1008.68 L816.21 1007.36 L817.8 1006.03 L819.39 1004.69 L820.97 1003.34 L822.56 1001.98 L824.15 1000.61 L825.73 999.23 L827.32 997.85 L828.91 996.45 L830.49 995.04 L832.08 993.63 L833.67 992.2 L835.25 990.76 L836.84 989.32 L838.43 987.87 L840.01 986.4 L841.6 984.93 L843.19 983.44 L844.77 981.95 L846.36 980.45 L847.95 978.94 L849.53 977.42 L851.12 975.88 L852.71 974.34 L854.3 972.79 L855.88 971.23 L857.47 969.67 L859.06 968.09 L860.64 966.5 L862.23 964.9 L863.82 963.29 L865.4 961.68 L866.99 960.05 L868.58 958.42 L870.16 956.77 L871.75 955.12 L873.34 953.45 L874.92 951.78 L876.51 950.1 L878.1 948.41 L879.68 946.71 L881.27 945 L882.86 943.28 L884.44 941.55 L886.03 939.81 L887.62 938.06 L889.2 936.31 L890.79 934.54 L892.38 932.76 L893.96 930.98 L895.55 929.19 L897.14 927.39 L898.72 925.57 L900.31 923.75 L901.9 921.92 L903.48 920.09 L905.07 918.24 L906.66 916.38 L908.24 914.52 L909.83 912.64 L911.42 910.76 L913.01 908.87 L914.59 906.97 L916.18 905.06 L917.77 903.14 L919.35 901.21 L920.94 899.28 L922.53 897.33 L924.11 895.38 L925.7 893.42 L927.29 891.45 L928.87 889.47 L930.46 887.48 L932.05 885.49 L933.63 883.48 L935.22 881.47 L936.81 879.45 L938.39 877.42 L939.98 875.38 L941.57 873.34 L943.15 871.28 L944.74 869.22 L946.33 867.15 L947.91 865.07 L949.5 862.99 L951.09 860.89 L952.67 858.79 L954.26 856.68 L955.85 854.56 L957.43 852.44 L959.02 850.31 L960.61 848.16 L962.19 846.02 L963.78 843.86 L965.37 841.69 L966.96 839.52 L968.54 837.34 L970.13 835.16 L971.72 832.96 L973.3 830.76 L974.89 828.55 L976.48 826.34 L978.06 824.11 L979.65 821.88 L981.24 819.64 L982.82 817.4 L984.41 815.15 L986 812.89 L987.58 810.62 L989.17 808.35 L990.76 806.07 L992.34 803.78 L993.93 801.49 L995.52 799.18 L997.1 796.88 L998.69 794.56 L1000.28 792.24 L1001.86 789.91 L1003.45 787.58 L1005.04 785.24 L1006.62 782.89 L1008.21 780.54 L1009.8 778.18 L1011.38 775.82 L1012.97 773.44 L1014.56 771.06 L1016.14 768.68 L1017.73 766.29 L1019.32 763.89 L1020.91 761.49 L1022.49 759.08 L1024.08 756.67 L1025.67 754.25 L1027.25 751.82 L1028.84 749.39 L1030.43 746.95 L1032.01 744.51 L1033.6 742.06 L1035.19 739.6 L1036.77 737.14 L1038.36 734.68 L1039.95 732.2 L1041.53 729.73 L1043.12 727.24 L1044.71 724.76 L1046.29 722.26 L1047.88 719.77 L1049.47 717.26 L1051.05 714.75 L1052.64 712.24 L1054.23 709.72 L1055.81 707.2 L1057.4 704.67 L1058.99 702.14 L1060.57 699.6 L1062.16 697.05 L1063.75 694.51 L1065.33 691.95 L1066.92 689.39 L1068.51 686.83 L1070.09 684.27 L1071.68 681.69 L1073.27 679.12 L1074.86 676.54 L1076.44 673.95 L1078.03 671.36 L1079.62 668.77 L1081.2 666.17 L1082.79 663.57 L1084.38 660.96 L1085.96 658.35 L1087.55 655.73 L1089.14 653.11 L1090.72 650.49 L1092.31 647.86 L1093.9 645.23 L1095.48 642.59 L1097.07 639.95 L1098.66 637.31 L1100.24 634.66 L1101.83 632.01 L1103.42 629.35 L1105 626.69 L1106.59 624.03 L1108.18 621.36 L1109.76 618.69 L1111.35 616.02 L1112.94 613.34 L1114.52 610.66 L1116.11 607.97 L1117.7 605.28 L1119.28 602.59 L1120.87 599.89 L1122.46 597.19 L1124.04 594.49 L1125.63 591.78 L1127.22 589.07 L1128.81 586.36 L1130.39 583.64 L1131.98 580.92 L1133.57 578.2 L1135.15 575.47 L1136.74 572.74 L1138.33 570 L1139.91 567.27 L1141.5 564.53 L1143.09 561.78 L1144.67 559.03 L1146.26 556.28 L1147.85 553.53 L1149.43 550.77 L1151.02 548.01 L1152.61 545.25 L1154.19 542.48 L1155.78 539.72 L1157.37 536.94 L1158.95 534.17 L1160.54 531.39 L1162.13 528.61 L1163.71 525.82 L1165.3 523.03 L1166.89 520.24 L1168.47 517.45 L1170.06 514.65 L1171.65 511.85 L1173.23 509.05 L1174.82 506.24 L1176.41 503.43 L1177.99 500.62 L1179.58 497.8 L1181.17 494.98 L1182.76 492.16 L1184.34 489.33 L1185.93 486.51 L1187.52 483.68 L1189.1 480.84 L1190.69 478 L1192.28 475.16 L1193.86 472.32 L1195.45 469.47 L1197.04 466.62 L1198.62 463.77 L1200.21 460.91 L1201.8 458.05 L1203.38 455.19 L1204.97 452.32 L1206.56 449.45 L1208.14 446.58 L1209.73 443.71 L1211.32 440.83 L1212.9 437.94 L1214.49 435.06 L1216.08 432.17 L1217.66 429.28 L1219.25 426.38 L1220.84 423.48 L1222.42 420.58 L1224.01 417.67 L1225.6 414.76 L1227.18 411.85 L1228.77 408.93 L1230.36 406.01 L1231.94 403.09 L1233.53 400.16 L1235.12 397.23 L1236.7 394.3 L1238.29 391.36 L1239.88 388.42 L1241.47 385.47 L1243.05 382.52 L1244.64 379.56 L1246.23 376.61 L1247.81 373.64 L1249.4 370.68 L1250.99 367.71 L1251.36 367" fill="none" stroke="#ff0000" stroke-width="12" stroke-linecap="round" stroke-linejoin="round" stroke-dasharray="24 41.6"/>
<path d="M332.25 1128 L333.84 1128 L335.42 1128 L337.01 1128 L338.6 1128 L340.18 1128 L341.77 1128 L343.36 1128 L344.94 1128 L346.53 1128 L348.12 1128 L349.7 1128 L351.29 1128 L352.88 1128 L354.46 1128 L356.05 1128 L357.64 1128 L359.22 1128 L360.81 1128 L362.4 1128 L363.99 1128 L365.57 1128 L367.16 1127.99 L368.75 1127.99 L370.33 1127.99 L371.92 1127.99 L373.51 1127.99 L375.09 1127.99 L376.68 1127.98 L378.27 1127.98 L379.85 1127.98 L381.44 1127.98 L383.03 1127.97 L384.61 1127.97 L386.2 1127.96 L387.79 1127.96 L389.37 1127.96 L390.96 1127.95 L392.55 1127.94 L394.13 1127.94 L395.72 1127.93 L397.31 1127.92 L398.89 1127.92 L400.48 1127.91 L402.07 1127.9 L403.65 1127.89 L405.24 1127.88 L406.83 1127.87 L408.41 1127.86 L410 1127.84 L411.59 1127.83 L413.17 1127.82 L414.76 1127.8 L416.35 1127.78 L417.94 1127.77 L419.52 1127.75 L421.11 1127.73 L422.7 1127.71 L424.28 1127.69 L425.87 1127.67 L427.46 1127.64 L429.04 1127.62 L430.63 1127.59 L432.22 1127.56 L433.8 1127.53 L435.39 1127.5 L436.98 1127.47 L438.56 1127.44 L440.15 1127.4 L441.74 1127.37 L443.32 1127.33 L444.91 1127.29 L446.5 1127.24 L448.08 1127.2 L449.67 1127.16 L451.26 1127.11 L452.84 1127.06 L454.43 1127.01 L456.02 1126.95 L457.6 1126.9 L459.19 1126.84 L460.78 1126.78 L462.36 1126.71 L463.95 1126.65 L465.54 1126.58 L467.12 1126.51 L468.71 1126.44 L470.3 1126.36 L471.89 1126.28 L473.47 1126.2 L475.06 1126.12 L476.65 1126.03 L478.23 1125.94 L479.82 1125.85 L481.41 1125.75 L482.99 1125.65 L484.58 1125.55 L486.17 1125.44 L487.75 1125.33 L489.34 1125.22 L490.93 1125.11 L492.51 1124.99 L494.1 1124.86 L495.69 1124.73 L497.27 1124.6 L498.86 1124.47 L500.45 1124.33 L502.03 1124.18 L503.62 1124.03 L505.21 1123.88 L506.79 1123.73 L508.38 1123.56 L509.97 1123.4 L511.55 1123.23 L513.14 1123.05 L514.73 1122.87 L516.31 1122.69 L517.9 1122.5 L519.49 1122.3 L521.07 1122.1 L522.66 1121.9 L524.25 1121.69 L525.84 1121.47 L527.42 1121.25 L529.01 1121.02 L530.6 1120.79 L532.18 1120.55 L533.77 1120.31 L535.36 1120.05 L536.94 1119.8 L538.53 1119.53 L540.12 1119.27 L541.7 1118.99 L543.29 1118.71 L544.88 1118.42 L546.46 1118.12 L548.05 1117.82 L549.64 1117.51 L551.22 1117.19 L552.81 1116.87 L554.4 1116.54 L555.98 1116.2 L557.57 1115.85 L559.16 1115.5 L560.74 1115.14 L562.33 1114.77 L563.92 1114.39 L565.5 1114.01 L567.09 1113.61 L568.68 1113.21 L570.26 1112.8 L571.85 1112.38 L573.44 1111.95 L575.02 1111.52 L576.61 1111.07 L578.2 1110.62 L579.79 1110.16 L581.37 1109.68 L582.96 1109.2 L584.55 1108.71 L586.13 1108.21 L587.72 1107.7 L589.31 1107.18 L590.89 1106.65 L592.48 1106.11 L594.07 1105.56 L595.65 1104.99 L597.24 1104.42 L598.83 1103.84 L600.41 1103.24 L602 1102.64 L603.59 1102.02 L605.17 1101.4 L606.76 1100.76 L608.35 1100.11 L609.93 1099.45 L611.52 1098.78 L613.11 1098.09 L614.69 1097.39 L616.28 1096.68 L617.87 1095.96 L619.45 1095.23 L621.04 1094.48 L622.63 1093.72 L624.21 1092.95 L625.8 1092.16 L627.39 1091.36 L628.97 1090.55 L630.56 1089.73 L632.15 1088.89 L633.73 1088.03 L635.32 1087.16 L636.91 1086.28 L638.5 1085.39 L640.08 1084.48 L641.67 1083.55 L643.26 1082.61 L644.84 1081.66 L646.43 1080.69 L648.02 1079.7 L649.6 1078.7 L651.19 1077.69 L652.78 1076.66 L654.36 1075.61 L655.95 1074.54 L657.54 1073.46 L659.12 1072.37 L660.71 1071.26 L662.3 1070.13 L663.88 1068.98 L665.47 1067.82 L667.06 1066.63 L668.64 1065.44 L670.23 1064.22 L671.82 1062.99 L673.4 1061.74 L674.99 1060.47 L676.58 1059.18 L678.16 1057.87 L679.75 1056.55 L681.34 1055.2 L682.92 1053.84 L684.51 1052.46 L686.1 1051.06 L687.68 1049.64 L689.27 1048.19 L690.86 1046.73 L692.45 1045.25 L694.03 1043.75 L695.62 1042.23 L697.21 1040.69 L698.79 1039.12 L700.38 1037.54 L701.97 1035.94 L703.55 1034.31 L705.14 1032.66 L706.73 1030.99 L708.31 1029.3 L709.9 1027.58 L711.49 1025.85 L713.07 1024.09 L714.66 1022.3 L716.25 1020.5 L717.83 1018.67 L719.42 1016.82 L721.01 1014.94 L722.59 1013.04 L724.18 1011.12 L725.77 1009.17 L727.35 1007.2 L728.94 1005.2 L730.53 1003.18 L732.11 1001.14 L733.7 999.07 L735.29 996.97 L736.87 994.85 L738.46 992.7 L740.05 990.52 L741.63 988.32 L743.22 986.09 L744.81 983.84 L746.4 981.56 L747.98 979.25 L749.57 976.91 L751.16 974.55 L752.74 972.16 L754.33 969.74 L755.92 967.29 L757.5 964.82 L759.09 962.31 L760.68 959.78 L762.26 957.21 L763.85 954.62 L765.44 952 L767.02 949.35 L768.61 946.67 L770.2 943.95 L771.78 941.21 L773.37 938.44 L774.96 935.63 L776.54 932.8 L778.13 929.93 L779.72 927.03 L781.3 924.1 L782.89 921.14 L784.48 918.14 L786.06 915.12 L787.65 912.05 L789.24 908.96 L790.82 905.83 L792.41 902.67 L794 899.48 L795.58 896.25 L797.17 892.98 L798.76 889.69 L800.35 886.35 L801.93 882.99 L803.52 879.58 L805.11 876.14 L806.69 872.67 L808.28 869.16 L809.87 865.61 L811.45 862.03 L813.04 858.41 L814.63 854.75 L816.21 851.05 L817.8 847.32 L819.39 843.55 L820.97 839.74 L822.56 835.9 L824.15 832.01 L825.73 828.09 L827.32 824.12 L828.91 820.12 L830.49 816.08 L832.08 811.99 L833.67 807.87 L835.25 803.71 L836.84 799.5 L838.43 795.26 L840.01 790.97 L841.6 786.64 L843.19 782.27 L844.77 777.86 L846.36 773.4 L847.95 768.9 L849.53 764.36 L851.12 759.78 L852.71 755.15 L854.3 750.48 L855.88 745.77 L857.47 741.01 L859.06 736.2 L860.64 731.35 L862.23 726.46 L863.82 721.52 L865.4 716.53 L866.99 711.5 L868.58 706.42 L870.16 701.3 L871.75 696.13 L873.34 690.91 L874.92 685.64 L876.51 680.33 L878.1 674.97 L879.68 669.55 L881.27 664.1 L882.86 658.59 L884.44 653.03 L886.03 647.42 L887.62 641.77 L889.2 636.06 L890.79 630.3 L892.38 624.49 L893.96 618.63 L895.55 612.72 L897.14 606.76 L898.72 600.75 L900.31 594.68 L901.9 588.56 L903.48 582.39 L905.07 576.16 L906.66 569.88 L908.24 563.55 L909.83 557.16 L911.42 550.72 L913.01 544.23 L914.59 537.67 L916.18 531.07 L917.77 524.41 L919.35 517.69 L920.94 510.91 L922.53 504.08 L924.11 497.19 L925.7 490.25 L927.29 483.24 L928.87 476.18 L930.46 469.06 L932.05 461.89 L933.63 454.65 L935.22 447.35 L936.81 440 L938.39 432.58 L939.98 425.11 L941.57 417.57 L943.15 409.97 L944.74 402.31 L946.33 394.59 L947.91 386.81 L949.5 378.97 L951.09 371.06 L951.9 367" fill="none" stroke="#ff0000" stroke-width="11" stroke-linecap="butt" stroke-linejoin="round"/>
<line x1="331" y1="747" x2="1757" y2="747" stroke="#000" stroke-width="6" stroke-linecap="butt" stroke-dasharray="20 11.5"/>
<rect x="331" y="367" width="1426" height="761" fill="none" stroke="#222" stroke-width="4"/>
<line x1="570" y1="1128" x2="570" y2="1105" stroke="#222" stroke-width="3.5" stroke-linecap="butt"/>
<line x1="570" y1="367" x2="570" y2="390" stroke="#222" stroke-width="3.5" stroke-linecap="butt"/>
<line x1="1045.5" y1="1128" x2="1045.5" y2="1105" stroke="#222" stroke-width="3.5" stroke-linecap="butt"/>
<line x1="1045.5" y1="367" x2="1045.5" y2="390" stroke="#222" stroke-width="3.5" stroke-linecap="butt"/>
<line x1="1521" y1="1128" x2="1521" y2="1105" stroke="#222" stroke-width="3.5" stroke-linecap="butt"/>
<line x1="1521" y1="367" x2="1521" y2="390" stroke="#222" stroke-width="3.5" stroke-linecap="butt"/>
<line x1="331" y1="874.33" x2="354" y2="874.33" stroke="#222" stroke-width="3.5" stroke-linecap="butt"/>
<line x1="1757" y1="874.33" x2="1734" y2="874.33" stroke="#222" stroke-width="3.5" stroke-linecap="butt"/>
<line x1="331" y1="620.67" x2="354" y2="620.67" stroke="#222" stroke-width="3.5" stroke-linecap="butt"/>
<line x1="1757" y1="620.67" x2="1734" y2="620.67" stroke="#222" stroke-width="3.5" stroke-linecap="butt"/>
<text transform="matrix(1.08 0 0 1 303.6 1160)" font-size="72" fill="#000" text-anchor="end"><tspan>0</tspan></text>
<text transform="matrix(1.08 0 0 1 304.23 905)" font-size="72" fill="#000" text-anchor="end"><tspan>10</tspan></text>
<text transform="matrix(1.09 0 0 1 301.97 651.5)" font-size="72" fill="#000" text-anchor="end"><tspan>20</tspan></text>
<text transform="matrix(1.1 0 0 1 304 399.5)" font-size="72" fill="#000" text-anchor="end"><tspan>30</tspan></text>
<text transform="matrix(1.08 0 0 1 557.03 1208)" font-size="72" fill="#000" text-anchor="middle"><tspan>120</tspan></text>
<text transform="matrix(1.08 0 0 1 1033.48 1208.5)" font-size="72" fill="#000" text-anchor="middle"><tspan>140</tspan></text>
<text transform="matrix(1.08 0 0 1 1507.53 1208.5)" font-size="72" fill="#000" text-anchor="middle"><tspan>160</tspan></text>
<text transform="matrix(1.15 0 0 1 1000.37 1287)" font-size="83" fill="#000" text-anchor="middle"><tspan>Current, </tspan><tspan font-style="italic">I</tspan><tspan> / A</tspan></text>
<text transform="matrix(0 -1 1.1 0 106 747)" font-size="85.5" fill="#000" text-anchor="middle"><tspan>Voltage, </tspan><tspan font-style="italic">V</tspan><tspan> / μV</tspan></text>
<text transform="matrix(1.18 0 0 1 379.87 451)" font-size="86" fill="#000" stroke="#fff" stroke-width="1.6" stroke-linejoin="round"><tspan>(a)</tspan></text>
<text transform="matrix(1.1 0 0 1 371 552)" font-size="72" fill="#000"><tspan font-style="italic">I</tspan><tspan dy="14.5" font-size="50">c</tspan><tspan dy="-14.5">(specimen)</tspan></text>
<text transform="matrix(1.13 0 0 1 458.95 650)" font-size="72" fill="#000"><tspan>=132 A</tspan></text>
<line x1="733.8" y1="638.7" x2="816.34" y2="702.82" stroke="#000" stroke-width="4" stroke-linecap="butt"/>
<polygon points="850.3,729.2 804.95,714.23 824.58,688.96" fill="#000" stroke="#000" stroke-width="1" stroke-linejoin="miter"/>
<line x1="515.7" y1="871.4" x2="515.7" y2="785.5" stroke="#000" stroke-width="5" stroke-linecap="butt"/>
<polygon points="515.7,747.5 534.7,787.5 496.7,787.5" fill="#000" stroke="#000" stroke-width="1" stroke-linejoin="miter"/>
<text transform="matrix(1.1 0 0 1 400.14 941)" font-size="72" fill="#000"><tspan font-style="italic">V</tspan><tspan dy="14.5" font-size="50">c</tspan><tspan dy="-14.5">=</tspan><tspan font-style="italic">E</tspan><tspan dy="14.5" font-size="50">c</tspan><tspan dy="-14.5" font-style="italic">L</tspan></text>
<text transform="matrix(1.08 0 0 1 398.97 1044.6)" font-size="72" fill="#000"><tspan>=15 μV</tspan></text>
<line x1="140" y1="1361" x2="941.5" y2="1361" stroke="#7c7c7c" stroke-width="3.2" stroke-linecap="square"/>
<line x1="140" y1="1477" x2="941.5" y2="1477" stroke="#5a5a5a" stroke-width="3.2" stroke-linecap="square"/>
<line x1="140" y1="1361" x2="140" y2="1477" stroke="#4a4a4a" stroke-width="3.2" stroke-linecap="square"/>
<line x1="941.5" y1="1361" x2="941.5" y2="1477" stroke="#262626" stroke-width="3.8" stroke-linecap="square"/>
<line x1="164.5" y1="1417" x2="314" y2="1417" stroke="#ff0000" stroke-width="11" stroke-linecap="butt"/>
<text transform="matrix(1.12 0 0 1 322.83 1445)" font-size="72" fill="#da1020"><tspan>Simulation result</tspan></text>
<line x1="955.5" y1="1360.3" x2="1776.5" y2="1360.3" stroke="#7c7c7c" stroke-width="3.2" stroke-linecap="square"/>
<line x1="955.5" y1="1494" x2="1776.5" y2="1494" stroke="#5a5a5a" stroke-width="3.2" stroke-linecap="square"/>
<line x1="955.5" y1="1360.3" x2="955.5" y2="1494" stroke="#4a4a4a" stroke-width="3.2" stroke-linecap="square"/>
<line x1="1776.5" y1="1360.3" x2="1776.5" y2="1494" stroke="#262626" stroke-width="3.8" stroke-linecap="square"/>
<line x1="1015.8" y1="1414.4" x2="1031" y2="1414.4" stroke="#000" stroke-width="5" stroke-linecap="butt"/>
<line x1="1041.5" y1="1414.4" x2="1119.3" y2="1414.4" stroke="#000" stroke-width="5" stroke-linecap="butt"/>
<text transform="matrix(1.12 0 0 1 1140.05 1445)" font-size="72" fill="#000"><tspan>Calc. </tspan><tspan font-style="italic">K</tspan><tspan dy="17" font-size="50">eq</tspan><tspan dy="-17">=1 to 10</tspan></text>
<path d="M337.25 2299 L338.86 2299 L340.46 2299 L342.07 2299 L343.68 2299 L345.28 2299 L346.89 2299 L348.5 2299 L350.1 2298.99 L351.71 2298.99 L353.32 2298.99 L354.92 2298.98 L356.53 2298.98 L358.14 2298.97 L359.74 2298.96 L361.35 2298.95 L362.96 2298.94 L364.57 2298.93 L366.17 2298.91 L367.78 2298.9 L369.39 2298.88 L370.99 2298.85 L372.6 2298.83 L374.21 2298.8 L375.81 2298.77 L377.42 2298.74 L379.03 2298.7 L380.63 2298.66 L382.24 2298.62 L383.85 2298.57 L385.45 2298.51 L387.06 2298.46 L388.67 2298.4 L390.27 2298.33 L391.88 2298.26 L393.49 2298.18 L395.09 2298.1 L396.7 2298.01 L398.31 2297.92 L399.91 2297.82 L401.52 2297.72 L403.13 2297.6 L404.73 2297.49 L406.34 2297.36 L407.95 2297.23 L409.56 2297.09 L411.16 2296.94 L412.77 2296.79 L414.38 2296.62 L415.98 2296.45 L417.59 2296.27 L419.2 2296.08 L420.8 2295.88 L422.41 2295.68 L424.02 2295.46 L425.62 2295.23 L427.23 2295 L428.84 2294.75 L430.44 2294.49 L432.05 2294.23 L433.66 2293.95 L435.26 2293.66 L436.87 2293.35 L438.48 2293.04 L440.08 2292.71 L441.69 2292.38 L443.3 2292.03 L444.9 2291.66 L446.51 2291.28 L448.12 2290.89 L449.72 2290.49 L451.33 2290.07 L452.94 2289.64 L454.55 2289.19 L456.15 2288.73 L457.76 2288.26 L459.37 2287.76 L460.97 2287.26 L462.58 2286.73 L464.19 2286.19 L465.79 2285.64 L467.4 2285.06 L469.01 2284.47 L470.61 2283.87 L472.22 2283.24 L473.83 2282.6 L475.43 2281.94 L477.04 2281.26 L478.65 2280.56 L480.25 2279.84 L481.86 2279.1 L483.47 2278.34 L485.07 2277.57 L486.68 2276.77 L488.29 2275.95 L489.89 2275.11 L491.5 2274.25 L493.11 2273.37 L494.71 2272.47 L496.32 2271.54 L497.93 2270.59 L499.54 2269.62 L501.14 2268.62 L502.75 2267.61 L504.36 2266.56 L505.96 2265.5 L507.57 2264.41 L509.18 2263.29 L510.78 2262.15 L512.39 2260.98 L514 2259.79 L515.6 2258.57 L517.21 2257.33 L518.82 2256.06 L520.42 2254.76 L522.03 2253.44 L523.64 2252.08 L525.24 2250.7 L526.85 2249.29 L528.46 2247.85 L530.06 2246.39 L531.67 2244.89 L533.28 2243.36 L534.88 2241.81 L536.49 2240.22 L538.1 2238.6 L539.7 2236.95 L541.31 2235.27 L542.92 2233.56 L544.53 2231.82 L546.13 2230.04 L547.74 2228.23 L549.35 2226.39 L550.95 2224.51 L552.56 2222.6 L554.17 2220.66 L555.77 2218.68 L557.38 2216.66 L558.99 2214.62 L560.59 2212.53 L562.2 2210.41 L563.81 2208.25 L565.41 2206.06 L567.02 2203.83 L568.63 2201.56 L570.23 2199.25 L571.84 2196.91 L573.45 2194.53 L575.05 2192.11 L576.66 2189.64 L578.27 2187.14 L579.87 2184.6 L581.48 2182.02 L583.09 2179.4 L584.69 2176.74 L586.3 2174.03 L587.91 2171.29 L589.52 2168.5 L591.12 2165.67 L592.73 2162.8 L594.34 2159.88 L595.94 2156.92 L597.55 2153.91 L599.16 2150.86 L600.76 2147.77 L602.37 2144.63 L603.98 2141.44 L605.58 2138.21 L607.19 2134.94 L608.8 2131.61 L610.4 2128.24 L612.01 2124.82 L613.62 2121.35 L615.22 2117.84 L616.83 2114.27 L618.44 2110.66 L620.04 2107 L621.65 2103.29 L623.26 2099.52 L624.86 2095.71 L626.47 2091.85 L628.08 2087.93 L629.68 2083.96 L631.29 2079.94 L632.9 2075.87 L634.51 2071.75 L636.11 2067.57 L637.72 2063.34 L639.33 2059.05 L640.93 2054.71 L642.54 2050.31 L644.15 2045.86 L645.75 2041.35 L647.36 2036.79 L648.97 2032.17 L650.57 2027.49 L652.18 2022.75 L653.79 2017.96 L655.39 2013.11 L657 2008.2 L658.61 2003.23 L660.21 1998.2 L661.82 1993.12 L663.43 1987.97 L665.03 1982.76 L666.64 1977.49 L668.25 1972.16 L669.85 1966.76 L671.46 1961.31 L673.07 1955.79 L674.67 1950.2 L676.28 1944.56 L677.89 1938.85 L679.5 1933.07 L681.1 1927.24 L682.71 1921.33 L684.32 1915.36 L685.92 1909.41 L687.53 1903.49 L689.14 1897.49 L690.74 1891.43 L692.35 1885.3 L693.96 1879.09 L695.56 1872.82 L697.17 1866.47 L698.78 1860.05 L700.38 1853.56 L701.99 1846.99 L703.6 1840.36 L705.2 1833.64 L706.81 1826.86 L708.42 1820 L710.02 1813.06 L711.63 1806.05 L713.24 1798.96 L714.84 1791.8 L716.45 1784.56 L718.06 1777.24 L719.66 1769.84 L721.27 1762.37 L722.88 1754.81 L724.49 1747.18 L726.09 1739.47 L727.7 1731.68 L729.31 1723.81 L730.91 1715.85 L732.52 1707.82 L734.13 1699.7 L735.73 1691.51 L737.34 1683.23 L738.95 1674.87 L740.55 1666.42 L742.16 1657.89 L743.77 1649.28 L745.37 1640.58 L746.98 1631.8 L748.59 1622.94 L750.19 1613.99 L751.8 1604.95 L753.41 1595.83 L755.01 1586.62 L756.62 1577.32 L758.23 1567.94 L759.83 1558.47 L761.44 1548.91 L763.05 1539.27 L764.65 1529.54 L764.74 1529" fill="none" stroke="#000" stroke-width="9" stroke-linecap="round" stroke-linejoin="round" stroke-dasharray="1 13.5"/>
<path d="M337.25 2299 L338.86 2299 L340.46 2299 L342.07 2299 L343.68 2299 L345.28 2299 L346.89 2299 L348.5 2299 L350.1 2298.99 L351.71 2298.99 L353.32 2298.99 L354.92 2298.99 L356.53 2298.98 L358.14 2298.97 L359.74 2298.97 L361.35 2298.96 L362.96 2298.95 L364.57 2298.94 L366.17 2298.92 L367.78 2298.91 L369.39 2298.89 L370.99 2298.87 L372.6 2298.85 L374.21 2298.82 L375.81 2298.79 L377.42 2298.76 L379.03 2298.73 L380.63 2298.69 L382.24 2298.65 L383.85 2298.61 L385.45 2298.56 L387.06 2298.51 L388.67 2298.46 L390.27 2298.4 L391.88 2298.33 L393.49 2298.26 L395.09 2298.19 L396.7 2298.11 L398.31 2298.03 L399.91 2297.94 L401.52 2297.84 L403.13 2297.74 L404.73 2297.64 L406.34 2297.52 L407.95 2297.41 L409.56 2297.28 L411.16 2297.15 L412.77 2297.01 L414.38 2296.86 L415.98 2296.71 L417.59 2296.54 L419.2 2296.37 L420.8 2296.2 L422.41 2296.01 L424.02 2295.81 L425.62 2295.61 L427.23 2295.4 L428.84 2295.18 L430.44 2294.94 L432.05 2294.7 L433.66 2294.45 L435.26 2294.19 L436.87 2293.92 L438.48 2293.64 L440.08 2293.34 L441.69 2293.04 L443.3 2292.72 L444.9 2292.4 L446.51 2292.06 L448.12 2291.71 L449.72 2291.34 L451.33 2290.97 L452.94 2290.58 L454.55 2290.17 L456.15 2289.76 L457.76 2289.33 L459.37 2288.89 L460.97 2288.43 L462.58 2287.96 L464.19 2287.47 L465.79 2286.97 L467.4 2286.46 L469.01 2285.93 L470.61 2285.38 L472.22 2284.82 L473.83 2284.24 L475.43 2283.64 L477.04 2283.03 L478.65 2282.4 L480.25 2281.76 L481.86 2281.09 L483.47 2280.41 L485.07 2279.71 L486.68 2278.99 L488.29 2278.26 L489.89 2277.5 L491.5 2276.73 L493.11 2275.93 L494.71 2275.12 L496.32 2274.29 L497.93 2273.43 L499.54 2272.56 L501.14 2271.66 L502.75 2270.74 L504.36 2269.81 L505.96 2268.85 L507.57 2267.87 L509.18 2266.86 L510.78 2265.83 L512.39 2264.79 L514 2263.71 L515.6 2262.62 L517.21 2261.5 L518.82 2260.35 L520.42 2259.18 L522.03 2257.99 L523.64 2256.77 L525.24 2255.53 L526.85 2254.26 L528.46 2252.97 L530.06 2251.65 L531.67 2250.3 L533.28 2248.93 L534.88 2247.53 L536.49 2246.1 L538.1 2244.64 L539.7 2243.16 L541.31 2241.65 L542.92 2240.1 L544.53 2238.53 L546.13 2236.94 L547.74 2235.31 L549.35 2233.65 L550.95 2231.96 L552.56 2230.24 L554.17 2228.49 L555.77 2226.71 L557.38 2224.9 L558.99 2223.05 L560.59 2221.18 L562.2 2219.27 L563.81 2217.33 L565.41 2215.35 L567.02 2213.35 L568.63 2211.3 L570.23 2209.23 L571.84 2207.12 L573.45 2204.97 L575.05 2202.8 L576.66 2200.58 L578.27 2198.33 L579.87 2196.04 L581.48 2193.72 L583.09 2191.36 L584.69 2188.96 L586.3 2186.53 L587.91 2184.06 L589.52 2181.55 L591.12 2179 L592.73 2176.42 L594.34 2173.79 L595.94 2171.13 L597.55 2168.42 L599.16 2165.68 L600.76 2162.89 L602.37 2160.07 L603.98 2157.2 L605.58 2154.29 L607.19 2151.34 L608.8 2148.35 L610.4 2145.32 L612.01 2142.24 L613.62 2139.12 L615.22 2135.95 L616.83 2132.75 L618.44 2129.5 L620.04 2126.2 L621.65 2122.86 L623.26 2119.47 L624.86 2116.04 L626.47 2112.56 L628.08 2109.04 L629.68 2105.47 L631.29 2101.85 L632.9 2098.18 L634.51 2094.47 L636.11 2090.71 L637.72 2086.9 L639.33 2083.04 L640.93 2079.14 L642.54 2075.18 L644.15 2071.17 L645.75 2067.12 L647.36 2063.01 L648.97 2058.85 L650.57 2054.64 L652.18 2050.38 L653.79 2046.07 L655.39 2041.7 L657 2037.28 L658.61 2032.81 L660.21 2028.28 L661.82 2023.7 L663.43 2019.07 L665.03 2014.38 L666.64 2009.64 L668.25 2004.84 L669.85 1999.99 L671.46 1995.07 L673.07 1990.11 L674.67 1985.08 L676.28 1980 L677.89 1974.86 L679.5 1969.67 L681.1 1964.41 L682.71 1959.1 L684.32 1953.72 L685.92 1948.37 L687.53 1943.04 L689.14 1937.64 L690.74 1932.19 L692.35 1926.67 L693.96 1921.08 L695.56 1915.43 L697.17 1909.72 L698.78 1903.94 L700.38 1898.1 L701.99 1892.19 L703.6 1886.22 L705.2 1880.18 L706.81 1874.07 L708.42 1867.9 L710.02 1861.65 L711.63 1855.34 L713.24 1848.96 L714.84 1842.52 L716.45 1836 L718.06 1829.41 L719.66 1822.76 L721.27 1816.03 L722.88 1809.23 L724.49 1802.36 L726.09 1795.42 L727.7 1788.41 L729.31 1781.33 L730.91 1774.17 L732.52 1766.94 L734.13 1759.63 L735.73 1752.26 L737.34 1744.81 L738.95 1737.28 L740.55 1729.68 L742.16 1722 L743.77 1714.25 L745.37 1706.43 L746.98 1698.52 L748.59 1690.54 L750.19 1682.49 L751.8 1674.36 L753.41 1666.15 L755.01 1657.86 L756.62 1649.49 L758.23 1641.05 L759.83 1632.52 L761.44 1623.92 L763.05 1615.24 L764.65 1606.48 L766.26 1597.64 L767.87 1588.72 L769.48 1579.72 L771.08 1570.64 L772.69 1561.48 L774.3 1552.24 L775.9 1542.91 L777.51 1533.51 L778.27 1529" fill="none" stroke="#000" stroke-width="9" stroke-linecap="round" stroke-linejoin="round" stroke-dasharray="1 14.5"/>
<path d="M337.25 2299 L338.86 2299 L340.46 2299 L342.07 2299 L343.68 2299 L345.28 2299 L346.89 2299 L348.5 2299 L350.1 2299 L351.71 2298.99 L353.32 2298.99 L354.92 2298.99 L356.53 2298.98 L358.14 2298.98 L359.74 2298.97 L361.35 2298.96 L362.96 2298.95 L364.57 2298.94 L366.17 2298.93 L367.78 2298.92 L369.39 2298.9 L370.99 2298.88 L372.6 2298.86 L374.21 2298.84 L375.81 2298.82 L377.42 2298.79 L379.03 2298.76 L380.63 2298.73 L382.24 2298.69 L383.85 2298.65 L385.45 2298.61 L387.06 2298.57 L388.67 2298.52 L390.27 2298.46 L391.88 2298.41 L393.49 2298.35 L395.09 2298.28 L396.7 2298.21 L398.31 2298.14 L399.91 2298.06 L401.52 2297.97 L403.13 2297.88 L404.73 2297.79 L406.34 2297.69 L407.95 2297.58 L409.56 2297.47 L411.16 2297.35 L412.77 2297.23 L414.38 2297.1 L415.98 2296.96 L417.59 2296.82 L419.2 2296.67 L420.8 2296.51 L422.41 2296.34 L424.02 2296.17 L425.62 2295.99 L427.23 2295.8 L428.84 2295.6 L430.44 2295.39 L432.05 2295.18 L433.66 2294.96 L435.26 2294.72 L436.87 2294.48 L438.48 2294.23 L440.08 2293.97 L441.69 2293.7 L443.3 2293.42 L444.9 2293.13 L446.51 2292.83 L448.12 2292.52 L449.72 2292.19 L451.33 2291.86 L452.94 2291.51 L454.55 2291.16 L456.15 2290.79 L457.76 2290.4 L459.37 2290.01 L460.97 2289.6 L462.58 2289.19 L464.19 2288.75 L465.79 2288.31 L467.4 2287.85 L469.01 2287.38 L470.61 2286.89 L472.22 2286.39 L473.83 2285.88 L475.43 2285.35 L477.04 2284.81 L478.65 2284.25 L480.25 2283.67 L481.86 2283.08 L483.47 2282.48 L485.07 2281.85 L486.68 2281.22 L488.29 2280.56 L489.89 2279.89 L491.5 2279.2 L493.11 2278.5 L494.71 2277.77 L496.32 2277.03 L497.93 2276.27 L499.54 2275.49 L501.14 2274.7 L502.75 2273.88 L504.36 2273.05 L505.96 2272.2 L507.57 2271.32 L509.18 2270.43 L510.78 2269.52 L512.39 2268.59 L514 2267.63 L515.6 2266.66 L517.21 2265.66 L518.82 2264.65 L520.42 2263.61 L522.03 2262.55 L523.64 2261.47 L525.24 2260.36 L526.85 2259.23 L528.46 2258.08 L530.06 2256.91 L531.67 2255.71 L533.28 2254.49 L534.88 2253.24 L536.49 2251.98 L538.1 2250.68 L539.7 2249.36 L541.31 2248.02 L542.92 2246.65 L544.53 2245.25 L546.13 2243.83 L547.74 2242.38 L549.35 2240.91 L550.95 2239.41 L552.56 2237.88 L554.17 2236.33 L555.77 2234.74 L557.38 2233.13 L558.99 2231.49 L560.59 2229.82 L562.2 2228.13 L563.81 2226.4 L565.41 2224.65 L567.02 2222.86 L568.63 2221.05 L570.23 2219.2 L571.84 2217.33 L573.45 2215.42 L575.05 2213.48 L576.66 2211.52 L578.27 2209.52 L579.87 2207.48 L581.48 2205.42 L583.09 2203.32 L584.69 2201.19 L586.3 2199.03 L587.91 2196.83 L589.52 2194.6 L591.12 2192.34 L592.73 2190.04 L594.34 2187.7 L595.94 2185.33 L597.55 2182.93 L599.16 2180.49 L600.76 2178.01 L602.37 2175.5 L603.98 2172.96 L605.58 2170.37 L607.19 2167.75 L608.8 2165.09 L610.4 2162.39 L612.01 2159.66 L613.62 2156.88 L615.22 2154.07 L616.83 2151.22 L618.44 2148.33 L620.04 2145.4 L621.65 2142.43 L623.26 2139.42 L624.86 2136.37 L626.47 2133.28 L628.08 2130.15 L629.68 2126.97 L631.29 2123.76 L632.9 2120.5 L634.51 2117.2 L636.11 2113.85 L637.72 2110.47 L639.33 2107.04 L640.93 2103.57 L642.54 2100.05 L644.15 2096.49 L645.75 2092.88 L647.36 2089.23 L648.97 2085.53 L650.57 2081.79 L652.18 2078 L653.79 2074.17 L655.39 2070.29 L657 2066.36 L658.61 2062.39 L660.21 2058.36 L661.82 2054.29 L663.43 2050.17 L665.03 2046.01 L666.64 2041.79 L668.25 2037.52 L669.85 2033.21 L671.46 2028.84 L673.07 2024.43 L674.67 2019.96 L676.28 2015.45 L677.89 2010.88 L679.5 2006.26 L681.1 2001.59 L682.71 1996.86 L684.32 1992.09 L685.92 1987.33 L687.53 1982.59 L689.14 1977.79 L690.74 1972.94 L692.35 1968.04 L693.96 1963.07 L695.56 1958.05 L697.17 1952.97 L698.78 1947.84 L700.38 1942.65 L701.99 1937.39 L703.6 1932.08 L705.2 1926.71 L706.81 1921.29 L708.42 1915.8 L710.02 1910.25 L711.63 1904.64 L713.24 1898.97 L714.84 1893.24 L716.45 1887.44 L718.06 1881.59 L719.66 1875.67 L721.27 1869.69 L722.88 1863.65 L724.49 1857.54 L726.09 1851.38 L727.7 1845.14 L729.31 1838.84 L730.91 1832.48 L732.52 1826.06 L734.13 1819.56 L735.73 1813.01 L737.34 1806.38 L738.95 1799.69 L740.55 1792.94 L742.16 1786.11 L743.77 1779.22 L745.37 1772.27 L746.98 1765.24 L748.59 1758.15 L750.19 1750.99 L751.8 1743.76 L753.41 1736.46 L755.01 1729.1 L756.62 1721.66 L758.23 1714.15 L759.83 1706.58 L761.44 1698.93 L763.05 1691.22 L764.65 1683.43 L766.26 1675.57 L767.87 1667.64 L769.48 1659.64 L771.08 1651.57 L772.69 1643.43 L774.3 1635.21 L775.9 1626.92 L777.51 1618.56 L779.12 1610.13 L780.72 1601.62 L782.33 1593.05 L783.94 1584.39 L785.54 1575.67 L787.15 1566.87 L788.76 1557.99 L790.36 1549.05 L791.97 1540.03 L793.58 1530.93 L793.92 1529" fill="none" stroke="#000" stroke-width="8" stroke-linecap="round" stroke-linejoin="round" stroke-dasharray="6 14"/>
<path d="M337.25 2299 L338.86 2299 L340.46 2299 L342.07 2299 L343.68 2299 L345.28 2299 L346.89 2299 L348.5 2299 L350.1 2299 L351.71 2298.99 L353.32 2298.99 L354.92 2298.99 L356.53 2298.98 L358.14 2298.98 L359.74 2298.97 L361.35 2298.97 L362.96 2298.96 L364.57 2298.95 L366.17 2298.94 L367.78 2298.93 L369.39 2298.91 L370.99 2298.9 L372.6 2298.88 L374.21 2298.86 L375.81 2298.84 L377.42 2298.82 L379.03 2298.79 L380.63 2298.76 L382.24 2298.73 L383.85 2298.7 L385.45 2298.66 L387.06 2298.62 L388.67 2298.58 L390.27 2298.53 L391.88 2298.48 L393.49 2298.43 L395.09 2298.37 L396.7 2298.31 L398.31 2298.24 L399.91 2298.18 L401.52 2298.1 L403.13 2298.02 L404.73 2297.94 L406.34 2297.85 L407.95 2297.76 L409.56 2297.66 L411.16 2297.56 L412.77 2297.45 L414.38 2297.34 L415.98 2297.22 L417.59 2297.09 L419.2 2296.96 L420.8 2296.82 L422.41 2296.67 L424.02 2296.52 L425.62 2296.36 L427.23 2296.2 L428.84 2296.03 L430.44 2295.85 L432.05 2295.66 L433.66 2295.46 L435.26 2295.26 L436.87 2295.05 L438.48 2294.83 L440.08 2294.6 L441.69 2294.36 L443.3 2294.12 L444.9 2293.86 L446.51 2293.6 L448.12 2293.33 L449.72 2293.04 L451.33 2292.75 L452.94 2292.45 L454.55 2292.14 L456.15 2291.81 L457.76 2291.48 L459.37 2291.13 L460.97 2290.78 L462.58 2290.41 L464.19 2290.04 L465.79 2289.65 L467.4 2289.24 L469.01 2288.83 L470.61 2288.41 L472.22 2287.97 L473.83 2287.52 L475.43 2287.06 L477.04 2286.58 L478.65 2286.09 L480.25 2285.59 L481.86 2285.07 L483.47 2284.54 L485.07 2284 L486.68 2283.44 L488.29 2282.87 L489.89 2282.28 L491.5 2281.68 L493.11 2281.06 L494.71 2280.43 L496.32 2279.78 L497.93 2279.11 L499.54 2278.43 L501.14 2277.74 L502.75 2277.02 L504.36 2276.29 L505.96 2275.55 L507.57 2274.78 L509.18 2274 L510.78 2273.2 L512.39 2272.39 L514 2271.55 L515.6 2270.7 L517.21 2269.83 L518.82 2268.94 L520.42 2268.03 L522.03 2267.1 L523.64 2266.16 L525.24 2265.19 L526.85 2264.2 L528.46 2263.2 L530.06 2262.17 L531.67 2261.12 L533.28 2260.05 L534.88 2258.96 L536.49 2257.85 L538.1 2256.72 L539.7 2255.57 L541.31 2254.39 L542.92 2253.19 L544.53 2251.97 L546.13 2250.73 L547.74 2249.46 L549.35 2248.17 L550.95 2246.86 L552.56 2245.52 L554.17 2244.16 L555.77 2242.78 L557.38 2241.37 L558.99 2239.93 L560.59 2238.47 L562.2 2236.99 L563.81 2235.48 L565.41 2233.94 L567.02 2232.38 L568.63 2230.79 L570.23 2229.18 L571.84 2227.54 L573.45 2225.87 L575.05 2224.17 L576.66 2222.45 L578.27 2220.7 L579.87 2218.92 L581.48 2217.12 L583.09 2215.28 L584.69 2213.42 L586.3 2211.52 L587.91 2209.6 L589.52 2207.65 L591.12 2205.67 L592.73 2203.66 L594.34 2201.61 L595.94 2199.54 L597.55 2197.44 L599.16 2195.3 L600.76 2193.14 L602.37 2190.94 L603.98 2188.71 L605.58 2186.45 L607.19 2184.15 L608.8 2181.83 L610.4 2179.47 L612.01 2177.07 L613.62 2174.65 L615.22 2172.19 L616.83 2169.69 L618.44 2167.16 L620.04 2164.6 L621.65 2162 L623.26 2159.37 L624.86 2156.7 L626.47 2153.99 L628.08 2151.25 L629.68 2148.47 L631.29 2145.66 L632.9 2142.81 L634.51 2139.92 L636.11 2137 L637.72 2134.03 L639.33 2131.03 L640.93 2127.99 L642.54 2124.92 L644.15 2121.8 L645.75 2118.65 L647.36 2115.45 L648.97 2112.22 L650.57 2108.94 L652.18 2105.63 L653.79 2102.27 L655.39 2098.88 L657 2095.44 L658.61 2091.96 L660.21 2088.44 L661.82 2084.88 L663.43 2081.28 L665.03 2077.63 L666.64 2073.94 L668.25 2070.21 L669.85 2066.43 L671.46 2062.61 L673.07 2058.75 L674.67 2054.84 L676.28 2050.89 L677.89 2046.89 L679.5 2042.85 L681.1 2038.76 L682.71 2034.63 L684.32 2030.45 L685.92 2026.29 L687.53 2022.14 L689.14 2017.95 L690.74 2013.7 L692.35 2009.41 L693.96 2005.06 L695.56 2000.67 L697.17 1996.23 L698.78 1991.73 L700.38 1987.19 L701.99 1982.6 L703.6 1977.95 L705.2 1973.25 L706.81 1968.5 L708.42 1963.7 L710.02 1958.84 L711.63 1953.93 L713.24 1948.97 L714.84 1943.96 L716.45 1938.89 L718.06 1933.77 L719.66 1928.59 L721.27 1923.36 L722.88 1918.07 L724.49 1912.73 L726.09 1907.33 L727.7 1901.87 L729.31 1896.36 L730.91 1890.8 L732.52 1885.17 L734.13 1879.49 L735.73 1873.76 L737.34 1867.96 L738.95 1862.11 L740.55 1856.2 L742.16 1850.23 L743.77 1844.2 L745.37 1838.11 L746.98 1831.96 L748.59 1825.76 L750.19 1819.49 L751.8 1813.17 L753.41 1806.78 L755.01 1800.33 L756.62 1793.83 L758.23 1787.26 L759.83 1780.63 L761.44 1773.94 L763.05 1767.19 L764.65 1760.38 L766.26 1753.5 L767.87 1746.56 L769.48 1739.56 L771.08 1732.5 L772.69 1725.37 L774.3 1718.19 L775.9 1710.93 L777.51 1703.62 L779.12 1696.24 L780.72 1688.8 L782.33 1681.29 L783.94 1673.72 L785.54 1666.08 L787.15 1658.38 L788.76 1650.62 L790.36 1642.79 L791.97 1634.9 L793.58 1626.94 L795.18 1618.91 L796.79 1610.82 L798.4 1602.67 L800 1594.45 L801.61 1586.16 L803.22 1577.81 L804.82 1569.39 L806.43 1560.9 L808.04 1552.35 L809.64 1543.73 L811.25 1535.05 L812.36 1529" fill="none" stroke="#000" stroke-width="8" stroke-linecap="round" stroke-linejoin="round" stroke-dasharray="10 20 1 20"/>
<path d="M337.25 2299 L338.86 2299 L340.46 2299 L342.07 2299 L343.68 2299 L345.28 2299 L346.89 2299 L348.5 2299 L350.1 2299 L351.71 2299 L353.32 2298.99 L354.92 2298.99 L356.53 2298.99 L358.14 2298.98 L359.74 2298.98 L361.35 2298.97 L362.96 2298.97 L364.57 2298.96 L366.17 2298.95 L367.78 2298.94 L369.39 2298.93 L370.99 2298.91 L372.6 2298.9 L374.21 2298.88 L375.81 2298.86 L377.42 2298.84 L379.03 2298.82 L380.63 2298.8 L382.24 2298.77 L383.85 2298.74 L385.45 2298.71 L387.06 2298.67 L388.67 2298.64 L390.27 2298.6 L391.88 2298.56 L393.49 2298.51 L395.09 2298.46 L396.7 2298.41 L398.31 2298.35 L399.91 2298.29 L401.52 2298.23 L403.13 2298.16 L404.73 2298.09 L406.34 2298.02 L407.95 2297.94 L409.56 2297.85 L411.16 2297.76 L412.77 2297.67 L414.38 2297.57 L415.98 2297.47 L417.59 2297.36 L419.2 2297.25 L420.8 2297.13 L422.41 2297.01 L424.02 2296.88 L425.62 2296.74 L427.23 2296.6 L428.84 2296.45 L430.44 2296.3 L432.05 2296.14 L433.66 2295.97 L435.26 2295.79 L436.87 2295.61 L438.48 2295.42 L440.08 2295.23 L441.69 2295.03 L443.3 2294.82 L444.9 2294.6 L446.51 2294.37 L448.12 2294.14 L449.72 2293.89 L451.33 2293.64 L452.94 2293.38 L454.55 2293.12 L456.15 2292.84 L457.76 2292.55 L459.37 2292.26 L460.97 2291.95 L462.58 2291.64 L464.19 2291.32 L465.79 2290.98 L467.4 2290.64 L469.01 2290.28 L470.61 2289.92 L472.22 2289.54 L473.83 2289.16 L475.43 2288.76 L477.04 2288.35 L478.65 2287.93 L480.25 2287.5 L481.86 2287.06 L483.47 2286.61 L485.07 2286.14 L486.68 2285.66 L488.29 2285.17 L489.89 2284.67 L491.5 2284.15 L493.11 2283.62 L494.71 2283.08 L496.32 2282.52 L497.93 2281.95 L499.54 2281.37 L501.14 2280.77 L502.75 2280.16 L504.36 2279.54 L505.96 2278.9 L507.57 2278.24 L509.18 2277.57 L510.78 2276.89 L512.39 2276.19 L514 2275.48 L515.6 2274.74 L517.21 2274 L518.82 2273.24 L520.42 2272.46 L522.03 2271.66 L523.64 2270.85 L525.24 2270.02 L526.85 2269.17 L528.46 2268.31 L530.06 2267.43 L531.67 2266.53 L533.28 2265.62 L534.88 2264.68 L536.49 2263.73 L538.1 2262.76 L539.7 2261.77 L541.31 2260.76 L542.92 2259.74 L544.53 2258.69 L546.13 2257.62 L547.74 2256.54 L549.35 2255.43 L550.95 2254.31 L552.56 2253.16 L554.17 2251.99 L555.77 2250.81 L557.38 2249.6 L558.99 2248.37 L560.59 2247.12 L562.2 2245.85 L563.81 2244.55 L565.41 2243.24 L567.02 2241.9 L568.63 2240.54 L570.23 2239.15 L571.84 2237.75 L573.45 2236.32 L575.05 2234.86 L576.66 2233.39 L578.27 2231.89 L579.87 2230.36 L581.48 2228.81 L583.09 2227.24 L584.69 2225.64 L586.3 2224.02 L587.91 2222.37 L589.52 2220.7 L591.12 2219 L592.73 2217.28 L594.34 2215.53 L595.94 2213.75 L597.55 2211.95 L599.16 2210.12 L600.76 2208.26 L602.37 2206.38 L603.98 2204.47 L605.58 2202.53 L607.19 2200.56 L608.8 2198.57 L610.4 2196.54 L612.01 2194.49 L613.62 2192.41 L615.22 2190.3 L616.83 2188.16 L618.44 2186 L620.04 2183.8 L621.65 2181.57 L623.26 2179.31 L624.86 2177.03 L626.47 2174.71 L628.08 2172.36 L629.68 2169.98 L631.29 2167.57 L632.9 2165.12 L634.51 2162.65 L636.11 2160.14 L637.72 2157.6 L639.33 2155.03 L640.93 2152.42 L642.54 2149.79 L644.15 2147.12 L645.75 2144.41 L647.36 2141.67 L648.97 2138.9 L650.57 2136.09 L652.18 2133.25 L653.79 2130.38 L655.39 2127.47 L657 2124.52 L658.61 2121.54 L660.21 2118.52 L661.82 2115.47 L663.43 2112.38 L665.03 2109.25 L666.64 2106.09 L668.25 2102.89 L669.85 2099.66 L671.46 2096.38 L673.07 2093.07 L674.67 2089.72 L676.28 2086.34 L677.89 2082.91 L679.5 2079.44 L681.1 2075.94 L682.71 2072.4 L684.32 2068.82 L685.92 2065.25 L687.53 2061.69 L689.14 2058.1 L690.74 2054.46 L692.35 2050.78 L693.96 2047.05 L695.56 2043.29 L697.17 2039.48 L698.78 2035.63 L700.38 2031.73 L701.99 2027.8 L703.6 2023.81 L705.2 2019.79 L706.81 2015.71 L708.42 2011.6 L710.02 2007.44 L711.63 2003.23 L713.24 1998.98 L714.84 1994.68 L716.45 1990.33 L718.06 1985.94 L719.66 1981.5 L721.27 1977.02 L722.88 1972.49 L724.49 1967.91 L726.09 1963.28 L727.7 1958.61 L729.31 1953.88 L730.91 1949.11 L732.52 1944.29 L734.13 1939.42 L735.73 1934.5 L737.34 1929.54 L738.95 1924.52 L740.55 1919.45 L742.16 1914.34 L743.77 1909.17 L745.37 1903.95 L746.98 1898.68 L748.59 1893.36 L750.19 1887.99 L751.8 1882.57 L753.41 1877.1 L755.01 1871.57 L756.62 1865.99 L758.23 1860.37 L759.83 1854.68 L761.44 1848.95 L763.05 1843.16 L764.65 1837.32 L766.26 1831.43 L767.87 1825.48 L769.48 1819.48 L771.08 1813.43 L772.69 1807.32 L774.3 1801.16 L775.9 1794.94 L777.51 1788.67 L779.12 1782.35 L780.72 1775.97 L782.33 1769.53 L783.94 1763.05 L785.54 1756.5 L787.15 1749.9 L788.76 1743.25 L790.36 1736.54 L791.97 1729.77 L793.58 1722.95 L795.18 1716.07 L796.79 1709.13 L798.4 1702.14 L800 1695.1 L801.61 1687.99 L803.22 1680.83 L804.82 1673.62 L806.43 1666.35 L808.04 1659.02 L809.64 1651.63 L811.25 1644.18 L812.86 1636.68 L814.47 1629.13 L816.07 1621.51 L817.68 1613.84 L819.29 1606.11 L820.89 1598.32 L822.5 1590.47 L824.11 1582.57 L825.71 1574.61 L827.32 1566.59 L828.93 1558.51 L830.53 1550.38 L832.14 1542.19 L833.75 1533.94 L834.7 1529" fill="none" stroke="#000" stroke-width="8" stroke-linecap="round" stroke-linejoin="round" stroke-dasharray="14 23 1 23" stroke-dashoffset="20"/>
<path d="M337.25 2299 L338.86 2299 L340.46 2299 L342.07 2299 L343.68 2299 L345.28 2299 L346.89 2299 L348.5 2299 L350.1 2299 L351.71 2299 L353.32 2298.99 L354.92 2298.99 L356.53 2298.99 L358.14 2298.99 L359.74 2298.98 L361.35 2298.98 L362.96 2298.97 L364.57 2298.96 L366.17 2298.96 L367.78 2298.95 L369.39 2298.94 L370.99 2298.93 L372.6 2298.91 L374.21 2298.9 L375.81 2298.89 L377.42 2298.87 L379.03 2298.85 L380.63 2298.83 L382.24 2298.81 L383.85 2298.78 L385.45 2298.76 L387.06 2298.73 L388.67 2298.7 L390.27 2298.67 L391.88 2298.63 L393.49 2298.59 L395.09 2298.55 L396.7 2298.51 L398.31 2298.46 L399.91 2298.41 L401.52 2298.36 L403.13 2298.3 L404.73 2298.24 L406.34 2298.18 L407.95 2298.11 L409.56 2298.04 L411.16 2297.97 L412.77 2297.89 L414.38 2297.81 L415.98 2297.73 L417.59 2297.64 L419.2 2297.54 L420.8 2297.44 L422.41 2297.34 L424.02 2297.23 L425.62 2297.12 L427.23 2297 L428.84 2296.88 L430.44 2296.75 L432.05 2296.61 L433.66 2296.47 L435.26 2296.33 L436.87 2296.18 L438.48 2296.02 L440.08 2295.86 L441.69 2295.69 L443.3 2295.51 L444.9 2295.33 L446.51 2295.14 L448.12 2294.95 L449.72 2294.75 L451.33 2294.54 L452.94 2294.32 L454.55 2294.1 L456.15 2293.87 L457.76 2293.63 L459.37 2293.38 L460.97 2293.13 L462.58 2292.87 L464.19 2292.6 L465.79 2292.32 L467.4 2292.03 L469.01 2291.74 L470.61 2291.43 L472.22 2291.12 L473.83 2290.8 L475.43 2290.47 L477.04 2290.13 L478.65 2289.78 L480.25 2289.42 L481.86 2289.05 L483.47 2288.67 L485.07 2288.28 L486.68 2287.88 L488.29 2287.48 L489.89 2287.06 L491.5 2286.63 L493.11 2286.18 L494.71 2285.73 L496.32 2285.27 L497.93 2284.8 L499.54 2284.31 L501.14 2283.81 L502.75 2283.3 L504.36 2282.78 L505.96 2282.25 L507.57 2281.7 L509.18 2281.15 L510.78 2280.57 L512.39 2279.99 L514 2279.4 L515.6 2278.79 L517.21 2278.16 L518.82 2277.53 L520.42 2276.88 L522.03 2276.22 L523.64 2275.54 L525.24 2274.85 L526.85 2274.15 L528.46 2273.43 L530.06 2272.69 L531.67 2271.94 L533.28 2271.18 L534.88 2270.4 L536.49 2269.61 L538.1 2268.8 L539.7 2267.98 L541.31 2267.14 L542.92 2266.28 L544.53 2265.41 L546.13 2264.52 L547.74 2263.62 L549.35 2262.69 L550.95 2261.76 L552.56 2260.8 L554.17 2259.83 L555.77 2258.84 L557.38 2257.83 L558.99 2256.81 L560.59 2255.77 L562.2 2254.71 L563.81 2253.63 L565.41 2252.53 L567.02 2251.41 L568.63 2250.28 L570.23 2249.13 L571.84 2247.96 L573.45 2246.76 L575.05 2245.55 L576.66 2244.32 L578.27 2243.07 L579.87 2241.8 L581.48 2240.51 L583.09 2239.2 L584.69 2237.87 L586.3 2236.52 L587.91 2235.14 L589.52 2233.75 L591.12 2232.33 L592.73 2230.9 L594.34 2229.44 L595.94 2227.96 L597.55 2226.46 L599.16 2224.93 L600.76 2223.38 L602.37 2221.81 L603.98 2220.22 L605.58 2218.61 L607.19 2216.97 L608.8 2215.31 L610.4 2213.62 L612.01 2211.91 L613.62 2210.18 L615.22 2208.42 L616.83 2206.64 L618.44 2204.83 L620.04 2203 L621.65 2201.14 L623.26 2199.26 L624.86 2197.36 L626.47 2195.42 L628.08 2193.47 L629.68 2191.48 L631.29 2189.47 L632.9 2187.44 L634.51 2185.37 L636.11 2183.28 L637.72 2181.17 L639.33 2179.02 L640.93 2176.85 L642.54 2174.66 L644.15 2172.43 L645.75 2170.18 L647.36 2167.89 L648.97 2165.58 L650.57 2163.24 L652.18 2160.88 L653.79 2158.48 L655.39 2156.06 L657 2153.6 L658.61 2151.12 L660.21 2148.6 L661.82 2146.06 L663.43 2143.48 L665.03 2140.88 L666.64 2138.24 L668.25 2135.58 L669.85 2132.88 L671.46 2130.15 L673.07 2127.39 L674.67 2124.6 L676.28 2121.78 L677.89 2118.92 L679.5 2116.04 L681.1 2113.12 L682.71 2110.17 L684.32 2107.18 L685.92 2104.21 L687.53 2101.24 L689.14 2098.25 L690.74 2095.21 L692.35 2092.15 L693.96 2089.05 L695.56 2085.91 L697.17 2082.73 L698.78 2079.52 L700.38 2076.28 L701.99 2073 L703.6 2069.68 L705.2 2066.32 L706.81 2062.93 L708.42 2059.5 L710.02 2056.03 L711.63 2052.52 L713.24 2048.98 L714.84 2045.4 L716.45 2041.78 L718.06 2038.12 L719.66 2034.42 L721.27 2030.68 L722.88 2026.91 L724.49 2023.09 L726.09 2019.23 L727.7 2015.34 L729.31 2011.4 L730.91 2007.43 L732.52 2003.41 L734.13 1999.35 L735.73 1995.25 L737.34 1991.11 L738.95 1986.93 L740.55 1982.71 L742.16 1978.45 L743.77 1974.14 L745.37 1969.79 L746.98 1965.4 L748.59 1960.97 L750.19 1956.49 L751.8 1951.98 L753.41 1947.41 L755.01 1942.81 L756.62 1938.16 L758.23 1933.47 L759.83 1928.74 L761.44 1923.96 L763.05 1919.13 L764.65 1914.27 L766.26 1909.36 L767.87 1904.4 L769.48 1899.4 L771.08 1894.36 L772.69 1889.27 L774.3 1884.13 L775.9 1878.95 L777.51 1873.73 L779.12 1868.46 L780.72 1863.14 L782.33 1857.78 L783.94 1852.37 L785.54 1846.92 L787.15 1841.42 L788.76 1835.87 L790.36 1830.28 L791.97 1824.64 L793.58 1818.96 L795.18 1813.22 L796.79 1807.45 L798.4 1801.62 L800 1795.75 L801.61 1789.83 L803.22 1783.86 L804.82 1777.85 L806.43 1771.79 L808.04 1765.68 L809.64 1759.52 L811.25 1753.32 L812.86 1747.07 L814.47 1740.77 L816.07 1734.42 L817.68 1728.03 L819.29 1721.59 L820.89 1715.1 L822.5 1708.56 L824.11 1701.97 L825.71 1695.34 L827.32 1688.66 L828.93 1681.93 L830.53 1675.15 L832.14 1668.32 L833.75 1661.45 L835.35 1654.53 L836.96 1647.55 L838.57 1640.53 L840.17 1633.47 L841.78 1626.35 L843.39 1619.18 L844.99 1611.97 L846.6 1604.71 L848.21 1597.4 L849.81 1590.04 L851.42 1582.63 L853.03 1575.18 L854.63 1567.67 L856.24 1560.12 L857.85 1552.52 L859.46 1544.87 L861.06 1537.17 L862.67 1529.43 L862.76 1529" fill="none" stroke="#000" stroke-width="8" stroke-linecap="round" stroke-linejoin="round" stroke-dasharray="14 23 1 23"/>
<path d="M337.25 2299 L338.86 2299 L340.46 2299 L342.07 2299 L343.68 2299 L345.28 2299 L346.89 2299 L348.5 2299 L350.1 2299 L351.71 2299 L353.32 2299 L354.92 2298.99 L356.53 2298.99 L358.14 2298.99 L359.74 2298.99 L361.35 2298.98 L362.96 2298.98 L364.57 2298.97 L366.17 2298.97 L367.78 2298.96 L369.39 2298.95 L370.99 2298.94 L372.6 2298.93 L374.21 2298.92 L375.81 2298.91 L377.42 2298.9 L379.03 2298.88 L380.63 2298.86 L382.24 2298.85 L383.85 2298.83 L385.45 2298.81 L387.06 2298.78 L388.67 2298.76 L390.27 2298.73 L391.88 2298.7 L393.49 2298.67 L395.09 2298.64 L396.7 2298.61 L398.31 2298.57 L399.91 2298.53 L401.52 2298.49 L403.13 2298.44 L404.73 2298.39 L406.34 2298.34 L407.95 2298.29 L409.56 2298.24 L411.16 2298.18 L412.77 2298.11 L414.38 2298.05 L415.98 2297.98 L417.59 2297.91 L419.2 2297.83 L420.8 2297.75 L422.41 2297.67 L424.02 2297.58 L425.62 2297.49 L427.23 2297.4 L428.84 2297.3 L430.44 2297.2 L432.05 2297.09 L433.66 2296.98 L435.26 2296.86 L436.87 2296.74 L438.48 2296.62 L440.08 2296.49 L441.69 2296.35 L443.3 2296.21 L444.9 2296.06 L446.51 2295.91 L448.12 2295.76 L449.72 2295.6 L451.33 2295.43 L452.94 2295.26 L454.55 2295.08 L456.15 2294.89 L457.76 2294.7 L459.37 2294.51 L460.97 2294.3 L462.58 2294.09 L464.19 2293.88 L465.79 2293.65 L467.4 2293.43 L469.01 2293.19 L470.61 2292.95 L472.22 2292.7 L473.83 2292.44 L475.43 2292.17 L477.04 2291.9 L478.65 2291.62 L480.25 2291.34 L481.86 2291.04 L483.47 2290.74 L485.07 2290.43 L486.68 2290.11 L488.29 2289.78 L489.89 2289.44 L491.5 2289.1 L493.11 2288.75 L494.71 2288.39 L496.32 2288.02 L497.93 2287.64 L499.54 2287.25 L501.14 2286.85 L502.75 2286.44 L504.36 2286.03 L505.96 2285.6 L507.57 2285.16 L509.18 2284.72 L510.78 2284.26 L512.39 2283.79 L514 2283.32 L515.6 2282.83 L517.21 2282.33 L518.82 2281.82 L520.42 2281.3 L522.03 2280.77 L523.64 2280.23 L525.24 2279.68 L526.85 2279.12 L528.46 2278.54 L530.06 2277.95 L531.67 2277.36 L533.28 2276.75 L534.88 2276.12 L536.49 2275.49 L538.1 2274.84 L539.7 2274.18 L541.31 2273.51 L542.92 2272.82 L544.53 2272.13 L546.13 2271.42 L547.74 2270.69 L549.35 2269.96 L550.95 2269.2 L552.56 2268.44 L554.17 2267.66 L555.77 2266.87 L557.38 2266.07 L558.99 2265.25 L560.59 2264.41 L562.2 2263.56 L563.81 2262.7 L565.41 2261.82 L567.02 2260.93 L568.63 2260.02 L570.23 2259.1 L571.84 2258.16 L573.45 2257.21 L575.05 2256.24 L576.66 2255.26 L578.27 2254.26 L579.87 2253.24 L581.48 2252.21 L583.09 2251.16 L584.69 2250.1 L586.3 2249.01 L587.91 2247.92 L589.52 2246.8 L591.12 2245.67 L592.73 2244.52 L594.34 2243.35 L595.94 2242.17 L597.55 2240.96 L599.16 2239.75 L600.76 2238.51 L602.37 2237.25 L603.98 2235.98 L605.58 2234.69 L607.19 2233.37 L608.8 2232.04 L610.4 2230.7 L612.01 2229.33 L613.62 2227.94 L615.22 2226.54 L616.83 2225.11 L618.44 2223.66 L620.04 2222.2 L621.65 2220.71 L623.26 2219.21 L624.86 2217.68 L626.47 2216.14 L628.08 2214.57 L629.68 2212.99 L631.29 2211.38 L632.9 2209.75 L634.51 2208.1 L636.11 2206.43 L637.72 2204.73 L639.33 2203.02 L640.93 2201.28 L642.54 2199.52 L644.15 2197.74 L645.75 2195.94 L647.36 2194.11 L648.97 2192.27 L650.57 2190.4 L652.18 2188.5 L653.79 2186.58 L655.39 2184.64 L657 2182.68 L658.61 2180.69 L660.21 2178.68 L661.82 2176.65 L663.43 2174.59 L665.03 2172.5 L666.64 2170.39 L668.25 2168.26 L669.85 2166.1 L671.46 2163.92 L673.07 2161.71 L674.67 2159.48 L676.28 2157.22 L677.89 2154.94 L679.5 2152.63 L681.1 2150.29 L682.71 2147.93 L684.32 2145.54 L685.92 2143.16 L687.53 2140.79 L689.14 2138.4 L690.74 2135.97 L692.35 2133.52 L693.96 2131.04 L695.56 2128.53 L697.17 2125.99 L698.78 2123.42 L700.38 2120.82 L701.99 2118.2 L703.6 2115.54 L705.2 2112.86 L706.81 2110.14 L708.42 2107.4 L710.02 2104.62 L711.63 2101.82 L713.24 2098.98 L714.84 2096.12 L716.45 2093.22 L718.06 2090.29 L719.66 2087.34 L721.27 2084.35 L722.88 2081.33 L724.49 2078.27 L726.09 2075.19 L727.7 2072.07 L729.31 2068.92 L730.91 2065.74 L732.52 2062.53 L734.13 2059.28 L735.73 2056 L737.34 2052.69 L738.95 2049.35 L740.55 2045.97 L742.16 2042.56 L743.77 2039.11 L745.37 2035.63 L746.98 2032.12 L748.59 2028.58 L750.19 2024.99 L751.8 2021.38 L753.41 2017.73 L755.01 2014.05 L756.62 2010.33 L758.23 2006.58 L759.83 2002.79 L761.44 1998.97 L763.05 1995.11 L764.65 1991.21 L766.26 1987.29 L767.87 1983.32 L769.48 1979.32 L771.08 1975.29 L772.69 1971.21 L774.3 1967.11 L775.9 1962.96 L777.51 1958.78 L779.12 1954.57 L780.72 1950.31 L782.33 1946.02 L783.94 1941.7 L785.54 1937.33 L787.15 1932.93 L788.76 1928.5 L790.36 1924.02 L791.97 1919.51 L793.58 1914.96 L795.18 1910.38 L796.79 1905.76 L798.4 1901.1 L800 1896.4 L801.61 1891.66 L803.22 1886.89 L804.82 1882.08 L806.43 1877.23 L808.04 1872.34 L809.64 1867.42 L811.25 1862.46 L812.86 1857.46 L814.47 1852.42 L816.07 1847.34 L817.68 1842.22 L819.29 1837.07 L820.89 1831.88 L822.5 1826.65 L824.11 1821.38 L825.71 1816.07 L827.32 1810.73 L828.93 1805.34 L830.53 1799.92 L832.14 1794.46 L833.75 1788.96 L835.35 1783.42 L836.96 1777.84 L838.57 1772.23 L840.17 1766.57 L841.78 1760.88 L843.39 1755.15 L844.99 1749.38 L846.6 1743.57 L848.21 1737.72 L849.81 1731.83 L851.42 1725.91 L853.03 1719.94 L854.63 1713.94 L856.24 1707.9 L857.85 1701.82 L859.46 1695.7 L861.06 1689.54 L862.67 1683.34 L864.28 1677.11 L865.88 1670.84 L867.49 1664.52 L869.1 1658.17 L870.7 1651.78 L872.31 1645.36 L873.92 1638.89 L875.52 1632.39 L877.13 1625.84 L878.74 1619.26 L880.34 1612.65 L881.95 1605.99 L883.56 1599.29 L885.16 1592.56 L886.77 1585.79 L888.38 1578.98 L889.98 1572.13 L891.59 1565.25 L893.2 1558.33 L894.8 1551.37 L896.41 1544.37 L898.02 1537.34 L899.62 1530.26 L899.91 1529" fill="none" stroke="#000" stroke-width="8" stroke-linecap="round" stroke-linejoin="round" stroke-dasharray="64 56" stroke-dashoffset="30"/>
<path d="M337.25 2299 L338.86 2299 L340.46 2299 L342.07 2299 L343.68 2299 L345.28 2299 L346.89 2299 L348.5 2299 L350.1 2299 L351.71 2299 L353.32 2299 L354.92 2299 L356.53 2298.99 L358.14 2298.99 L359.74 2298.99 L361.35 2298.99 L362.96 2298.98 L364.57 2298.98 L366.17 2298.97 L367.78 2298.97 L369.39 2298.96 L370.99 2298.96 L372.6 2298.95 L374.21 2298.94 L375.81 2298.93 L377.42 2298.92 L379.03 2298.91 L380.63 2298.9 L382.24 2298.88 L383.85 2298.87 L385.45 2298.85 L387.06 2298.84 L388.67 2298.82 L390.27 2298.8 L391.88 2298.78 L393.49 2298.75 L395.09 2298.73 L396.7 2298.7 L398.31 2298.68 L399.91 2298.65 L401.52 2298.61 L403.13 2298.58 L404.73 2298.55 L406.34 2298.51 L407.95 2298.47 L409.56 2298.43 L411.16 2298.38 L412.77 2298.34 L414.38 2298.29 L415.98 2298.24 L417.59 2298.18 L419.2 2298.12 L420.8 2298.07 L422.41 2298 L424.02 2297.94 L425.62 2297.87 L427.23 2297.8 L428.84 2297.73 L430.44 2297.65 L432.05 2297.57 L433.66 2297.48 L435.26 2297.4 L436.87 2297.31 L438.48 2297.21 L440.08 2297.11 L441.69 2297.01 L443.3 2296.91 L444.9 2296.8 L446.51 2296.69 L448.12 2296.57 L449.72 2296.45 L451.33 2296.32 L452.94 2296.19 L454.55 2296.06 L456.15 2295.92 L457.76 2295.78 L459.37 2295.63 L460.97 2295.48 L462.58 2295.32 L464.19 2295.16 L465.79 2294.99 L467.4 2294.82 L469.01 2294.64 L470.61 2294.46 L472.22 2294.27 L473.83 2294.08 L475.43 2293.88 L477.04 2293.68 L478.65 2293.47 L480.25 2293.25 L481.86 2293.03 L483.47 2292.8 L485.07 2292.57 L486.68 2292.33 L488.29 2292.09 L489.89 2291.83 L491.5 2291.58 L493.11 2291.31 L494.71 2291.04 L496.32 2290.76 L497.93 2290.48 L499.54 2290.19 L501.14 2289.89 L502.75 2289.58 L504.36 2289.27 L505.96 2288.95 L507.57 2288.62 L509.18 2288.29 L510.78 2287.94 L512.39 2287.6 L514 2287.24 L515.6 2286.87 L517.21 2286.5 L518.82 2286.12 L520.42 2285.73 L522.03 2285.33 L523.64 2284.92 L525.24 2284.51 L526.85 2284.09 L528.46 2283.66 L530.06 2283.22 L531.67 2282.77 L533.28 2282.31 L534.88 2281.84 L536.49 2281.37 L538.1 2280.88 L539.7 2280.39 L541.31 2279.88 L542.92 2279.37 L544.53 2278.84 L546.13 2278.31 L547.74 2277.77 L549.35 2277.22 L550.95 2276.65 L552.56 2276.08 L554.17 2275.5 L555.77 2274.9 L557.38 2274.3 L558.99 2273.68 L560.59 2273.06 L562.2 2272.42 L563.81 2271.78 L565.41 2271.12 L567.02 2270.45 L568.63 2269.77 L570.23 2269.08 L571.84 2268.37 L573.45 2267.66 L575.05 2266.93 L576.66 2266.19 L578.27 2265.44 L579.87 2264.68 L581.48 2263.91 L583.09 2263.12 L584.69 2262.32 L586.3 2261.51 L587.91 2260.69 L589.52 2259.85 L591.12 2259 L592.73 2258.14 L594.34 2257.26 L595.94 2256.38 L597.55 2255.47 L599.16 2254.56 L600.76 2253.63 L602.37 2252.69 L603.98 2251.73 L605.58 2250.76 L607.19 2249.78 L608.8 2248.78 L610.4 2247.77 L612.01 2246.75 L613.62 2245.71 L615.22 2244.65 L616.83 2243.58 L618.44 2242.5 L620.04 2241.4 L621.65 2240.29 L623.26 2239.16 L624.86 2238.01 L626.47 2236.85 L628.08 2235.68 L629.68 2234.49 L631.29 2233.28 L632.9 2232.06 L634.51 2230.82 L636.11 2229.57 L637.72 2228.3 L639.33 2227.01 L640.93 2225.71 L642.54 2224.39 L644.15 2223.06 L645.75 2221.71 L647.36 2220.34 L648.97 2218.95 L650.57 2217.55 L652.18 2216.13 L653.79 2214.69 L655.39 2213.23 L657 2211.76 L658.61 2210.27 L660.21 2208.76 L661.82 2207.23 L663.43 2205.69 L665.03 2204.13 L666.64 2202.55 L668.25 2200.95 L669.85 2199.33 L671.46 2197.69 L673.07 2196.04 L674.67 2194.36 L676.28 2192.67 L677.89 2190.95 L679.5 2189.22 L681.1 2187.47 L682.71 2185.7 L684.32 2183.91 L685.92 2182.12 L687.53 2180.35 L689.14 2178.55 L690.74 2176.73 L692.35 2174.89 L693.96 2173.03 L695.56 2171.14 L697.17 2169.24 L698.78 2167.31 L700.38 2165.37 L701.99 2163.4 L703.6 2161.41 L705.2 2159.39 L706.81 2157.36 L708.42 2155.3 L710.02 2153.22 L711.63 2151.11 L713.24 2148.99 L714.84 2146.84 L716.45 2144.67 L718.06 2142.47 L719.66 2140.25 L721.27 2138.01 L722.88 2135.74 L724.49 2133.45 L726.09 2131.14 L727.7 2128.8 L729.31 2126.44 L730.91 2124.06 L732.52 2121.65 L734.13 2119.21 L735.73 2116.75 L737.34 2114.27 L738.95 2111.76 L740.55 2109.23 L742.16 2106.67 L743.77 2104.08 L745.37 2101.48 L746.98 2098.84 L748.59 2096.18 L750.19 2093.5 L751.8 2090.79 L753.41 2088.05 L755.01 2085.29 L756.62 2082.5 L758.23 2079.68 L759.83 2076.84 L761.44 2073.97 L763.05 2071.08 L764.65 2068.16 L766.26 2065.21 L767.87 2062.24 L769.48 2059.24 L771.08 2056.21 L772.69 2053.16 L774.3 2050.08 L775.9 2046.97 L777.51 2043.84 L779.12 2040.67 L780.72 2037.48 L782.33 2034.27 L783.94 2031.02 L785.54 2027.75 L787.15 2024.45 L788.76 2021.12 L790.36 2017.77 L791.97 2014.38 L793.58 2010.97 L795.18 2007.53 L796.79 2004.07 L798.4 2000.57 L800 1997.05 L801.61 1993.5 L803.22 1989.92 L804.82 1986.31 L806.43 1982.67 L808.04 1979.01 L809.64 1975.31 L811.25 1971.59 L812.86 1967.84 L814.47 1964.06 L816.07 1960.25 L817.68 1956.42 L819.29 1952.55 L820.89 1948.66 L822.5 1944.74 L824.11 1940.78 L825.71 1936.8 L827.32 1932.8 L828.93 1928.76 L830.53 1924.69 L832.14 1920.59 L833.75 1916.47 L835.35 1912.32 L836.96 1908.13 L838.57 1903.92 L840.17 1899.68 L841.78 1895.41 L843.39 1891.11 L844.99 1886.78 L846.6 1882.42 L848.21 1878.04 L849.81 1873.62 L851.42 1869.18 L853.03 1864.71 L854.63 1860.2 L856.24 1855.67 L857.85 1851.11 L859.46 1846.52 L861.06 1841.9 L862.67 1837.26 L864.28 1832.58 L865.88 1827.88 L867.49 1823.14 L869.1 1818.38 L870.7 1813.59 L872.31 1808.77 L873.92 1803.92 L875.52 1799.04 L877.13 1794.13 L878.74 1789.2 L880.34 1784.23 L881.95 1779.24 L883.56 1774.22 L885.16 1769.17 L886.77 1764.09 L888.38 1758.99 L889.98 1753.85 L891.59 1748.69 L893.2 1743.5 L894.8 1738.28 L896.41 1733.03 L898.02 1727.75 L899.62 1722.45 L901.23 1717.12 L902.84 1711.76 L904.45 1706.37 L906.05 1700.95 L907.66 1695.51 L909.27 1690.04 L910.87 1684.54 L912.48 1679.01 L914.09 1673.46 L915.69 1667.88 L917.3 1662.27 L918.91 1656.64 L920.51 1650.97 L922.12 1645.29 L923.73 1639.57 L925.33 1633.83 L926.94 1628.06 L928.55 1622.26 L930.15 1616.44 L931.76 1610.59 L933.37 1604.71 L934.97 1598.81 L936.58 1592.88 L938.19 1586.93 L939.79 1580.95 L941.4 1574.94 L943.01 1568.91 L944.61 1562.85 L946.22 1556.77 L947.83 1550.66 L949.44 1544.53 L951.04 1538.37 L952.65 1532.19 L953.47 1529" fill="none" stroke="#000" stroke-width="8" stroke-linecap="round" stroke-linejoin="round" stroke-dasharray="9 21"/>
<path d="M337.25 2299 L338.86 2299 L340.46 2299 L342.07 2299 L343.68 2299 L345.28 2299 L346.89 2299 L348.5 2299 L350.1 2299 L351.71 2299 L353.32 2299 L354.92 2299 L356.53 2299 L358.14 2298.99 L359.74 2298.99 L361.35 2298.99 L362.96 2298.99 L364.57 2298.99 L366.17 2298.98 L367.78 2298.98 L369.39 2298.98 L370.99 2298.97 L372.6 2298.97 L374.21 2298.96 L375.81 2298.95 L377.42 2298.95 L379.03 2298.94 L380.63 2298.93 L382.24 2298.92 L383.85 2298.91 L385.45 2298.9 L387.06 2298.89 L388.67 2298.88 L390.27 2298.87 L391.88 2298.85 L393.49 2298.84 L395.09 2298.82 L396.7 2298.8 L398.31 2298.78 L399.91 2298.76 L401.52 2298.74 L403.13 2298.72 L404.73 2298.7 L406.34 2298.67 L407.95 2298.65 L409.56 2298.62 L411.16 2298.59 L412.77 2298.56 L414.38 2298.52 L415.98 2298.49 L417.59 2298.45 L419.2 2298.42 L420.8 2298.38 L422.41 2298.34 L424.02 2298.29 L425.62 2298.25 L427.23 2298.2 L428.84 2298.15 L430.44 2298.1 L432.05 2298.05 L433.66 2297.99 L435.26 2297.93 L436.87 2297.87 L438.48 2297.81 L440.08 2297.74 L441.69 2297.68 L443.3 2297.61 L444.9 2297.53 L446.51 2297.46 L448.12 2297.38 L449.72 2297.3 L451.33 2297.21 L452.94 2297.13 L454.55 2297.04 L456.15 2296.95 L457.76 2296.85 L459.37 2296.75 L460.97 2296.65 L462.58 2296.55 L464.19 2296.44 L465.79 2296.33 L467.4 2296.21 L469.01 2296.09 L470.61 2295.97 L472.22 2295.85 L473.83 2295.72 L475.43 2295.59 L477.04 2295.45 L478.65 2295.31 L480.25 2295.17 L481.86 2295.02 L483.47 2294.87 L485.07 2294.71 L486.68 2294.55 L488.29 2294.39 L489.89 2294.22 L491.5 2294.05 L493.11 2293.87 L494.71 2293.69 L496.32 2293.51 L497.93 2293.32 L499.54 2293.12 L501.14 2292.92 L502.75 2292.72 L504.36 2292.51 L505.96 2292.3 L507.57 2292.08 L509.18 2291.86 L510.78 2291.63 L512.39 2291.4 L514 2291.16 L515.6 2290.91 L517.21 2290.67 L518.82 2290.41 L520.42 2290.15 L522.03 2289.89 L523.64 2289.62 L525.24 2289.34 L526.85 2289.06 L528.46 2288.77 L530.06 2288.48 L531.67 2288.18 L533.28 2287.87 L534.88 2287.56 L536.49 2287.24 L538.1 2286.92 L539.7 2286.59 L541.31 2286.25 L542.92 2285.91 L544.53 2285.56 L546.13 2285.21 L547.74 2284.85 L549.35 2284.48 L550.95 2284.1 L552.56 2283.72 L554.17 2283.33 L555.77 2282.94 L557.38 2282.53 L558.99 2282.12 L560.59 2281.71 L562.2 2281.28 L563.81 2280.85 L565.41 2280.41 L567.02 2279.97 L568.63 2279.51 L570.23 2279.05 L571.84 2278.58 L573.45 2278.11 L575.05 2277.62 L576.66 2277.13 L578.27 2276.63 L579.87 2276.12 L581.48 2275.6 L583.09 2275.08 L584.69 2274.55 L586.3 2274.01 L587.91 2273.46 L589.52 2272.9 L591.12 2272.33 L592.73 2271.76 L594.34 2271.18 L595.94 2270.58 L597.55 2269.98 L599.16 2269.37 L600.76 2268.75 L602.37 2268.13 L603.98 2267.49 L605.58 2266.84 L607.19 2266.19 L608.8 2265.52 L610.4 2264.85 L612.01 2264.16 L613.62 2263.47 L615.22 2262.77 L616.83 2262.05 L618.44 2261.33 L620.04 2260.6 L621.65 2259.86 L623.26 2259.1 L624.86 2258.34 L626.47 2257.57 L628.08 2256.79 L629.68 2255.99 L631.29 2255.19 L632.9 2254.37 L634.51 2253.55 L636.11 2252.71 L637.72 2251.87 L639.33 2251.01 L640.93 2250.14 L642.54 2249.26 L644.15 2248.37 L645.75 2247.47 L647.36 2246.56 L648.97 2245.63 L650.57 2244.7 L652.18 2243.75 L653.79 2242.79 L655.39 2241.82 L657 2240.84 L658.61 2239.85 L660.21 2238.84 L661.82 2237.82 L663.43 2236.79 L665.03 2235.75 L666.64 2234.7 L668.25 2233.63 L669.85 2232.55 L671.46 2231.46 L673.07 2230.36 L674.67 2229.24 L676.28 2228.11 L677.89 2226.97 L679.5 2225.81 L681.1 2224.65 L682.71 2223.47 L684.32 2222.27 L685.92 2221.08 L687.53 2219.9 L689.14 2218.7 L690.74 2217.49 L692.35 2216.26 L693.96 2215.02 L695.56 2213.76 L697.17 2212.49 L698.78 2211.21 L700.38 2209.91 L701.99 2208.6 L703.6 2207.27 L705.2 2205.93 L706.81 2204.57 L708.42 2203.2 L710.02 2201.81 L711.63 2200.41 L713.24 2198.99 L714.84 2197.56 L716.45 2196.11 L718.06 2194.65 L719.66 2193.17 L721.27 2191.67 L722.88 2190.16 L724.49 2188.64 L726.09 2187.09 L727.7 2185.54 L729.31 2183.96 L730.91 2182.37 L732.52 2180.76 L734.13 2179.14 L735.73 2177.5 L737.34 2175.85 L738.95 2174.17 L740.55 2172.48 L742.16 2170.78 L743.77 2169.06 L745.37 2167.32 L746.98 2165.56 L748.59 2163.79 L750.19 2162 L751.8 2160.19 L753.41 2158.37 L755.01 2156.52 L756.62 2154.66 L758.23 2152.79 L759.83 2150.89 L761.44 2148.98 L763.05 2147.05 L764.65 2145.11 L766.26 2143.14 L767.87 2141.16 L769.48 2139.16 L771.08 2137.14 L772.69 2135.11 L774.3 2133.05 L775.9 2130.98 L777.51 2128.89 L779.12 2126.78 L780.72 2124.66 L782.33 2122.51 L783.94 2120.35 L785.54 2118.17 L787.15 2115.97 L788.76 2113.75 L790.36 2111.51 L791.97 2109.26 L793.58 2106.98 L795.18 2104.69 L796.79 2102.38 L798.4 2100.05 L800 2097.7 L801.61 2095.33 L803.22 2092.94 L804.82 2090.54 L806.43 2088.12 L808.04 2085.67 L809.64 2083.21 L811.25 2080.73 L812.86 2078.23 L814.47 2075.71 L816.07 2073.17 L817.68 2070.61 L819.29 2068.04 L820.89 2065.44 L822.5 2062.82 L824.11 2060.19 L825.71 2057.54 L827.32 2054.86 L828.93 2052.17 L830.53 2049.46 L832.14 2046.73 L833.75 2043.98 L835.35 2041.21 L836.96 2038.42 L838.57 2035.61 L840.17 2032.79 L841.78 2029.94 L843.39 2027.07 L844.99 2024.19 L846.6 2021.28 L848.21 2018.36 L849.81 2015.42 L851.42 2012.45 L853.03 2009.47 L854.63 2006.47 L856.24 2003.45 L857.85 2000.41 L859.46 1997.35 L861.06 1994.27 L862.67 1991.17 L864.28 1988.05 L865.88 1984.92 L867.49 1981.76 L869.1 1978.59 L870.7 1975.39 L872.31 1972.18 L873.92 1968.95 L875.52 1965.69 L877.13 1962.42 L878.74 1959.13 L880.34 1955.82 L881.95 1952.49 L883.56 1949.15 L885.16 1945.78 L886.77 1942.39 L888.38 1938.99 L889.98 1935.57 L891.59 1932.12 L893.2 1928.66 L894.8 1925.18 L896.41 1921.69 L898.02 1918.17 L899.62 1914.63 L901.23 1911.08 L902.84 1907.5 L904.45 1903.91 L906.05 1900.3 L907.66 1896.67 L909.27 1893.03 L910.87 1889.36 L912.48 1885.68 L914.09 1881.97 L915.69 1878.25 L917.3 1874.51 L918.91 1870.76 L920.51 1866.98 L922.12 1863.19 L923.73 1859.38 L925.33 1855.55 L926.94 1851.7 L928.55 1847.84 L930.15 1843.96 L931.76 1840.06 L933.37 1836.14 L934.97 1832.21 L936.58 1828.25 L938.19 1824.29 L939.79 1820.3 L941.4 1816.29 L943.01 1812.27 L944.61 1808.24 L946.22 1804.18 L947.83 1800.11 L949.44 1796.02 L951.04 1791.91 L952.65 1787.79 L954.26 1783.65 L955.86 1779.5 L957.47 1775.32 L959.08 1771.13 L960.68 1766.93 L962.29 1762.71 L963.9 1758.47 L965.5 1754.22 L967.11 1749.95 L968.72 1745.66 L970.32 1741.36 L971.93 1737.04 L973.54 1732.71 L975.14 1728.36 L976.75 1724 L978.36 1719.62 L979.96 1715.22 L981.57 1710.81 L983.18 1706.39 L984.78 1701.95 L986.39 1697.49 L988 1693.02 L989.6 1688.54 L991.21 1684.04 L992.82 1679.52 L994.43 1674.99 L996.03 1670.45 L997.64 1665.89 L999.25 1661.32 L1000.85 1656.73 L1002.46 1652.13 L1004.07 1647.52 L1005.67 1642.89 L1007.28 1638.25 L1008.89 1633.59 L1010.49 1628.92 L1012.1 1624.24 L1013.71 1619.54 L1015.31 1614.83 L1016.92 1610.11 L1018.53 1605.37 L1020.13 1600.62 L1021.74 1595.86 L1023.35 1591.09 L1024.95 1586.3 L1026.56 1581.5 L1028.17 1576.69 L1029.77 1571.86 L1031.38 1567.02 L1032.99 1562.17 L1034.59 1557.31 L1036.2 1552.44 L1037.81 1547.55 L1039.42 1542.65 L1041.02 1537.74 L1042.63 1532.82 L1043.87 1529" fill="none" stroke="#000" stroke-width="8" stroke-linecap="round" stroke-linejoin="round" stroke-dasharray="25 32"/>
<path d="M337.25 2299 L338.86 2299 L340.46 2299 L342.07 2299 L343.68 2299 L345.28 2299 L346.89 2299 L348.5 2299 L350.1 2299 L351.71 2299 L353.32 2299 L354.92 2299 L356.53 2299 L358.14 2299 L359.74 2299 L361.35 2299 L362.96 2298.99 L364.57 2298.99 L366.17 2298.99 L367.78 2298.99 L369.39 2298.99 L370.99 2298.99 L372.6 2298.98 L374.21 2298.98 L375.81 2298.98 L377.42 2298.97 L379.03 2298.97 L380.63 2298.97 L382.24 2298.96 L383.85 2298.96 L385.45 2298.95 L387.06 2298.95 L388.67 2298.94 L390.27 2298.93 L391.88 2298.93 L393.49 2298.92 L395.09 2298.91 L396.7 2298.9 L398.31 2298.89 L399.91 2298.88 L401.52 2298.87 L403.13 2298.86 L404.73 2298.85 L406.34 2298.84 L407.95 2298.82 L409.56 2298.81 L411.16 2298.79 L412.77 2298.78 L414.38 2298.76 L415.98 2298.75 L417.59 2298.73 L419.2 2298.71 L420.8 2298.69 L422.41 2298.67 L424.02 2298.65 L425.62 2298.62 L427.23 2298.6 L428.84 2298.58 L430.44 2298.55 L432.05 2298.52 L433.66 2298.49 L435.26 2298.47 L436.87 2298.44 L438.48 2298.4 L440.08 2298.37 L441.69 2298.34 L443.3 2298.3 L444.9 2298.27 L446.51 2298.23 L448.12 2298.19 L449.72 2298.15 L451.33 2298.11 L452.94 2298.06 L454.55 2298.02 L456.15 2297.97 L457.76 2297.93 L459.37 2297.88 L460.97 2297.83 L462.58 2297.77 L464.19 2297.72 L465.79 2297.66 L467.4 2297.61 L469.01 2297.55 L470.61 2297.49 L472.22 2297.42 L473.83 2297.36 L475.43 2297.29 L477.04 2297.23 L478.65 2297.16 L480.25 2297.08 L481.86 2297.01 L483.47 2296.93 L485.07 2296.86 L486.68 2296.78 L488.29 2296.7 L489.89 2296.61 L491.5 2296.53 L493.11 2296.44 L494.71 2296.35 L496.32 2296.25 L497.93 2296.16 L499.54 2296.06 L501.14 2295.96 L502.75 2295.86 L504.36 2295.76 L505.96 2295.65 L507.57 2295.54 L509.18 2295.43 L510.78 2295.31 L512.39 2295.2 L514 2295.08 L515.6 2294.96 L517.21 2294.83 L518.82 2294.71 L520.42 2294.58 L522.03 2294.44 L523.64 2294.31 L525.24 2294.17 L526.85 2294.03 L528.46 2293.89 L530.06 2293.74 L531.67 2293.59 L533.28 2293.44 L534.88 2293.28 L536.49 2293.12 L538.1 2292.96 L539.7 2292.8 L541.31 2292.63 L542.92 2292.46 L544.53 2292.28 L546.13 2292.1 L547.74 2291.92 L549.35 2291.74 L550.95 2291.55 L552.56 2291.36 L554.17 2291.17 L555.77 2290.97 L557.38 2290.77 L558.99 2290.56 L560.59 2290.35 L562.2 2290.14 L563.81 2289.93 L565.41 2289.71 L567.02 2289.48 L568.63 2289.26 L570.23 2289.03 L571.84 2288.79 L573.45 2288.55 L575.05 2288.31 L576.66 2288.06 L578.27 2287.81 L579.87 2287.56 L581.48 2287.3 L583.09 2287.04 L584.69 2286.77 L586.3 2286.5 L587.91 2286.23 L589.52 2285.95 L591.12 2285.67 L592.73 2285.38 L594.34 2285.09 L595.94 2284.79 L597.55 2284.49 L599.16 2284.19 L600.76 2283.88 L602.37 2283.56 L603.98 2283.24 L605.58 2282.92 L607.19 2282.59 L608.8 2282.26 L610.4 2281.92 L612.01 2281.58 L613.62 2281.24 L615.22 2280.88 L616.83 2280.53 L618.44 2280.17 L620.04 2279.8 L621.65 2279.43 L623.26 2279.05 L624.86 2278.67 L626.47 2278.28 L628.08 2277.89 L629.68 2277.5 L631.29 2277.09 L632.9 2276.69 L634.51 2276.27 L636.11 2275.86 L637.72 2275.43 L639.33 2275 L640.93 2274.57 L642.54 2274.13 L644.15 2273.69 L645.75 2273.24 L647.36 2272.78 L648.97 2272.32 L650.57 2271.85 L652.18 2271.38 L653.79 2270.9 L655.39 2270.41 L657 2269.92 L658.61 2269.42 L660.21 2268.92 L661.82 2268.41 L663.43 2267.9 L665.03 2267.38 L666.64 2266.85 L668.25 2266.32 L669.85 2265.78 L671.46 2265.23 L673.07 2264.68 L674.67 2264.12 L676.28 2263.56 L677.89 2262.98 L679.5 2262.41 L681.1 2261.82 L682.71 2261.23 L684.32 2260.64 L685.92 2260.04 L687.53 2259.45 L689.14 2258.85 L690.74 2258.24 L692.35 2257.63 L693.96 2257.01 L695.56 2256.38 L697.17 2255.75 L698.78 2255.1 L700.38 2254.46 L701.99 2253.8 L703.6 2253.14 L705.2 2252.46 L706.81 2251.79 L708.42 2251.1 L710.02 2250.41 L711.63 2249.7 L713.24 2249 L714.84 2248.28 L716.45 2247.56 L718.06 2246.82 L719.66 2246.08 L721.27 2245.34 L722.88 2244.58 L724.49 2243.82 L726.09 2243.05 L727.7 2242.27 L729.31 2241.48 L730.91 2240.69 L732.52 2239.88 L734.13 2239.07 L735.73 2238.25 L737.34 2237.42 L738.95 2236.59 L740.55 2235.74 L742.16 2234.89 L743.77 2234.03 L745.37 2233.16 L746.98 2232.28 L748.59 2231.39 L750.19 2230.5 L751.8 2229.6 L753.41 2228.68 L755.01 2227.76 L756.62 2226.83 L758.23 2225.89 L759.83 2224.95 L761.44 2223.99 L763.05 2223.03 L764.65 2222.05 L766.26 2221.07 L767.87 2220.08 L769.48 2219.08 L771.08 2218.07 L772.69 2217.05 L774.3 2216.03 L775.9 2214.99 L777.51 2213.95 L779.12 2212.89 L780.72 2211.83 L782.33 2210.76 L783.94 2209.67 L785.54 2208.58 L787.15 2207.48 L788.76 2206.37 L790.36 2205.26 L791.97 2204.13 L793.58 2202.99 L795.18 2201.84 L796.79 2200.69 L798.4 2199.52 L800 2198.35 L801.61 2197.17 L803.22 2195.97 L804.82 2194.77 L806.43 2193.56 L808.04 2192.34 L809.64 2191.1 L811.25 2189.86 L812.86 2188.61 L814.47 2187.35 L816.07 2186.08 L817.68 2184.81 L819.29 2183.52 L820.89 2182.22 L822.5 2180.91 L824.11 2179.59 L825.71 2178.27 L827.32 2176.93 L828.93 2175.59 L830.53 2174.23 L832.14 2172.86 L833.75 2171.49 L835.35 2170.11 L836.96 2168.71 L838.57 2167.31 L840.17 2165.89 L841.78 2164.47 L843.39 2163.04 L844.99 2161.59 L846.6 2160.14 L848.21 2158.68 L849.81 2157.21 L851.42 2155.73 L853.03 2154.24 L854.63 2152.73 L856.24 2151.22 L857.85 2149.7 L859.46 2148.17 L861.06 2146.63 L862.67 2145.09 L864.28 2143.53 L865.88 2141.96 L867.49 2140.38 L869.1 2138.79 L870.7 2137.2 L872.31 2135.59 L873.92 2133.97 L875.52 2132.35 L877.13 2130.71 L878.74 2129.07 L880.34 2127.41 L881.95 2125.75 L883.56 2124.07 L885.16 2122.39 L886.77 2120.7 L888.38 2119 L889.98 2117.28 L891.59 2115.56 L893.2 2113.83 L894.8 2112.09 L896.41 2110.34 L898.02 2108.58 L899.62 2106.82 L901.23 2105.04 L902.84 2103.25 L904.45 2101.46 L906.05 2099.65 L907.66 2097.84 L909.27 2096.01 L910.87 2094.18 L912.48 2092.34 L914.09 2090.49 L915.69 2088.63 L917.3 2086.76 L918.91 2084.88 L920.51 2082.99 L922.12 2081.1 L923.73 2079.19 L925.33 2077.28 L926.94 2075.35 L928.55 2073.42 L930.15 2071.48 L931.76 2069.53 L933.37 2067.57 L934.97 2065.6 L936.58 2063.63 L938.19 2061.64 L939.79 2059.65 L941.4 2057.65 L943.01 2055.64 L944.61 2053.62 L946.22 2051.59 L947.83 2049.55 L949.44 2047.51 L951.04 2045.46 L952.65 2043.4 L954.26 2041.33 L955.86 2039.25 L957.47 2037.16 L959.08 2035.07 L960.68 2032.96 L962.29 2030.85 L963.9 2028.74 L965.5 2026.61 L967.11 2024.47 L968.72 2022.33 L970.32 2020.18 L971.93 2018.02 L973.54 2015.85 L975.14 2013.68 L976.75 2011.5 L978.36 2009.31 L979.96 2007.11 L981.57 2004.91 L983.18 2002.69 L984.78 2000.47 L986.39 1998.25 L988 1996.01 L989.6 1993.77 L991.21 1991.52 L992.82 1989.26 L994.43 1987 L996.03 1984.72 L997.64 1982.45 L999.25 1980.16 L1000.85 1977.87 L1002.46 1975.57 L1004.07 1973.26 L1005.67 1970.94 L1007.28 1968.62 L1008.89 1966.3 L1010.49 1963.96 L1012.1 1961.62 L1013.71 1959.27 L1015.31 1956.92 L1016.92 1954.56 L1018.53 1952.19 L1020.13 1949.81 L1021.74 1947.43 L1023.35 1945.04 L1024.95 1942.65 L1026.56 1940.25 L1028.17 1937.84 L1029.77 1935.43 L1031.38 1933.01 L1032.99 1930.59 L1034.59 1928.16 L1036.2 1925.72 L1037.81 1923.27 L1039.42 1920.83 L1041.02 1918.37 L1042.63 1915.91 L1044.24 1913.44 L1045.84 1910.97 L1047.45 1908.49 L1049.06 1906.01 L1050.66 1903.52 L1052.27 1901.02 L1053.88 1898.52 L1055.48 1896.02 L1057.09 1893.5 L1058.7 1890.99 L1060.3 1888.47 L1061.91 1885.94 L1063.52 1883.4 L1065.12 1880.87 L1066.73 1878.32 L1068.34 1875.77 L1069.94 1873.22 L1071.55 1870.66 L1073.16 1868.1 L1074.76 1865.53 L1076.37 1862.96 L1077.98 1860.38 L1079.58 1857.8 L1081.19 1855.21 L1082.8 1852.61 L1084.41 1850.02 L1086.01 1847.42 L1087.62 1844.81 L1089.23 1842.2 L1090.83 1839.58 L1092.44 1836.96 L1094.05 1834.34 L1095.65 1831.71 L1097.26 1829.07 L1098.87 1826.44 L1100.47 1823.79 L1102.08 1821.15 L1103.69 1818.5 L1105.29 1815.84 L1106.9 1813.18 L1108.51 1810.52 L1110.11 1807.85 L1111.72 1805.18 L1113.33 1802.51 L1114.93 1799.83 L1116.54 1797.14 L1118.15 1794.46 L1119.75 1791.76 L1121.36 1789.07 L1122.97 1786.37 L1124.57 1783.67 L1126.18 1780.96 L1127.79 1778.25 L1129.4 1775.54 L1131 1772.82 L1132.61 1770.1 L1134.22 1767.38 L1135.82 1764.65 L1137.43 1761.91 L1139.04 1759.18 L1140.64 1756.44 L1142.25 1753.7 L1143.86 1750.95 L1145.46 1748.2 L1147.07 1745.45 L1148.68 1742.69 L1150.28 1739.93 L1151.89 1737.17 L1153.5 1734.4 L1155.1 1731.63 L1156.71 1728.86 L1158.32 1726.09 L1159.92 1723.31 L1161.53 1720.52 L1163.14 1717.74 L1164.74 1714.95 L1166.35 1712.15 L1167.96 1709.36 L1169.56 1706.56 L1171.17 1703.76 L1172.78 1700.95 L1174.39 1698.14 L1175.99 1695.33 L1177.6 1692.52 L1179.21 1689.7 L1180.81 1686.88 L1182.42 1684.05 L1184.03 1681.23 L1185.63 1678.4 L1187.24 1675.56 L1188.85 1672.73 L1190.45 1669.89 L1192.06 1667.04 L1193.67 1664.2 L1195.27 1661.35 L1196.88 1658.5 L1198.49 1655.64 L1200.09 1652.78 L1201.7 1649.92 L1203.31 1647.05 L1204.91 1644.19 L1206.52 1641.32 L1208.13 1638.44 L1209.73 1635.56 L1211.34 1632.68 L1212.95 1629.8 L1214.55 1626.91 L1216.16 1624.02 L1217.77 1621.13 L1219.38 1618.23 L1220.98 1615.33 L1222.59 1612.43 L1224.2 1609.52 L1225.8 1606.61 L1227.41 1603.7 L1229.02 1600.78 L1230.62 1597.86 L1232.23 1594.94 L1233.84 1592.01 L1235.44 1589.08 L1237.05 1586.15 L1238.66 1583.21 L1240.26 1580.27 L1241.87 1577.33 L1243.48 1574.38 L1245.08 1571.43 L1246.69 1568.48 L1248.3 1565.52 L1249.9 1562.56 L1251.51 1559.59 L1253.12 1556.62 L1254.72 1553.65 L1256.33 1550.67 L1257.94 1547.69 L1259.54 1544.7 L1261.15 1541.71 L1262.76 1538.72 L1264.37 1535.72 L1265.97 1532.72 L1267.58 1529.72 L1267.96 1529" fill="none" stroke="#000" stroke-width="8" stroke-linecap="round" stroke-linejoin="round" stroke-dasharray="58 24 9 39" stroke-dashoffset="40"/>
<path d="M337.25 2299 L338.86 2299 L340.46 2299 L342.07 2299 L343.68 2299 L345.28 2299 L346.89 2299 L348.5 2299 L350.1 2299 L351.71 2299 L353.32 2299 L354.92 2299 L356.53 2299 L358.14 2299 L359.74 2299 L361.35 2299 L362.96 2299 L364.57 2299 L366.17 2299 L367.78 2299 L369.39 2299 L370.99 2299 L372.6 2298.99 L374.21 2298.99 L375.81 2298.99 L377.42 2298.99 L379.03 2298.99 L380.63 2298.99 L382.24 2298.98 L383.85 2298.98 L385.45 2298.98 L387.06 2298.98 L388.67 2298.97 L390.27 2298.97 L391.88 2298.96 L393.49 2298.96 L395.09 2298.96 L396.7 2298.95 L398.31 2298.94 L399.91 2298.94 L401.52 2298.93 L403.13 2298.92 L404.73 2298.92 L406.34 2298.91 L407.95 2298.9 L409.56 2298.89 L411.16 2298.88 L412.77 2298.87 L414.38 2298.85 L415.98 2298.84 L417.59 2298.83 L419.2 2298.81 L420.8 2298.8 L422.41 2298.78 L424.02 2298.76 L425.62 2298.75 L427.23 2298.73 L428.84 2298.71 L430.44 2298.68 L432.05 2298.66 L433.66 2298.64 L435.26 2298.61 L436.87 2298.59 L438.48 2298.56 L440.08 2298.53 L441.69 2298.5 L443.3 2298.46 L444.9 2298.43 L446.51 2298.4 L448.12 2298.36 L449.72 2298.32 L451.33 2298.28 L452.94 2298.24 L454.55 2298.19 L456.15 2298.15 L457.76 2298.1 L459.37 2298.05 L460.97 2297.99 L462.58 2297.94 L464.19 2297.88 L465.79 2297.82 L467.4 2297.76 L469.01 2297.7 L470.61 2297.63 L472.22 2297.56 L473.83 2297.49 L475.43 2297.42 L477.04 2297.34 L478.65 2297.26 L480.25 2297.18 L481.86 2297.1 L483.47 2297.01 L485.07 2296.92 L486.68 2296.82 L488.29 2296.73 L489.89 2296.63 L491.5 2296.52 L493.11 2296.41 L494.71 2296.3 L496.32 2296.19 L497.93 2296.07 L499.54 2295.95 L501.14 2295.82 L502.75 2295.69 L504.36 2295.56 L505.96 2295.42 L507.57 2295.28 L509.18 2295.14 L510.78 2294.99 L512.39 2294.83 L514 2294.67 L515.6 2294.51 L517.21 2294.34 L518.82 2294.17 L520.42 2293.99 L522.03 2293.81 L523.64 2293.63 L525.24 2293.43 L526.85 2293.24 L528.46 2293.03 L530.06 2292.83 L531.67 2292.61 L533.28 2292.39 L534.88 2292.17 L536.49 2291.94 L538.1 2291.7 L539.7 2291.46 L541.31 2291.21 L542.92 2290.96 L544.53 2290.7 L546.13 2290.43 L547.74 2290.16 L549.35 2289.88 L550.95 2289.6 L552.56 2289.3 L554.17 2289.01 L555.77 2288.7 L557.38 2288.39 L558.99 2288.06 L560.59 2287.74 L562.2 2287.4 L563.81 2287.06 L565.41 2286.71 L567.02 2286.35 L568.63 2285.99 L570.23 2285.61 L571.84 2285.23 L573.45 2284.84 L575.05 2284.44 L576.66 2284.04 L578.27 2283.62 L579.87 2283.2 L581.48 2282.76 L583.09 2282.32 L584.69 2281.87 L586.3 2281.41 L587.91 2280.95 L589.52 2280.47 L591.12 2279.98 L592.73 2279.48 L594.34 2278.98 L595.94 2278.46 L597.55 2277.93 L599.16 2277.39 L600.76 2276.85 L602.37 2276.29 L603.98 2275.72 L605.58 2275.14 L607.19 2274.55 L608.8 2273.95 L610.4 2273.34 L612.01 2272.72 L613.62 2272.08 L615.22 2271.44 L616.83 2270.78 L618.44 2270.11 L620.04 2269.43 L621.65 2268.74 L623.26 2268.03 L624.86 2267.31 L626.47 2266.58 L628.08 2265.84 L629.68 2265.08 L631.29 2264.32 L632.9 2263.53 L634.51 2262.74 L636.11 2261.93 L637.72 2261.11 L639.33 2260.27 L640.93 2259.42 L642.54 2258.56 L644.15 2257.68 L645.75 2256.79 L647.36 2255.88 L648.97 2254.96 L650.57 2254.03 L652.18 2253.08 L653.79 2252.11 L655.39 2251.13 L657 2250.13 L658.61 2249.12 L660.21 2248.09 L661.82 2247.05 L663.43 2245.99 L665.03 2244.91 L666.64 2243.82 L668.25 2242.71 L669.85 2241.58 L671.46 2240.44 L673.07 2239.28 L674.67 2238.1 L676.28 2236.91 L677.89 2235.7 L679.5 2234.47 L681.1 2233.22 L682.71 2231.95 L684.32 2230.67 L685.92 2229.36 L687.53 2228.04 L689.14 2226.7 L690.74 2225.34 L692.35 2223.96 L693.96 2222.56 L695.56 2221.15 L697.17 2219.71 L698.78 2218.25 L700.38 2216.77 L701.99 2215.27 L703.6 2213.76 L705.2 2212.22 L706.81 2210.66 L708.42 2209.07 L710.02 2207.47 L711.63 2205.85 L713.24 2204.2 L714.84 2202.53 L716.45 2200.84 L718.06 2199.13 L719.66 2197.4 L721.27 2195.64 L722.88 2193.86 L724.49 2192.05 L726.09 2190.23 L727.7 2188.38 L729.31 2186.5 L730.91 2184.61 L732.52 2182.68 L734.13 2180.74 L735.73 2178.77 L737.34 2176.77 L738.95 2174.75 L740.55 2172.71 L742.16 2170.64 L743.77 2168.54 L745.37 2166.42 L746.98 2164.27 L748.59 2162.1 L750.19 2159.9 L751.8 2157.67 L753.41 2155.41 L755.01 2153.13 L756.62 2150.83 L758.23 2148.49 L759.83 2146.13 L761.44 2143.74 L763.05 2141.32 L764.65 2138.87 L766.26 2136.39 L767.87 2133.89 L769.48 2131.35 L771.08 2128.79 L772.69 2126.19 L774.3 2123.57 L775.9 2120.92 L777.51 2118.24 L779.12 2115.52 L780.72 2112.78 L782.33 2110 L783.94 2107.2 L785.54 2104.36 L787.15 2101.49 L788.76 2098.59 L790.36 2095.66 L791.97 2092.69 L793.58 2089.69 L795.18 2086.66 L796.79 2083.6 L798.4 2080.5 L800 2077.37 L801.61 2074.21 L803.22 2071.01 L804.82 2067.77 L806.43 2064.51 L808.04 2061.21 L809.64 2057.87 L811.25 2054.5 L812.86 2051.09 L814.47 2047.65 L816.07 2044.17 L817.68 2040.65 L819.29 2037.1 L820.89 2033.51 L822.5 2029.88 L824.11 2026.22 L825.71 2022.52 L827.32 2018.78 L828.93 2015 L830.53 2011.19 L832.14 2007.33 L833.75 2003.44 L835.35 1999.51 L836.96 1995.54 L838.57 1991.53 L840.17 1987.48 L841.78 1983.39 L843.39 1979.26 L844.99 1975.08 L846.6 1970.87 L848.21 1966.62 L849.81 1962.32 L851.42 1957.98 L853.03 1953.6 L854.63 1949.18 L856.24 1944.72 L857.85 1940.21 L859.46 1935.66 L861.06 1931.06 L862.67 1926.42 L864.28 1921.74 L865.88 1917.02 L867.49 1912.25 L869.1 1907.43 L870.7 1902.57 L872.31 1897.66 L873.92 1892.71 L875.52 1887.71 L877.13 1882.67 L878.74 1877.58 L880.34 1872.44 L881.95 1867.25 L883.56 1862.02 L885.16 1856.74 L886.77 1851.41 L888.38 1846.03 L889.98 1840.61 L891.59 1835.13 L893.2 1829.61 L894.8 1824.04 L896.41 1818.41 L898.02 1812.74 L899.62 1807.02 L901.23 1801.24 L902.84 1795.41 L904.45 1789.54 L906.05 1783.61 L907.66 1777.63 L909.27 1771.6 L910.87 1765.51 L912.48 1759.37 L914.09 1753.18 L915.69 1746.93 L917.3 1740.64 L918.91 1734.28 L920.51 1727.87 L922.12 1721.41 L923.73 1714.89 L925.33 1708.32 L926.94 1701.69 L928.55 1695.01 L930.15 1688.27 L931.76 1681.47 L933.37 1674.61 L934.97 1667.7 L936.58 1660.73 L938.19 1653.71 L939.79 1646.62 L941.4 1639.47 L943.01 1632.27 L944.61 1625.01 L946.22 1617.69 L947.83 1610.3 L949.44 1602.86 L951.04 1595.36 L952.65 1587.79 L954.26 1580.17 L955.86 1572.48 L957.47 1564.73 L959.08 1556.92 L960.68 1549.05 L962.29 1541.11 L963.9 1533.11 L964.72 1529" fill="none" stroke="#ff0000" stroke-width="11" stroke-linecap="butt" stroke-linejoin="round"/>
<line x1="336" y1="1913.5" x2="1781.5" y2="1913.5" stroke="#000" stroke-width="6" stroke-linecap="butt" stroke-dasharray="20 11.5"/>
<rect x="336" y="1529" width="1445.5" height="770" fill="none" stroke="#222" stroke-width="4"/>
<line x1="578" y1="2299" x2="578" y2="2276" stroke="#222" stroke-width="3.5" stroke-linecap="butt"/>
<line x1="578" y1="1529" x2="578" y2="1552" stroke="#222" stroke-width="3.5" stroke-linecap="butt"/>
<line x1="1059.5" y1="2299" x2="1059.5" y2="2276" stroke="#222" stroke-width="3.5" stroke-linecap="butt"/>
<line x1="1059.5" y1="1529" x2="1059.5" y2="1552" stroke="#222" stroke-width="3.5" stroke-linecap="butt"/>
<line x1="1541" y1="2299" x2="1541" y2="2276" stroke="#222" stroke-width="3.5" stroke-linecap="butt"/>
<line x1="1541" y1="1529" x2="1541" y2="1552" stroke="#222" stroke-width="3.5" stroke-linecap="butt"/>
<line x1="336" y1="2042.33" x2="359" y2="2042.33" stroke="#222" stroke-width="3.5" stroke-linecap="butt"/>
<line x1="1781.5" y1="2042.33" x2="1758.5" y2="2042.33" stroke="#222" stroke-width="3.5" stroke-linecap="butt"/>
<line x1="336" y1="1785.67" x2="359" y2="1785.67" stroke="#222" stroke-width="3.5" stroke-linecap="butt"/>
<line x1="1781.5" y1="1785.67" x2="1758.5" y2="1785.67" stroke="#222" stroke-width="3.5" stroke-linecap="butt"/>
<text transform="matrix(1.12 0 0 1 308.9 2323)" font-size="72" fill="#000" text-anchor="end"><tspan>0</tspan></text>
<text transform="matrix(1.08 0 0 1 309.23 2065.5)" font-size="72" fill="#000" text-anchor="end"><tspan>10</tspan></text>
<text transform="matrix(1.12 0 0 1 307.79 1810)" font-size="72" fill="#000" text-anchor="end"><tspan>20</tspan></text>
<text transform="matrix(1.1 0 0 1 309 1552.5)" font-size="72" fill="#000" text-anchor="end"><tspan>30</tspan></text>
<text transform="matrix(1.08 0 0 1 577.48 2375)" font-size="72" fill="#000" text-anchor="middle"><tspan>120</tspan></text>
<text transform="matrix(1.08 0 0 1 1061.03 2381.5)" font-size="72" fill="#000" text-anchor="middle"><tspan>140</tspan></text>
<text transform="matrix(1.08 0 0 1 1537.03 2381.5)" font-size="72" fill="#000" text-anchor="middle"><tspan>160</tspan></text>
<text transform="matrix(1.17 0 0 1 1045.88 2458)" font-size="83" fill="#000" text-anchor="middle"><tspan>Current, </tspan><tspan font-style="italic">I</tspan><tspan> / A</tspan></text>
<text transform="matrix(0 -1 1.1 0 96.5 1912)" font-size="85.5" fill="#000" text-anchor="middle"><tspan>Voltage, </tspan><tspan font-style="italic">V</tspan><tspan> / μV</tspan></text>
<text transform="matrix(1.14 0 0 1 387.13 1614)" font-size="88" fill="#000" stroke="#fff" stroke-width="1.4" stroke-linejoin="round"><tspan>(b)</tspan></text>
<text transform="matrix(1.05 0 0 1 368.14 1720)" font-size="72" fill="#000"><tspan font-style="italic">K</tspan><tspan dy="12.5" font-size="50">eq</tspan><tspan dy="-12.5">=10</tspan></text>
<line x1="625" y1="1694" x2="669.7" y2="1694" stroke="#000" stroke-width="4" stroke-linecap="butt"/>
<polygon points="722.7,1694 667.7,1709 667.7,1679" fill="#000" stroke="#000" stroke-width="1" stroke-linejoin="miter"/>
<text transform="matrix(1.14 0 0 1 333.82 1820)" font-size="72" fill="#000"><tspan>(Case A)</tspan></text>
<text transform="matrix(1.06 0 0 1 1376.09 1685)" font-size="72" fill="#000"><tspan font-style="italic">K</tspan><tspan dy="12.5" font-size="50">eq</tspan><tspan dy="-12.5">=1</tspan></text>
<line x1="1353" y1="1663.5" x2="1259.5" y2="1663.5" stroke="#000" stroke-width="4" stroke-linecap="butt"/>
<polygon points="1211.5,1663.5 1261.5,1649.5 1261.5,1677.5" fill="#000" stroke="#000" stroke-width="1" stroke-linejoin="miter"/>
<text transform="matrix(1.11 0 0 1 1323.71 1785)" font-size="72" fill="#000"><tspan>(Case B)</tspan></text>
<text transform="matrix(1.08 0 0 1 403.12 2028)" font-size="72" fill="#000"><tspan font-style="italic">I</tspan><tspan dy="12.5" font-size="50">c,lower</tspan></text>
<line x1="560" y1="1998.5" x2="637.73" y2="1939.58" stroke="#000" stroke-width="4" stroke-linecap="butt"/>
<polygon points="672,1913.6 646.11,1953.93 626.17,1927.63" fill="#000" stroke="#000" stroke-width="1" stroke-linejoin="miter"/>
<text transform="matrix(1.11 0 0 1 1173.97 2004)" font-size="72" fill="#000"><tspan font-style="italic">I</tspan><tspan dy="12.5" font-size="50">c,upper</tspan></text>
<line x1="1158.4" y1="1972.7" x2="1084.79" y2="1937.97" stroke="#000" stroke-width="4" stroke-linecap="butt"/>
<polygon points="1045,1919.2 1093.64,1923.9 1079.56,1953.75" fill="#000" stroke="#000" stroke-width="1" stroke-linejoin="miter"/>
<ellipse cx="872" cy="1913" rx="12" ry="11" fill="#ff0000" stroke="#ff0000" stroke-width="0"/>
<line x1="910.43" y1="1935.86" x2="1198.77" y2="2122.94" stroke="#ff0000" stroke-width="4" stroke-linecap="butt"/>
<polygon points="1234,2145.8 1186.75,2137.79 1207.43,2105.91" fill="#ff0000" stroke="#ff0000" stroke-width="1" stroke-linejoin="miter"/>
<polygon points="875.2,1913 922.45,1921.01 901.77,1952.89" fill="#ff0000" stroke="#ff0000" stroke-width="1" stroke-linejoin="miter"/>
<text transform="matrix(1.12 0 0 1 1251.88 2158.5)" font-size="72" fill="#da1020"><tspan font-style="italic">I</tspan><tspan dy="12.5" font-size="50">c</tspan><tspan dy="-12.5">=132 A</tspan></text>
<text transform="matrix(1.11 0 0 1 1245.07 2256)" font-size="72" fill="#da1020"><tspan font-style="italic">K</tspan><tspan dy="12.5" font-size="50">eq</tspan><tspan dy="-12.5">=2.39</tspan></text>
<path d="M486.2 2680.22 L492.16 2694.22 L498.11 2707.28 L504.07 2719.5 L510.03 2730.96 L515.98 2741.76 L521.94 2751.94 L527.89 2761.59 L533.85 2770.73 L539.81 2779.42 L545.76 2787.7 L551.72 2795.59 L557.68 2803.14 L563.63 2810.36 L569.59 2817.28 L575.54 2823.92 L581.5 2830.31 L587.46 2836.45 L593.41 2842.37 L599.37 2848.08 L605.33 2853.59 L611.28 2858.92 L617.24 2864.07 L623.19 2869.06 L629.15 2873.89 L635.11 2878.58 L641.06 2883.12 L647.02 2887.54 L652.98 2891.83 L658.93 2896 L664.89 2900.06 L670.84 2904.01 L676.8 2907.86 L682.76 2911.61 L688.71 2915.27 L694.67 2918.84 L700.63 2922.32 L706.58 2925.73 L712.54 2929.05 L718.49 2932.3 L724.45 2935.48 L730.41 2938.59 L736.36 2941.63 L742.32 2944.61 L748.28 2947.52 L754.23 2950.38 L760.19 2953.18 L766.15 2955.93 L772.1 2958.62 L778.06 2961.26 L784.01 2963.86 L789.97 2966.4 L795.93 2968.9 L801.88 2971.35 L807.84 2973.76 L813.8 2976.13 L819.75 2978.46 L825.71 2980.75 L831.66 2983 L837.62 2985.21 L843.58 2987.39 L849.53 2989.53 L855.49 2991.64 L861.45 2993.72 L867.4 2995.76 L873.36 2997.77 L879.31 2999.76 L885.27 3001.71 L891.23 3003.64 L897.18 3005.53 L903.14 3007.4 L909.1 3009.25 L915.05 3011.07 L921.01 3012.86 L926.96 3014.63 L932.92 3016.37 L938.88 3018.1 L944.83 3019.79 L950.79 3021.47 L956.75 3023.13 L962.7 3024.76 L968.66 3026.37 L974.62 3027.97 L980.57 3029.54 L986.53 3031.1 L992.48 3032.63 L998.44 3034.15 L1004.4 3035.65 L1010.35 3037.13 L1016.31 3038.59 L1022.27 3040.04 L1028.22 3041.47 L1034.18 3042.89 L1040.13 3044.29 L1046.09 3045.67 L1052.05 3047.04 L1058 3048.39 L1063.96 3049.73 L1069.92 3051.06 L1075.87 3052.37 L1081.83 3053.66 L1087.78 3054.95 L1093.74 3056.22 L1099.7 3057.47 L1105.65 3058.72 L1111.61 3059.95 L1117.57 3061.17 L1123.52 3062.38 L1129.48 3063.57 L1135.43 3064.76 L1141.39 3065.93 L1147.35 3067.09 L1153.3 3068.24 L1159.26 3069.38 L1165.22 3070.51 L1171.17 3071.63 L1177.13 3072.74 L1183.08 3073.84 L1189.04 3074.92 L1195 3076 L1200.95 3077.07 L1206.91 3078.13 L1212.87 3079.18 L1218.82 3080.22 L1224.78 3081.25 L1230.74 3082.28 L1236.69 3083.29 L1242.65 3084.3 L1248.6 3085.3 L1254.56 3086.28 L1260.52 3087.27 L1266.47 3088.24 L1272.43 3089.2 L1278.39 3090.16 L1284.34 3091.11 L1290.3 3092.05 L1296.25 3092.98 L1302.21 3093.91 L1308.17 3094.83 L1314.12 3095.74 L1320.08 3096.65 L1326.04 3097.55 L1331.99 3098.44 L1337.95 3099.32 L1343.9 3100.2 L1349.86 3101.07 L1355.82 3101.94 L1361.77 3102.8 L1367.73 3103.65 L1373.69 3104.5 L1379.64 3105.34 L1385.6 3106.17 L1391.55 3107 L1397.51 3107.82 L1403.47 3108.64 L1409.42 3109.45 L1415.38 3110.25 L1421.34 3111.05 L1427.29 3111.84 L1433.25 3112.63 L1439.21 3113.42 L1445.16 3114.19 L1451.12 3114.96 L1457.07 3115.73 L1463.03 3116.49 L1468.99 3117.25 L1474.94 3118 L1480.9 3118.75 L1486.86 3119.49 L1492.81 3120.23 L1498.77 3120.96 L1504.72 3121.69 L1510.68 3122.41 L1516.64 3123.13 L1522.59 3123.85 L1528.55 3124.55 L1534.51 3125.26 L1540.46 3125.96 L1546.42 3126.66 L1552.37 3127.35 L1558.33 3128.04 L1564.29 3128.72 L1570.24 3129.4 L1576.2 3130.08 L1582.16 3130.75 L1588.11 3131.41 L1594.07 3132.08 L1600.02 3132.74 L1605.98 3133.39 L1611.94 3134.05 L1617.89 3134.69 L1623.85 3135.34 L1629.81 3135.98 L1635.76 3136.62 L1641.72 3137.25 L1647.67 3137.88 L1653.63 3138.5 L1659.59 3139.13 L1665.54 3139.75 L1671.5 3140.34" fill="none" stroke="#000" stroke-width="7.5" stroke-linecap="butt" stroke-linejoin="round"/>
<line x1="451.5" y1="3145.5" x2="1672" y2="3145.5" stroke="#000" stroke-width="7" stroke-linecap="butt" stroke-dasharray="38 26.4"/>
<ellipse cx="486.2" cy="2675.5" rx="23" ry="21" fill="none" stroke="#000" stroke-width="2.9"/>
<ellipse cx="617.9" cy="2862.5" rx="23" ry="21" fill="none" stroke="#000" stroke-width="2.9"/>
<ellipse cx="749.6" cy="2948" rx="23" ry="21" fill="none" stroke="#000" stroke-width="2.9"/>
<ellipse cx="881.3" cy="3001" rx="23" ry="21" fill="none" stroke="#000" stroke-width="2.9"/>
<ellipse cx="1013" cy="3037.8" rx="23" ry="21" fill="none" stroke="#000" stroke-width="2.9"/>
<ellipse cx="1144.7" cy="3068" rx="23" ry="21" fill="none" stroke="#000" stroke-width="2.9"/>
<ellipse cx="1276.4" cy="3091" rx="23" ry="21" fill="none" stroke="#000" stroke-width="2.9"/>
<ellipse cx="1408.1" cy="3108.5" rx="23" ry="21" fill="none" stroke="#000" stroke-width="2.9"/>
<ellipse cx="1539.8" cy="3126" rx="23" ry="21" fill="none" stroke="#000" stroke-width="2.9"/>
<ellipse cx="1671.5" cy="3140" rx="23" ry="21" fill="none" stroke="#000" stroke-width="2.9"/>
<ellipse cx="669.5" cy="2904" rx="24" ry="21" fill="#ff0000" stroke="#ff0000" stroke-width="0"/>
<line x1="668.6" y1="2977.5" x2="668.6" y2="3095.7" stroke="#ff0000" stroke-width="5" stroke-linecap="butt"/>
<polygon points="668.6,3145.7 648.6,3093.7 688.6,3093.7" fill="#ff0000" stroke="#ff0000" stroke-width="1" stroke-linejoin="miter"/>
<polygon points="668.6,2927.5 688.6,2979.5 648.6,2979.5" fill="#ff0000" stroke="#ff0000" stroke-width="1" stroke-linejoin="miter"/>
<rect x="355" y="2506" width="1447.5" height="771" fill="none" stroke="#222" stroke-width="4"/>
<line x1="617.9" y1="3277" x2="617.9" y2="3254" stroke="#222" stroke-width="3.5" stroke-linecap="butt"/>
<line x1="617.9" y1="2506" x2="617.9" y2="2529" stroke="#222" stroke-width="3.5" stroke-linecap="butt"/>
<line x1="881.3" y1="3277" x2="881.3" y2="3254" stroke="#222" stroke-width="3.5" stroke-linecap="butt"/>
<line x1="881.3" y1="2506" x2="881.3" y2="2529" stroke="#222" stroke-width="3.5" stroke-linecap="butt"/>
<line x1="1144.7" y1="3277" x2="1144.7" y2="3254" stroke="#222" stroke-width="3.5" stroke-linecap="butt"/>
<line x1="1144.7" y1="2506" x2="1144.7" y2="2529" stroke="#222" stroke-width="3.5" stroke-linecap="butt"/>
<line x1="1408.1" y1="3277" x2="1408.1" y2="3254" stroke="#222" stroke-width="3.5" stroke-linecap="butt"/>
<line x1="1408.1" y1="2506" x2="1408.1" y2="2529" stroke="#222" stroke-width="3.5" stroke-linecap="butt"/>
<line x1="1671.5" y1="3277" x2="1671.5" y2="3254" stroke="#222" stroke-width="3.5" stroke-linecap="butt"/>
<line x1="1671.5" y1="2506" x2="1671.5" y2="2529" stroke="#222" stroke-width="3.5" stroke-linecap="butt"/>
<line x1="355" y1="3122.8" x2="378" y2="3122.8" stroke="#222" stroke-width="3.5" stroke-linecap="butt"/>
<line x1="1802.5" y1="3122.8" x2="1779.5" y2="3122.8" stroke="#222" stroke-width="3.5" stroke-linecap="butt"/>
<line x1="355" y1="2968.6" x2="378" y2="2968.6" stroke="#222" stroke-width="3.5" stroke-linecap="butt"/>
<line x1="1802.5" y1="2968.6" x2="1779.5" y2="2968.6" stroke="#222" stroke-width="3.5" stroke-linecap="butt"/>
<line x1="355" y1="2814.4" x2="378" y2="2814.4" stroke="#222" stroke-width="3.5" stroke-linecap="butt"/>
<line x1="1802.5" y1="2814.4" x2="1779.5" y2="2814.4" stroke="#222" stroke-width="3.5" stroke-linecap="butt"/>
<line x1="355" y1="2660.2" x2="378" y2="2660.2" stroke="#222" stroke-width="3.5" stroke-linecap="butt"/>
<line x1="1802.5" y1="2660.2" x2="1779.5" y2="2660.2" stroke="#222" stroke-width="3.5" stroke-linecap="butt"/>
<text transform="matrix(1.1 0 0 1 319.88 3303)" font-size="72" fill="#000" text-anchor="end"><tspan>120</tspan></text>
<text transform="matrix(1.1 0 0 1 319.91 3149)" font-size="72" fill="#000" text-anchor="end"><tspan>125</tspan></text>
<text transform="matrix(1.1 0 0 1 319.88 2995)" font-size="72" fill="#000" text-anchor="end"><tspan>130</tspan></text>
<text transform="matrix(1.1 0 0 1 319.91 2841)" font-size="72" fill="#000" text-anchor="end"><tspan>135</tspan></text>
<text transform="matrix(1.1 0 0 1 319.88 2687)" font-size="72" fill="#000" text-anchor="end"><tspan>140</tspan></text>
<text transform="matrix(1.1 0 0 1 319.91 2533.5)" font-size="72" fill="#000" text-anchor="end"><tspan>145</tspan></text>
<text transform="matrix(1.09 0 0 1 347 3361)" font-size="72" fill="#000" text-anchor="middle"><tspan>0</tspan></text>
<text transform="matrix(1.12 0 0 1 608.9 3361)" font-size="72" fill="#000" text-anchor="middle"><tspan>2</tspan></text>
<text transform="matrix(1.08 0 0 1 871.79 3361)" font-size="72" fill="#000" text-anchor="middle"><tspan>4</tspan></text>
<text transform="matrix(1.12 0 0 1 1136.19 3361)" font-size="72" fill="#000" text-anchor="middle"><tspan>6</tspan></text>
<text transform="matrix(1.12 0 0 1 1400.1 3361)" font-size="72" fill="#000" text-anchor="middle"><tspan>8</tspan></text>
<text transform="matrix(1.12 0 0 1 1662.48 3361)" font-size="72" fill="#000" text-anchor="middle"><tspan>10</tspan></text>
<text transform="matrix(1.16 0 0 1 1056.89 3469.5)" font-size="83" fill="#000" text-anchor="middle"><tspan>Number of sections</tspan></text>
<text transform="matrix(1.16 0 0 1 1058.42 3567.5)" font-size="83" fill="#000" text-anchor="middle"><tspan>equivalent to smallest ligament</tspan></text>
<text transform="matrix(1.16 0 0 1 1068.95 3663)" font-size="83" fill="#000" text-anchor="middle"><tspan>(=largest crack)-section, </tspan><tspan font-style="italic">K</tspan><tspan dy="24" font-size="56">eq</tspan></text>
<text transform="matrix(0 -1 1.1 0 96 2880)" font-size="86.6" fill="#000" text-anchor="middle"><tspan>Critical current, </tspan><tspan font-style="italic">I</tspan><tspan dy="22" font-size="58">c</tspan><tspan dy="-22"> / A</tspan></text>
<text transform="matrix(1.15 0 0 1 394.05 2602)" font-size="88" fill="#000" stroke="#fff" stroke-width="1.6" stroke-linejoin="round"><tspan>(c)</tspan></text>
<line x1="639" y1="2603" x2="563.69" y2="2639.02" stroke="#000" stroke-width="4" stroke-linecap="butt"/>
<polygon points="524,2658 558.38,2623.27 572.62,2653.04" fill="#000" stroke="#000" stroke-width="1" stroke-linejoin="miter"/>
<text transform="matrix(1.11 0 0 1 663.09 2616.5)" font-size="72" fill="#000"><tspan font-style="italic">K</tspan><tspan dy="18" font-size="50">eq</tspan><tspan dy="-18">=1, </tspan><tspan font-style="italic">I</tspan><tspan dy="18" font-size="50">c,upper</tspan><tspan dy="-18"> (Case B)</tspan></text>
<line x1="816" y1="2797.6" x2="722.38" y2="2861.26" stroke="#ff0000" stroke-width="4" stroke-linecap="butt"/>
<polygon points="686,2886 713.92,2845.25 734.16,2875.02" fill="#ff0000" stroke="#ff0000" stroke-width="1" stroke-linejoin="miter"/>
<text transform="matrix(1.13 0 0 1 737.08 2756)" font-size="72" fill="#da1020"><tspan>(</tspan><tspan font-style="italic">K</tspan><tspan dy="18" font-size="50">eq</tspan><tspan dy="-18">=2.39, </tspan><tspan font-style="italic">I</tspan><tspan dy="18" font-size="50">c</tspan><tspan dy="-18">=132 A)</tspan></text>
<text transform="matrix(1.11 0 0 1 961.97 2886)" font-size="72" fill="#000"><tspan font-style="italic">K</tspan><tspan dy="18" font-size="50">eq</tspan><tspan dy="-18">=10, </tspan><tspan font-style="italic">I</tspan><tspan dy="18" font-size="50">c,lower</tspan><tspan dy="-18"> (Case A)</tspan></text>
<line x1="1359" y1="2937" x2="1627.78" y2="3089.32" stroke="#000" stroke-width="4" stroke-linecap="butt"/>
<polygon points="1667.8,3112 1617.66,3103.12 1634.42,3073.54" fill="#000" stroke="#000" stroke-width="1" stroke-linejoin="miter"/>
</svg>
</body></html>
